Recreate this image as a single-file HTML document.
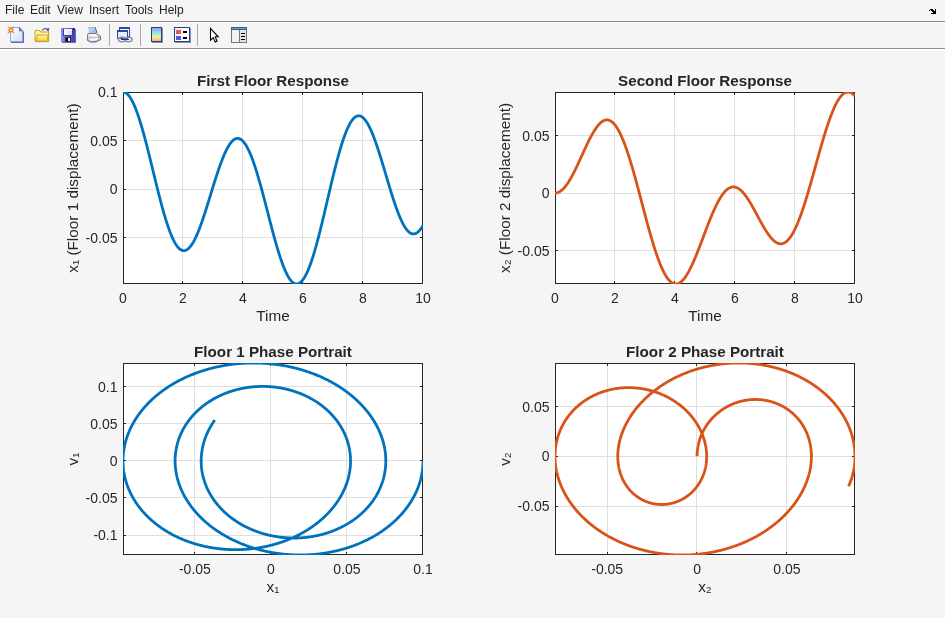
<!DOCTYPE html>
<html><head><meta charset="utf-8"><style>
html,body{margin:0;padding:0;width:945px;height:618px;overflow:hidden;background:#f5f5f5;font-family:"Liberation Sans",sans-serif;}
#wrap{position:absolute;left:0;top:0;width:945px;height:618px;will-change:transform;}
#menu{position:absolute;left:0;top:0;width:945px;height:21px;}
#menu span{position:absolute;top:3px;font-size:12px;color:#222;-webkit-font-smoothing:antialiased;}
.sep{position:absolute;left:0;width:945px;height:1px;background:#8e8e8e;}
.sepw{position:absolute;left:0;width:945px;height:1px;background:#fff;}
svg text{font-family:"Liberation Sans",sans-serif;fill:#262626;}
.tk{font-size:14px;}
.lb{font-size:15.3px;}
.ti{font-size:15.2px;font-weight:bold;}
</style></head><body><div id="wrap">
<div id="menu">
<span style="left:5px">File</span><span style="left:30px">Edit</span><span style="left:57px">View</span><span style="left:89px">Insert</span><span style="left:125px">Tools</span><span style="left:159px">Help</span>
</div>
<div class="sep" style="top:21px"></div><div class="sepw" style="top:22px"></div>
<div class="sep" style="top:48px"></div><div class="sepw" style="top:49px"></div>
<svg style="position:absolute;left:0;top:0" width="945" height="50" shape-rendering="crispEdges">
<defs>
<linearGradient id="gpage" x1="0" y1="0" x2="1" y2="1"><stop offset="0" stop-color="#ffffff"/><stop offset="1" stop-color="#cfe0f8"/></linearGradient>
<linearGradient id="gfold" x1="0" y1="0" x2="0" y2="1"><stop offset="0" stop-color="#fff6a8"/><stop offset="1" stop-color="#f2cd48"/></linearGradient>
<linearGradient id="gcbar" x1="0" y1="0" x2="0" y2="1"><stop offset="0" stop-color="#a09af0"/><stop offset="0.35" stop-color="#8ae8e8"/><stop offset="0.7" stop-color="#f4f08a"/><stop offset="1" stop-color="#f8b080"/></linearGradient>
<linearGradient id="gprint" x1="0" y1="0" x2="0" y2="1"><stop offset="0" stop-color="#f4f4f4"/><stop offset="1" stop-color="#a8a8a8"/></linearGradient>
<linearGradient id="gpaper" x1="0" y1="0" x2="1" y2="1"><stop offset="0" stop-color="#c8dcf8"/><stop offset="1" stop-color="#8fb8ec"/></linearGradient>
</defs>
<!-- new figure -->
<g shape-rendering="auto">
<path d="M11,29 L21,29 L24,32 L24,43 L11,43 Z" fill="#686c9c"/>
<path d="M10,27 L19.5,27 L23,30.5 L23,42 L10,42 Z" fill="#88a8e0"/>
<path d="M11,28 L19,28 L22,31 L22,41 L11,41 Z" fill="url(#gpage)"/>
<path d="M19,27 L23.2,31.2 L19,31.2 Z" fill="#5a5ea8"/>
<rect x="19.6" y="29.2" width="1.4" height="1.4" fill="#8aa0e0"/>
<circle cx="11" cy="30" r="2.6" fill="#e8743c"/>
<circle cx="11" cy="30" r="1.3" fill="#f0e860"/>
<circle cx="8.3" cy="27.3" r="0.7" fill="#e8743c"/>
<circle cx="13.7" cy="27.3" r="0.7" fill="#e8743c"/>
<circle cx="8.3" cy="32.7" r="0.7" fill="#e8743c"/>
<circle cx="13.7" cy="32.7" r="0.7" fill="#e8743c"/>
</g>
<!-- open -->
<g shape-rendering="auto">
<rect x="35.5" y="33" width="14" height="9.5" fill="#b8c8e0" opacity="0.6"/>
<path d="M34.5,31.5 L35.5,30 L40,30 L41,31.5 L48,31.5 L49,32.5 L49,41 L48,42 L35.5,42 L34.5,41 Z" fill="#d4a418"/>
<path d="M35.5,32 L36,31 L39.5,31 L40.5,32.5 L48,32.5 L48,41 L35.5,41 Z" fill="#fff2a8"/>
<path d="M37,34.5 L48.5,34.5 L47.5,41.5 L35,41.5 Z" fill="#d4a418"/>
<path d="M37.8,35.5 L47.5,35.5 L46.7,40.7 L36.2,40.7 Z" fill="url(#gfold)"/>
<path d="M42,30.5 Q44.5,27.3 47.3,29.2" fill="none" stroke="#3c5a9c" stroke-width="1.1"/>
<polygon points="45.8,29 49.3,28 48.6,32" fill="#3c5a9c"/>
</g>
<!-- save -->
<linearGradient id="gsave" x1="0" y1="0" x2="1" y2="0"><stop offset="0" stop-color="#9090ec"/><stop offset="0.5" stop-color="#5a5ad8"/><stop offset="1" stop-color="#3c3cb4"/></linearGradient>
<rect x="62" y="29" width="14" height="14" fill="#6a7098"/>
<rect x="61" y="28" width="14" height="14" fill="#4a4ab8"/>
<rect x="61" y="28" width="14" height="14" fill="url(#gsave)"/>
<rect x="63" y="29" width="10" height="7" fill="#3a3aa8"/>
<rect x="64" y="29" width="8" height="6" fill="#f4f4fc"/>
<rect x="68" y="31" width="4" height="4" fill="#dde0f4"/>
<rect x="73" y="28" width="1" height="2" fill="#202060"/>
<rect x="65" y="37" width="6" height="5" fill="#303040"/>
<rect x="66" y="38" width="2" height="3" fill="#000"/>
<rect x="68" y="38" width="2" height="3" fill="#f0f0f8"/>
<!-- print -->
<g shape-rendering="auto">
<polygon points="88,27 94.5,27 96.5,33 89,33" fill="url(#gpaper)"/>
<polygon points="88,27 94.5,27 94.5,28 88,28" fill="#a8b0e0"/>
<polygon points="94.5,27 95.5,27 97.5,33 96.5,33" fill="#505870"/>
<polygon points="88,33 96,33 101,36 101,40 96,42.5 90,42.5 87,40.5 87,35" fill="#7c7c7c"/>
<polygon points="88.2,34 95.8,34 100,36.5 100,39.5 95.8,41.5 90.2,41.5 88,40 88,35.5" fill="url(#gprint)"/>
<polygon points="88.5,34.2 95.5,34.2 99,36.2 92,36.2" fill="#f8f8f8"/>
<polygon points="88.5,39 99.5,38 95.5,40.8 90.5,40.8" fill="#fafafa"/>
<rect x="98" y="36.5" width="1.2" height="1.5" fill="#40b040"/>
<rect x="92.5" y="41.3" width="3" height="1" fill="#7070c0"/>
</g>
<!-- separators -->
<rect x="109" y="24" width="1" height="22" fill="#a8a8a8"/>
<rect x="140" y="24" width="1" height="22" fill="#a8a8a8"/>
<rect x="197" y="24" width="1" height="22" fill="#a8a8a8"/>
<!-- link -->
<rect x="119" y="27" width="11" height="10" fill="#2e4a98"/>
<rect x="120" y="29" width="9" height="7" fill="#f4f6fa"/>
<rect x="117" y="30" width="11" height="9" fill="#2e4a98"/>
<rect x="118" y="32" width="9" height="6" fill="#e6ecf6"/>
<ellipse cx="122" cy="39.5" rx="3.6" ry="2.3" fill="none" stroke="#8090b0" stroke-width="1.4" shape-rendering="auto"/>
<ellipse cx="128.5" cy="39.5" rx="3.6" ry="2.3" fill="none" stroke="#8090b0" stroke-width="1.4" shape-rendering="auto"/>
<rect x="121" y="39" width="8" height="1" fill="#2a3050"/>
<!-- colorbar -->
<rect x="151" y="27" width="11" height="15" fill="#2c3e78"/>
<rect x="152" y="28" width="9" height="13" fill="url(#gcbar)"/>
<rect x="162" y="28" width="1" height="15" fill="#8890a8"/><rect x="152" y="42" width="11" height="1" fill="#8890a8"/>
<!-- legend -->
<rect x="174" y="27" width="16" height="15" fill="#2c3e78"/>
<rect x="175" y="28" width="14" height="13" fill="#ffffff"/>
<rect x="175" y="28" width="7" height="6" fill="#eef2fa"/>
<rect x="190" y="28" width="1" height="15" fill="#8890a8"/><rect x="175" y="42" width="16" height="1" fill="#8890a8"/>
<rect x="176" y="30" width="5" height="4" fill="#e85858"/>
<rect x="176" y="36" width="5" height="4" fill="#5858e0"/>
<rect x="183" y="31" width="4" height="2" fill="#000"/>
<rect x="183" y="37" width="4" height="2" fill="#000"/>
<!-- pointer -->
<path d="M210.5,28.5 L210.5,40.2 L213.2,37.6 L215.2,42 L217,41.2 L215.2,36.8 L218.2,36.8 Z" fill="#fff" stroke="#000" stroke-width="1.1" stroke-linejoin="miter" shape-rendering="auto"/>
<!-- plot tools -->
<rect x="231" y="27" width="16" height="16" fill="#767676"/>
<rect x="231" y="27" width="16" height="3" fill="#3c5c84"/>
<rect x="232" y="28" width="14" height="1" fill="#7c9cc0"/>
<rect x="232" y="30" width="7" height="12" fill="#f0f2f4"/>
<rect x="240" y="30" width="6" height="12" fill="#e4e4e4"/>
<rect x="241" y="33" width="4" height="1" fill="#000"/>
<rect x="241" y="36" width="4" height="1" fill="#000"/>
<rect x="241" y="39" width="4" height="1" fill="#000"/>
<!-- undock arrow -->
<rect x="930" y="9" width="3" height="1" fill="#000"/>
<rect x="929" y="10" width="1" height="1" fill="#000"/>
<rect x="931" y="10" width="3" height="1" fill="#000"/>
<rect x="932" y="11" width="4" height="1" fill="#000"/>
<rect x="933" y="12" width="3" height="1" fill="#000"/>
<rect x="931" y="13" width="5" height="1" fill="#000"/>
<rect x="935" y="9" width="1" height="5" fill="#000"/>
</svg>
<svg style="position:absolute;left:0;top:0" width="945" height="618">
<clipPath id="c1"><rect x="123" y="92" width="300" height="192"/></clipPath>
<rect x="123" y="92" width="300" height="192" fill="#fff"/>
<line x1="123.5" y1="92.5" x2="123.5" y2="283.5" stroke="#dfdfdf" stroke-width="1"/>
<line x1="182.5" y1="92.5" x2="182.5" y2="283.5" stroke="#dfdfdf" stroke-width="1"/>
<line x1="242.5" y1="92.5" x2="242.5" y2="283.5" stroke="#dfdfdf" stroke-width="1"/>
<line x1="302.5" y1="92.5" x2="302.5" y2="283.5" stroke="#dfdfdf" stroke-width="1"/>
<line x1="362.5" y1="92.5" x2="362.5" y2="283.5" stroke="#dfdfdf" stroke-width="1"/>
<line x1="422.5" y1="92.5" x2="422.5" y2="283.5" stroke="#dfdfdf" stroke-width="1"/>
<line x1="123.5" y1="92.5" x2="422.5" y2="92.5" stroke="#dfdfdf" stroke-width="1"/>
<line x1="123.5" y1="140.5" x2="422.5" y2="140.5" stroke="#dfdfdf" stroke-width="1"/>
<line x1="123.5" y1="189.5" x2="422.5" y2="189.5" stroke="#dfdfdf" stroke-width="1"/>
<line x1="123.5" y1="237.5" x2="422.5" y2="237.5" stroke="#dfdfdf" stroke-width="1"/>
<line x1="123.5" y1="284" x2="123.5" y2="281" stroke="#262626" stroke-width="1"/>
<line x1="123.5" y1="92" x2="123.5" y2="95" stroke="#262626" stroke-width="1"/>
<line x1="182.5" y1="284" x2="182.5" y2="281" stroke="#262626" stroke-width="1"/>
<line x1="182.5" y1="92" x2="182.5" y2="95" stroke="#262626" stroke-width="1"/>
<line x1="242.5" y1="284" x2="242.5" y2="281" stroke="#262626" stroke-width="1"/>
<line x1="242.5" y1="92" x2="242.5" y2="95" stroke="#262626" stroke-width="1"/>
<line x1="302.5" y1="284" x2="302.5" y2="281" stroke="#262626" stroke-width="1"/>
<line x1="302.5" y1="92" x2="302.5" y2="95" stroke="#262626" stroke-width="1"/>
<line x1="362.5" y1="284" x2="362.5" y2="281" stroke="#262626" stroke-width="1"/>
<line x1="362.5" y1="92" x2="362.5" y2="95" stroke="#262626" stroke-width="1"/>
<line x1="422.5" y1="284" x2="422.5" y2="281" stroke="#262626" stroke-width="1"/>
<line x1="422.5" y1="92" x2="422.5" y2="95" stroke="#262626" stroke-width="1"/>
<line x1="123" y1="92.5" x2="126" y2="92.5" stroke="#262626" stroke-width="1"/>
<line x1="423" y1="92.5" x2="420" y2="92.5" stroke="#262626" stroke-width="1"/>
<line x1="123" y1="140.5" x2="126" y2="140.5" stroke="#262626" stroke-width="1"/>
<line x1="423" y1="140.5" x2="420" y2="140.5" stroke="#262626" stroke-width="1"/>
<line x1="123" y1="189.5" x2="126" y2="189.5" stroke="#262626" stroke-width="1"/>
<line x1="423" y1="189.5" x2="420" y2="189.5" stroke="#262626" stroke-width="1"/>
<line x1="123" y1="237.5" x2="126" y2="237.5" stroke="#262626" stroke-width="1"/>
<line x1="423" y1="237.5" x2="420" y2="237.5" stroke="#262626" stroke-width="1"/>
<rect x="123.5" y="92.5" width="299.0" height="191.0" fill="none" stroke="#262626" stroke-width="1"/>
<polyline clip-path="url(#c1)" points="123.00,92.00 123.10,92.00 123.20,92.00 123.30,92.01 123.40,92.02 123.50,92.03 123.60,92.04 123.70,92.05 123.80,92.07 123.90,92.09 124.00,92.11 124.10,92.13 124.20,92.16 124.30,92.18 124.40,92.21 124.50,92.24 124.60,92.28 124.70,92.31 124.80,92.35 124.90,92.39 125.00,92.43 125.10,92.48 125.20,92.52 125.30,92.57 125.40,92.62 125.50,92.67 125.60,92.73 125.70,92.79 125.80,92.85 125.90,92.91 126.00,92.97 126.10,93.04 126.20,93.10 126.30,93.17 126.40,93.25 126.50,93.32 126.60,93.40 126.70,93.48 126.80,93.56 126.90,93.64 127.00,93.72 127.10,93.81 127.20,93.90 127.30,93.99 127.40,94.08 127.50,94.18 127.60,94.28 127.70,94.38 127.80,94.48 127.90,94.58 128.00,94.69 128.10,94.80 128.20,94.91 128.30,95.02 128.40,95.13 128.50,95.25 128.60,95.37 128.70,95.49 128.80,95.61 128.90,95.73 129.00,95.86 129.10,95.99 129.20,96.12 129.30,96.25 129.40,96.39 129.50,96.52 129.60,96.66 129.70,96.80 129.80,96.95 129.90,97.09 130.00,97.24 130.10,97.39 130.20,97.54 130.30,97.69 130.40,97.85 130.50,98.00 130.60,98.16 130.70,98.32 130.80,98.49 130.90,98.65 131.00,98.82 131.10,98.99 131.20,99.16 131.30,99.33 131.40,99.51 131.50,99.68 131.60,99.86 131.70,100.04 131.80,100.22 131.90,100.41 132.00,100.60 132.10,100.78 132.20,100.97 132.30,101.17 132.40,101.36 132.50,101.56 132.60,101.75 132.70,101.95 132.80,102.16 132.90,102.36 133.00,102.57 133.10,102.77 133.20,102.98 133.30,103.19 133.40,103.41 133.50,103.62 133.60,103.84 133.70,104.06 133.80,104.28 133.90,104.50 134.00,104.72 134.10,104.95 134.20,105.17 134.30,105.40 134.40,105.64 134.50,105.87 134.60,106.10 134.70,106.34 134.80,106.58 134.90,106.82 135.00,107.06 135.10,107.30 135.20,107.55 135.30,107.79 135.40,108.04 135.50,108.29 135.60,108.55 135.70,108.80 135.80,109.05 135.90,109.31 136.00,109.57 136.10,109.83 136.20,110.09 136.30,110.36 136.40,110.62 136.50,110.89 136.60,111.16 136.70,111.43 136.80,111.70 136.90,111.97 137.00,112.25 137.10,112.53 137.20,112.81 137.30,113.09 137.40,113.37 137.50,113.65 137.60,113.94 137.70,114.22 137.80,114.51 137.90,114.80 138.00,115.09 138.10,115.38 138.20,115.68 138.30,115.97 138.40,116.27 138.50,116.57 138.60,116.87 138.70,117.17 138.80,117.47 138.90,117.78 139.00,118.08 139.10,118.39 139.20,118.70 139.30,119.01 139.40,119.32 139.50,119.63 139.60,119.95 139.70,120.26 139.80,120.58 139.90,120.90 140.00,121.22 140.10,121.54 140.20,121.86 140.30,122.18 140.40,122.51 140.50,122.84 140.60,123.16 140.70,123.49 140.80,123.82 140.90,124.15 141.00,124.49 141.10,124.82 141.20,125.16 141.30,125.49 141.40,125.83 141.50,126.17 141.60,126.51 141.70,126.85 141.80,127.20 141.90,127.54 142.00,127.88 142.10,128.23 142.20,128.58 142.30,128.93 142.40,129.28 142.50,129.63 142.60,129.98 142.70,130.33 142.80,130.69 142.90,131.04 143.00,131.40 143.10,131.76 143.20,132.11 143.30,132.47 143.40,132.84 143.50,133.20 143.60,133.56 143.70,133.92 143.80,134.29 143.90,134.65 144.00,135.02 144.10,135.39 144.20,135.76 144.30,136.13 144.40,136.50 144.50,136.87 144.60,137.24 144.70,137.61 144.80,137.99 144.90,138.36 145.00,138.74 145.10,139.12 145.20,139.49 145.30,139.87 145.40,140.25 145.50,140.63 145.60,141.01 145.70,141.39 145.80,141.78 145.90,142.16 146.00,142.54 146.10,142.93 146.20,143.31 146.30,143.70 146.40,144.09 146.50,144.48 146.60,144.86 146.70,145.25 146.80,145.64 146.90,146.03 147.00,146.43 147.10,146.82 147.20,147.21 147.30,147.60 147.40,148.00 147.50,148.39 147.60,148.79 147.70,149.18 147.80,149.58 147.90,149.98 148.00,150.37 148.10,150.77 148.20,151.17 148.30,151.57 148.40,151.97 148.50,152.37 148.60,152.77 148.70,153.17 148.80,153.57 148.90,153.98 149.00,154.38 149.10,154.78 149.20,155.18 149.30,155.59 149.40,155.99 149.50,156.40 149.60,156.80 149.70,157.21 149.80,157.61 149.90,158.02 150.00,158.42 150.10,158.83 150.20,159.24 150.30,159.65 150.40,160.05 150.50,160.46 150.60,160.87 150.70,161.28 150.80,161.69 150.90,162.10 151.00,162.51 151.10,162.91 151.20,163.32 151.30,163.73 151.40,164.14 151.50,164.55 151.60,164.96 151.70,165.38 151.80,165.79 151.90,166.20 152.00,166.61 152.10,167.02 152.20,167.43 152.30,167.84 152.40,168.25 152.50,168.66 152.60,169.08 152.70,169.49 152.80,169.90 152.90,170.31 153.00,170.72 153.10,171.13 153.20,171.54 153.30,171.96 153.40,172.37 153.50,172.78 153.60,173.19 153.70,173.60 153.80,174.01 153.90,174.42 154.00,174.83 154.10,175.24 154.20,175.66 154.30,176.07 154.40,176.48 154.50,176.89 154.60,177.30 154.70,177.71 154.80,178.12 154.90,178.53 155.00,178.94 155.10,179.34 155.20,179.75 155.30,180.16 155.40,180.57 155.50,180.98 155.60,181.39 155.70,181.79 155.80,182.20 155.90,182.61 156.00,183.01 156.10,183.42 156.20,183.83 156.30,184.23 156.40,184.64 156.50,185.04 156.60,185.45 156.70,185.85 156.80,186.25 156.90,186.66 157.00,187.06 157.10,187.46 157.20,187.86 157.30,188.26 157.40,188.67 157.50,189.07 157.60,189.47 157.70,189.86 157.80,190.26 157.90,190.66 158.00,191.06 158.10,191.46 158.20,191.85 158.30,192.25 158.40,192.65 158.50,193.04 158.60,193.43 158.70,193.83 158.80,194.22 158.90,194.61 159.00,195.01 159.10,195.40 159.20,195.79 159.30,196.18 159.40,196.57 159.50,196.95 159.60,197.34 159.70,197.73 159.80,198.11 159.90,198.50 160.00,198.88 160.10,199.27 160.20,199.65 160.30,200.03 160.40,200.42 160.50,200.80 160.60,201.18 160.70,201.56 160.80,201.93 160.90,202.31 161.00,202.69 161.10,203.06 161.20,203.44 161.30,203.81 161.40,204.19 161.50,204.56 161.60,204.93 161.70,205.30 161.80,205.67 161.90,206.04 162.00,206.41 162.10,206.77 162.20,207.14 162.30,207.50 162.40,207.87 162.50,208.23 162.60,208.59 162.70,208.95 162.80,209.31 162.90,209.67 163.00,210.03 163.10,210.38 163.20,210.74 163.30,211.09 163.40,211.45 163.50,211.80 163.60,212.15 163.70,212.50 163.80,212.85 163.90,213.20 164.00,213.54 164.10,213.89 164.20,214.23 164.30,214.57 164.40,214.92 164.50,215.26 164.60,215.60 164.70,215.93 164.80,216.27 164.90,216.61 165.00,216.94 165.10,217.28 165.20,217.61 165.30,217.94 165.40,218.27 165.50,218.60 165.60,218.92 165.70,219.25 165.80,219.57 165.90,219.90 166.00,220.22 166.10,220.54 166.20,220.86 166.30,221.18 166.40,221.49 166.50,221.81 166.60,222.12 166.70,222.44 166.80,222.75 166.90,223.06 167.00,223.36 167.10,223.67 167.20,223.98 167.30,224.28 167.40,224.58 167.50,224.88 167.60,225.18 167.70,225.48 167.80,225.78 167.90,226.08 168.00,226.37 168.10,226.66 168.20,226.95 168.30,227.24 168.40,227.53 168.50,227.82 168.60,228.10 168.70,228.38 168.80,228.67 168.90,228.95 169.00,229.23 169.10,229.50 169.20,229.78 169.30,230.05 169.40,230.33 169.50,230.60 169.60,230.87 169.70,231.13 169.80,231.40 169.90,231.66 170.00,231.93 170.10,232.19 170.20,232.45 170.30,232.71 170.40,232.96 170.50,233.22 170.60,233.47 170.70,233.72 170.80,233.97 170.90,234.22 171.00,234.47 171.10,234.71 171.20,234.96 171.30,235.20 171.40,235.44 171.50,235.68 171.60,235.91 171.70,236.15 171.80,236.38 171.90,236.61 172.00,236.84 172.10,237.07 172.20,237.29 172.30,237.52 172.40,237.74 172.50,237.96 172.60,238.18 172.70,238.40 172.80,238.61 172.90,238.83 173.00,239.04 173.10,239.25 173.20,239.46 173.30,239.66 173.40,239.87 173.50,240.07 173.60,240.27 173.70,240.47 173.80,240.67 173.90,240.86 174.00,241.06 174.10,241.25 174.20,241.44 174.30,241.63 174.40,241.81 174.50,242.00 174.60,242.18 174.70,242.36 174.80,242.54 174.90,242.72 175.00,242.89 175.10,243.07 175.20,243.24 175.30,243.41 175.40,243.57 175.50,243.74 175.60,243.90 175.70,244.07 175.80,244.23 175.90,244.38 176.00,244.54 176.10,244.69 176.20,244.85 176.30,245.00 176.40,245.15 176.50,245.29 176.60,245.44 176.70,245.58 176.80,245.72 176.90,245.86 177.00,246.00 177.10,246.13 177.20,246.26 177.30,246.40 177.40,246.53 177.50,246.65 177.60,246.78 177.70,246.90 177.80,247.02 177.90,247.14 178.00,247.26 178.10,247.37 178.20,247.49 178.30,247.60 178.40,247.71 178.50,247.82 178.60,247.92 178.70,248.03 178.80,248.13 178.90,248.23 179.00,248.32 179.10,248.42 179.20,248.51 179.30,248.60 179.40,248.69 179.50,248.78 179.60,248.87 179.70,248.95 179.80,249.03 179.90,249.11 180.00,249.19 180.10,249.27 180.20,249.34 180.30,249.41 180.40,249.48 180.50,249.55 180.60,249.61 180.70,249.68 180.80,249.74 180.90,249.80 181.00,249.86 181.10,249.91 181.20,249.97 181.30,250.02 181.40,250.07 181.50,250.11 181.60,250.16 181.70,250.20 181.80,250.25 181.90,250.29 182.00,250.32 182.10,250.36 182.20,250.39 182.30,250.42 182.40,250.45 182.50,250.48 182.60,250.51 182.70,250.53 182.80,250.55 182.90,250.57 183.00,250.59 183.10,250.60 183.20,250.62 183.30,250.63 183.40,250.64 183.50,250.65 183.60,250.65 183.70,250.65 183.80,250.66 183.90,250.66 184.00,250.65 184.10,250.65 184.20,250.64 184.30,250.63 184.40,250.62 184.50,250.61 184.60,250.60 184.70,250.58 184.80,250.56 184.90,250.54 185.00,250.52 185.10,250.50 185.20,250.47 185.30,250.44 185.40,250.41 185.50,250.38 185.60,250.34 185.70,250.31 185.80,250.27 185.90,250.23 186.00,250.19 186.10,250.14 186.20,250.10 186.30,250.05 186.40,250.00 186.50,249.95 186.60,249.90 186.70,249.84 186.80,249.78 186.90,249.72 187.00,249.66 187.10,249.60 187.20,249.53 187.30,249.47 187.40,249.40 187.50,249.33 187.60,249.25 187.70,249.18 187.80,249.10 187.90,249.02 188.00,248.94 188.10,248.86 188.20,248.78 188.30,248.69 188.40,248.60 188.50,248.51 188.60,248.42 188.70,248.33 188.80,248.23 188.90,248.14 189.00,248.04 189.10,247.94 189.20,247.83 189.30,247.73 189.40,247.62 189.50,247.51 189.60,247.40 189.70,247.29 189.80,247.18 189.90,247.06 190.00,246.94 190.10,246.83 190.20,246.70 190.30,246.58 190.40,246.46 190.50,246.33 190.60,246.20 190.70,246.07 190.80,245.94 190.90,245.81 191.00,245.67 191.10,245.54 191.20,245.40 191.30,245.26 191.40,245.11 191.50,244.97 191.60,244.82 191.70,244.68 191.80,244.53 191.90,244.38 192.00,244.23 192.10,244.07 192.20,243.92 192.30,243.76 192.40,243.60 192.50,243.44 192.60,243.27 192.70,243.11 192.80,242.94 192.90,242.78 193.00,242.61 193.10,242.44 193.20,242.26 193.30,242.09 193.40,241.92 193.50,241.74 193.60,241.56 193.70,241.38 193.80,241.20 193.90,241.01 194.00,240.83 194.10,240.64 194.20,240.45 194.30,240.26 194.40,240.07 194.50,239.88 194.60,239.68 194.70,239.49 194.80,239.29 194.90,239.09 195.00,238.89 195.10,238.69 195.20,238.48 195.30,238.28 195.40,238.07 195.50,237.86 195.60,237.66 195.70,237.44 195.80,237.23 195.90,237.02 196.00,236.80 196.10,236.59 196.20,236.37 196.30,236.15 196.40,235.93 196.50,235.70 196.60,235.48 196.70,235.26 196.80,235.03 196.90,234.80 197.00,234.57 197.10,234.34 197.20,234.11 197.30,233.88 197.40,233.64 197.50,233.41 197.60,233.17 197.70,232.93 197.80,232.69 197.90,232.45 198.00,232.21 198.10,231.96 198.20,231.72 198.30,231.47 198.40,231.23 198.50,230.98 198.60,230.73 198.70,230.48 198.80,230.22 198.90,229.97 199.00,229.72 199.10,229.46 199.20,229.20 199.30,228.95 199.40,228.69 199.50,228.43 199.60,228.16 199.70,227.90 199.80,227.64 199.90,227.37 200.00,227.11 200.10,226.84 200.20,226.57 200.30,226.30 200.40,226.03 200.50,225.76 200.60,225.49 200.70,225.22 200.80,224.94 200.90,224.67 201.00,224.39 201.10,224.11 201.20,223.83 201.30,223.55 201.40,223.27 201.50,222.99 201.60,222.71 201.70,222.43 201.80,222.14 201.90,221.86 202.00,221.57 202.10,221.29 202.20,221.00 202.30,220.71 202.40,220.42 202.50,220.13 202.60,219.84 202.70,219.55 202.80,219.25 202.90,218.96 203.00,218.66 203.10,218.37 203.20,218.07 203.30,217.78 203.40,217.48 203.50,217.18 203.60,216.88 203.70,216.58 203.80,216.28 203.90,215.98 204.00,215.68 204.10,215.37 204.20,215.07 204.30,214.77 204.40,214.46 204.50,214.16 204.60,213.85 204.70,213.54 204.80,213.24 204.90,212.93 205.00,212.62 205.10,212.31 205.20,212.00 205.30,211.69 205.40,211.38 205.50,211.07 205.60,210.75 205.70,210.44 205.80,210.13 205.90,209.82 206.00,209.50 206.10,209.19 206.20,208.87 206.30,208.56 206.40,208.24 206.50,207.92 206.60,207.61 206.70,207.29 206.80,206.97 206.90,206.65 207.00,206.33 207.10,206.02 207.20,205.70 207.30,205.38 207.40,205.06 207.50,204.74 207.60,204.41 207.70,204.09 207.80,203.77 207.90,203.45 208.00,203.13 208.10,202.81 208.20,202.48 208.30,202.16 208.40,201.84 208.50,201.51 208.60,201.19 208.70,200.87 208.80,200.54 208.90,200.22 209.00,199.89 209.10,199.57 209.20,199.24 209.30,198.92 209.40,198.59 209.50,198.27 209.60,197.94 209.70,197.62 209.80,197.29 209.90,196.97 210.00,196.64 210.10,196.32 210.20,195.99 210.30,195.67 210.40,195.34 210.50,195.01 210.60,194.69 210.70,194.36 210.80,194.04 210.90,193.71 211.00,193.38 211.10,193.06 211.20,192.73 211.30,192.41 211.40,192.08 211.50,191.76 211.60,191.43 211.70,191.11 211.80,190.78 211.90,190.46 212.00,190.13 212.10,189.81 212.20,189.48 212.30,189.16 212.40,188.83 212.50,188.51 212.60,188.18 212.70,187.86 212.80,187.54 212.90,187.21 213.00,186.89 213.10,186.57 213.20,186.25 213.30,185.92 213.40,185.60 213.50,185.28 213.60,184.96 213.70,184.64 213.80,184.32 213.90,184.00 214.00,183.68 214.10,183.36 214.20,183.04 214.30,182.72 214.40,182.40 214.50,182.08 214.60,181.77 214.70,181.45 214.80,181.13 214.90,180.82 215.00,180.50 215.10,180.19 215.20,179.87 215.30,179.56 215.40,179.24 215.50,178.93 215.60,178.62 215.70,178.30 215.80,177.99 215.90,177.68 216.00,177.37 216.10,177.06 216.20,176.75 216.30,176.44 216.40,176.13 216.50,175.83 216.60,175.52 216.70,175.21 216.80,174.91 216.90,174.60 217.00,174.30 217.10,173.99 217.20,173.69 217.30,173.39 217.40,173.09 217.50,172.79 217.60,172.49 217.70,172.19 217.80,171.89 217.90,171.59 218.00,171.29 218.10,171.00 218.20,170.70 218.30,170.41 218.40,170.11 218.50,169.82 218.60,169.53 218.70,169.24 218.80,168.94 218.90,168.65 219.00,168.37 219.10,168.08 219.20,167.79 219.30,167.50 219.40,167.22 219.50,166.93 219.60,166.65 219.70,166.37 219.80,166.09 219.90,165.81 220.00,165.53 220.10,165.25 220.20,164.97 220.30,164.69 220.40,164.42 220.50,164.14 220.60,163.87 220.70,163.59 220.80,163.32 220.90,163.05 221.00,162.78 221.10,162.51 221.20,162.25 221.30,161.98 221.40,161.71 221.50,161.45 221.60,161.19 221.70,160.92 221.80,160.66 221.90,160.40 222.00,160.15 222.10,159.89 222.20,159.63 222.30,159.38 222.40,159.12 222.50,158.87 222.60,158.62 222.70,158.37 222.80,158.12 222.90,157.87 223.00,157.62 223.10,157.38 223.20,157.13 223.30,156.89 223.40,156.65 223.50,156.41 223.60,156.17 223.70,155.93 223.80,155.69 223.90,155.46 224.00,155.22 224.10,154.99 224.20,154.76 224.30,154.53 224.40,154.30 224.50,154.07 224.60,153.85 224.70,153.62 224.80,153.40 224.90,153.18 225.00,152.96 225.10,152.74 225.20,152.52 225.30,152.31 225.40,152.09 225.50,151.88 225.60,151.66 225.70,151.45 225.80,151.25 225.90,151.04 226.00,150.83 226.10,150.63 226.20,150.42 226.30,150.22 226.40,150.02 226.50,149.82 226.60,149.62 226.70,149.43 226.80,149.23 226.90,149.04 227.00,148.85 227.10,148.66 227.20,148.47 227.30,148.29 227.40,148.10 227.50,147.92 227.60,147.74 227.70,147.56 227.80,147.38 227.90,147.20 228.00,147.02 228.10,146.85 228.20,146.68 228.30,146.51 228.40,146.34 228.50,146.17 228.60,146.01 228.70,145.84 228.80,145.68 228.90,145.52 229.00,145.36 229.10,145.20 229.20,145.04 229.30,144.89 229.40,144.74 229.50,144.59 229.60,144.44 229.70,144.29 229.80,144.14 229.90,144.00 230.00,143.86 230.10,143.72 230.20,143.58 230.30,143.44 230.40,143.31 230.50,143.17 230.60,143.04 230.70,142.91 230.80,142.78 230.90,142.66 231.00,142.53 231.10,142.41 231.20,142.29 231.30,142.17 231.40,142.05 231.50,141.93 231.60,141.82 231.70,141.71 231.80,141.60 231.90,141.49 232.00,141.38 232.10,141.27 232.20,141.17 232.30,141.07 232.40,140.97 232.50,140.87 232.60,140.78 232.70,140.68 232.80,140.59 232.90,140.50 233.00,140.41 233.10,140.32 233.20,140.24 233.30,140.15 233.40,140.07 233.50,139.99 233.60,139.92 233.70,139.84 233.80,139.77 233.90,139.69 234.00,139.62 234.10,139.56 234.20,139.49 234.30,139.42 234.40,139.36 234.50,139.30 234.60,139.24 234.70,139.19 234.80,139.13 234.90,139.08 235.00,139.03 235.10,138.98 235.20,138.93 235.30,138.89 235.40,138.84 235.50,138.80 235.60,138.76 235.70,138.72 235.80,138.69 235.90,138.65 236.00,138.62 236.10,138.59 236.20,138.56 236.30,138.54 236.40,138.51 236.50,138.49 236.60,138.47 236.70,138.45 236.80,138.44 236.90,138.42 237.00,138.41 237.10,138.40 237.20,138.39 237.30,138.38 237.40,138.38 237.50,138.38 237.60,138.38 237.70,138.38 237.80,138.38 237.90,138.38 238.00,138.39 238.10,138.40 238.20,138.41 238.30,138.42 238.40,138.44 238.50,138.46 238.60,138.48 238.70,138.50 238.80,138.52 238.90,138.54 239.00,138.57 239.10,138.60 239.20,138.63 239.30,138.66 239.40,138.70 239.50,138.73 239.60,138.77 239.70,138.81 239.80,138.85 239.90,138.90 240.00,138.95 240.10,138.99 240.20,139.04 240.30,139.10 240.40,139.15 240.50,139.21 240.60,139.26 240.70,139.32 240.80,139.39 240.90,139.45 241.00,139.52 241.10,139.58 241.20,139.65 241.30,139.73 241.40,139.80 241.50,139.88 241.60,139.95 241.70,140.03 241.80,140.11 241.90,140.20 242.00,140.28 242.10,140.37 242.20,140.46 242.30,140.55 242.40,140.64 242.50,140.74 242.60,140.84 242.70,140.94 242.80,141.04 242.90,141.14 243.00,141.24 243.10,141.35 243.20,141.46 243.30,141.57 243.40,141.68 243.50,141.80 243.60,141.91 243.70,142.03 243.80,142.15 243.90,142.27 244.00,142.40 244.10,142.52 244.20,142.65 244.30,142.78 244.40,142.91 244.50,143.04 244.60,143.18 244.70,143.32 244.80,143.46 244.90,143.60 245.00,143.74 245.10,143.88 245.20,144.03 245.30,144.18 245.40,144.33 245.50,144.48 245.60,144.63 245.70,144.79 245.80,144.95 245.90,145.11 246.00,145.27 246.10,145.43 246.20,145.60 246.30,145.76 246.40,145.93 246.50,146.10 246.60,146.27 246.70,146.45 246.80,146.62 246.90,146.80 247.00,146.98 247.10,147.16 247.20,147.35 247.30,147.53 247.40,147.72 247.50,147.90 247.60,148.09 247.70,148.29 247.80,148.48 247.90,148.68 248.00,148.87 248.10,149.07 248.20,149.27 248.30,149.47 248.40,149.68 248.50,149.88 248.60,150.09 248.70,150.30 248.80,150.51 248.90,150.72 249.00,150.94 249.10,151.15 249.20,151.37 249.30,151.59 249.40,151.81 249.50,152.03 249.60,152.26 249.70,152.48 249.80,152.71 249.90,152.94 250.00,153.17 250.10,153.40 250.20,153.64 250.30,153.87 250.40,154.11 250.50,154.35 250.60,154.59 250.70,154.83 250.80,155.08 250.90,155.32 251.00,155.57 251.10,155.82 251.20,156.07 251.30,156.32 251.40,156.57 251.50,156.82 251.60,157.08 251.70,157.34 251.80,157.60 251.90,157.86 252.00,158.12 252.10,158.38 252.20,158.65 252.30,158.92 252.40,159.18 252.50,159.45 252.60,159.73 252.70,160.00 252.80,160.27 252.90,160.55 253.00,160.82 253.10,161.10 253.20,161.38 253.30,161.66 253.40,161.95 253.50,162.23 253.60,162.51 253.70,162.80 253.80,163.09 253.90,163.38 254.00,163.67 254.10,163.96 254.20,164.26 254.30,164.55 254.40,164.85 254.50,165.14 254.60,165.44 254.70,165.74 254.80,166.04 254.90,166.35 255.00,166.65 255.10,166.96 255.20,167.26 255.30,167.57 255.40,167.88 255.50,168.19 255.60,168.50 255.70,168.81 255.80,169.13 255.90,169.44 256.00,169.76 256.10,170.08 256.20,170.39 256.30,170.71 256.40,171.03 256.50,171.36 256.60,171.68 256.70,172.00 256.80,172.33 256.90,172.66 257.00,172.98 257.10,173.31 257.20,173.64 257.30,173.97 257.40,174.31 257.50,174.64 257.60,174.97 257.70,175.31 257.80,175.64 257.90,175.98 258.00,176.32 258.10,176.66 258.20,177.00 258.30,177.34 258.40,177.68 258.50,178.03 258.60,178.37 258.70,178.71 258.80,179.06 258.90,179.41 259.00,179.76 259.10,180.10 259.20,180.45 259.30,180.80 259.40,181.16 259.50,181.51 259.60,181.86 259.70,182.21 259.80,182.57 259.90,182.93 260.00,183.28 260.10,183.64 260.20,184.00 260.30,184.36 260.40,184.72 260.50,185.08 260.60,185.44 260.70,185.80 260.80,186.16 260.90,186.53 261.00,186.89 261.10,187.25 261.20,187.62 261.30,187.99 261.40,188.35 261.50,188.72 261.60,189.09 261.70,189.46 261.80,189.83 261.90,190.20 262.00,190.57 262.10,190.94 262.20,191.31 262.30,191.68 262.40,192.06 262.50,192.43 262.60,192.80 262.70,193.18 262.80,193.56 262.90,193.93 263.00,194.31 263.10,194.68 263.20,195.06 263.30,195.44 263.40,195.82 263.50,196.20 263.60,196.58 263.70,196.96 263.80,197.34 263.90,197.72 264.00,198.10 264.10,198.48 264.20,198.86 264.30,199.24 264.40,199.62 264.50,200.01 264.60,200.39 264.70,200.77 264.80,201.16 264.90,201.54 265.00,201.93 265.10,202.31 265.20,202.69 265.30,203.08 265.40,203.47 265.50,203.85 265.60,204.24 265.70,204.62 265.80,205.01 265.90,205.40 266.00,205.78 266.10,206.17 266.20,206.56 266.30,206.94 266.40,207.33 266.50,207.72 266.60,208.11 266.70,208.49 266.80,208.88 266.90,209.27 267.00,209.66 267.10,210.05 267.20,210.43 267.30,210.82 267.40,211.21 267.50,211.60 267.60,211.99 267.70,212.37 267.80,212.76 267.90,213.15 268.00,213.54 268.10,213.93 268.20,214.31 268.30,214.70 268.40,215.09 268.50,215.48 268.60,215.87 268.70,216.25 268.80,216.64 268.90,217.03 269.00,217.42 269.10,217.80 269.20,218.19 269.30,218.58 269.40,218.96 269.50,219.35 269.60,219.74 269.70,220.12 269.80,220.51 269.90,220.89 270.00,221.28 270.10,221.66 270.20,222.05 270.30,222.43 270.40,222.82 270.50,223.20 270.60,223.58 270.70,223.97 270.80,224.35 270.90,224.73 271.00,225.11 271.10,225.49 271.20,225.88 271.30,226.26 271.40,226.64 271.50,227.02 271.60,227.40 271.70,227.78 271.80,228.15 271.90,228.53 272.00,228.91 272.10,229.29 272.20,229.66 272.30,230.04 272.40,230.42 272.50,230.79 272.60,231.17 272.70,231.54 272.80,231.91 272.90,232.29 273.00,232.66 273.10,233.03 273.20,233.40 273.30,233.77 273.40,234.14 273.50,234.51 273.60,234.88 273.70,235.25 273.80,235.62 273.90,235.98 274.00,236.35 274.10,236.71 274.20,237.08 274.30,237.44 274.40,237.81 274.50,238.17 274.60,238.53 274.70,238.89 274.80,239.25 274.90,239.61 275.00,239.97 275.10,240.33 275.20,240.68 275.30,241.04 275.40,241.39 275.50,241.75 275.60,242.10 275.70,242.45 275.80,242.81 275.90,243.16 276.00,243.51 276.10,243.86 276.20,244.20 276.30,244.55 276.40,244.90 276.50,245.24 276.60,245.59 276.70,245.93 276.80,246.27 276.90,246.62 277.00,246.96 277.10,247.30 277.20,247.63 277.30,247.97 277.40,248.31 277.50,248.64 277.60,248.98 277.70,249.31 277.80,249.64 277.90,249.97 278.00,250.30 278.10,250.63 278.20,250.96 278.30,251.29 278.40,251.61 278.50,251.94 278.60,252.26 278.70,252.58 278.80,252.90 278.90,253.22 279.00,253.54 279.10,253.86 279.20,254.17 279.30,254.49 279.40,254.80 279.50,255.11 279.60,255.43 279.70,255.74 279.80,256.04 279.90,256.35 280.00,256.66 280.10,256.96 280.20,257.27 280.30,257.57 280.40,257.87 280.50,258.17 280.60,258.47 280.70,258.76 280.80,259.06 280.90,259.35 281.00,259.64 281.10,259.94 281.20,260.23 281.30,260.51 281.40,260.80 281.50,261.09 281.60,261.37 281.70,261.65 281.80,261.94 281.90,262.22 282.00,262.49 282.10,262.77 282.20,263.05 282.30,263.32 282.40,263.59 282.50,263.86 282.60,264.13 282.70,264.40 282.80,264.67 282.90,264.93 283.00,265.20 283.10,265.46 283.20,265.72 283.30,265.98 283.40,266.23 283.50,266.49 283.60,266.74 283.70,267.00 283.80,267.25 283.90,267.50 284.00,267.74 284.10,267.99 284.20,268.24 284.30,268.48 284.40,268.72 284.50,268.96 284.60,269.20 284.70,269.43 284.80,269.67 284.90,269.90 285.00,270.13 285.10,270.36 285.20,270.59 285.30,270.81 285.40,271.04 285.50,271.26 285.60,271.48 285.70,271.70 285.80,271.92 285.90,272.13 286.00,272.35 286.10,272.56 286.20,272.77 286.30,272.98 286.40,273.18 286.50,273.39 286.60,273.59 286.70,273.79 286.80,273.99 286.90,274.19 287.00,274.39 287.10,274.58 287.20,274.77 287.30,274.96 287.40,275.15 287.50,275.34 287.60,275.52 287.70,275.71 287.80,275.89 287.90,276.07 288.00,276.24 288.10,276.42 288.20,276.59 288.30,276.77 288.40,276.93 288.50,277.10 288.60,277.27 288.70,277.43 288.80,277.60 288.90,277.76 289.00,277.91 289.10,278.07 289.20,278.22 289.30,278.38 289.40,278.53 289.50,278.68 289.60,278.82 289.70,278.97 289.80,279.11 289.90,279.25 290.00,279.39 290.10,279.53 290.20,279.66 290.30,279.79 290.40,279.92 290.50,280.05 290.60,280.18 290.70,280.31 290.80,280.43 290.90,280.55 291.00,280.67 291.10,280.78 291.20,280.90 291.30,281.01 291.40,281.12 291.50,281.23 291.60,281.34 291.70,281.44 291.80,281.54 291.90,281.64 292.00,281.74 292.10,281.84 292.20,281.93 292.30,282.03 292.40,282.12 292.50,282.20 292.60,282.29 292.70,282.37 292.80,282.46 292.90,282.54 293.00,282.61 293.10,282.69 293.20,282.76 293.30,282.83 293.40,282.90 293.50,282.97 293.60,283.03 293.70,283.10 293.80,283.16 293.90,283.22 294.00,283.27 294.10,283.33 294.20,283.38 294.30,283.43 294.40,283.48 294.50,283.53 294.60,283.57 294.70,283.61 294.80,283.65 294.90,283.69 295.00,283.72 295.10,283.76 295.20,283.79 295.30,283.82 295.40,283.84 295.50,283.87 295.60,283.89 295.70,283.91 295.80,283.93 295.90,283.95 296.00,283.96 296.10,283.97 296.20,283.98 296.30,283.99 296.40,284.00 296.50,284.00 296.60,284.00 296.70,284.00 296.80,284.00 296.90,283.99 297.00,283.98 297.10,283.97 297.20,283.96 297.30,283.95 297.40,283.93 297.50,283.91 297.60,283.89 297.70,283.87 297.80,283.85 297.90,283.82 298.00,283.79 298.10,283.76 298.20,283.73 298.30,283.69 298.40,283.65 298.50,283.61 298.60,283.57 298.70,283.53 298.80,283.48 298.90,283.43 299.00,283.38 299.10,283.33 299.20,283.28 299.30,283.22 299.40,283.16 299.50,283.10 299.60,283.04 299.70,282.97 299.80,282.90 299.90,282.83 300.00,282.76 300.10,282.69 300.20,282.61 300.30,282.53 300.40,282.45 300.50,282.37 300.60,282.29 300.70,282.20 300.80,282.11 300.90,282.02 301.00,281.93 301.10,281.83 301.20,281.73 301.30,281.63 301.40,281.53 301.50,281.43 301.60,281.32 301.70,281.22 301.80,281.11 301.90,280.99 302.00,280.88 302.10,280.76 302.20,280.64 302.30,280.52 302.40,280.40 302.50,280.28 302.60,280.15 302.70,280.02 302.80,279.89 302.90,279.76 303.00,279.62 303.10,279.49 303.20,279.35 303.30,279.21 303.40,279.06 303.50,278.92 303.60,278.77 303.70,278.62 303.80,278.47 303.90,278.32 304.00,278.16 304.10,278.00 304.20,277.84 304.30,277.68 304.40,277.52 304.50,277.35 304.60,277.19 304.70,277.02 304.80,276.85 304.90,276.67 305.00,276.50 305.10,276.32 305.20,276.14 305.30,275.96 305.40,275.77 305.50,275.59 305.60,275.40 305.70,275.21 305.80,275.02 305.90,274.83 306.00,274.63 306.10,274.44 306.20,274.24 306.30,274.04 306.40,273.83 306.50,273.63 306.60,273.42 306.70,273.21 306.80,273.00 306.90,272.79 307.00,272.58 307.10,272.36 307.20,272.14 307.30,271.92 307.40,271.70 307.50,271.48 307.60,271.25 307.70,271.02 307.80,270.79 307.90,270.56 308.00,270.33 308.10,270.09 308.20,269.86 308.30,269.62 308.40,269.38 308.50,269.14 308.60,268.89 308.70,268.65 308.80,268.40 308.90,268.15 309.00,267.90 309.10,267.65 309.20,267.39 309.30,267.14 309.40,266.88 309.50,266.62 309.60,266.36 309.70,266.09 309.80,265.83 309.90,265.56 310.00,265.29 310.10,265.02 310.20,264.75 310.30,264.48 310.40,264.20 310.50,263.92 310.60,263.65 310.70,263.37 310.80,263.08 310.90,262.80 311.00,262.51 311.10,262.23 311.20,261.94 311.30,261.65 311.40,261.36 311.50,261.06 311.60,260.77 311.70,260.47 311.80,260.18 311.90,259.88 312.00,259.57 312.10,259.27 312.20,258.97 312.30,258.66 312.40,258.35 312.50,258.05 312.60,257.74 312.70,257.42 312.80,257.11 312.90,256.80 313.00,256.48 313.10,256.16 313.20,255.84 313.30,255.52 313.40,255.20 313.50,254.88 313.60,254.55 313.70,254.22 313.80,253.90 313.90,253.57 314.00,253.24 314.10,252.90 314.20,252.57 314.30,252.24 314.40,251.90 314.50,251.56 314.60,251.22 314.70,250.88 314.80,250.54 314.90,250.20 315.00,249.85 315.10,249.51 315.20,249.16 315.30,248.81 315.40,248.46 315.50,248.11 315.60,247.76 315.70,247.41 315.80,247.05 315.90,246.70 316.00,246.34 316.10,245.98 316.20,245.62 316.30,245.26 316.40,244.90 316.50,244.54 316.60,244.17 316.70,243.81 316.80,243.44 316.90,243.08 317.00,242.71 317.10,242.34 317.20,241.97 317.30,241.60 317.40,241.22 317.50,240.85 317.60,240.47 317.70,240.10 317.80,239.72 317.90,239.34 318.00,238.96 318.10,238.58 318.20,238.20 318.30,237.82 318.40,237.44 318.50,237.05 318.60,236.67 318.70,236.28 318.80,235.89 318.90,235.51 319.00,235.12 319.10,234.73 319.20,234.34 319.30,233.94 319.40,233.55 319.50,233.16 319.60,232.76 319.70,232.37 319.80,231.97 319.90,231.58 320.00,231.18 320.10,230.78 320.20,230.38 320.30,229.98 320.40,229.58 320.50,229.18 320.60,228.78 320.70,228.37 320.80,227.97 320.90,227.56 321.00,227.16 321.10,226.75 321.20,226.35 321.30,225.94 321.40,225.53 321.50,225.12 321.60,224.71 321.70,224.30 321.80,223.89 321.90,223.48 322.00,223.07 322.10,222.66 322.20,222.24 322.30,221.83 322.40,221.42 322.50,221.00 322.60,220.59 322.70,220.17 322.80,219.75 322.90,219.34 323.00,218.92 323.10,218.50 323.20,218.08 323.30,217.67 323.40,217.25 323.50,216.83 323.60,216.41 323.70,215.99 323.80,215.57 323.90,215.14 324.00,214.72 324.10,214.30 324.20,213.88 324.30,213.46 324.40,213.03 324.50,212.61 324.60,212.18 324.70,211.76 324.80,211.34 324.90,210.91 325.00,210.49 325.10,210.06 325.20,209.64 325.30,209.21 325.40,208.78 325.50,208.36 325.60,207.93 325.70,207.51 325.80,207.08 325.90,206.65 326.00,206.22 326.10,205.80 326.20,205.37 326.30,204.94 326.40,204.51 326.50,204.09 326.60,203.66 326.70,203.23 326.80,202.80 326.90,202.37 327.00,201.95 327.10,201.52 327.20,201.09 327.30,200.66 327.40,200.23 327.50,199.81 327.60,199.38 327.70,198.95 327.80,198.52 327.90,198.09 328.00,197.66 328.10,197.24 328.20,196.81 328.30,196.38 328.40,195.95 328.50,195.53 328.60,195.10 328.70,194.67 328.80,194.24 328.90,193.82 329.00,193.39 329.10,192.96 329.20,192.54 329.30,192.11 329.40,191.68 329.50,191.26 329.60,190.83 329.70,190.41 329.80,189.98 329.90,189.56 330.00,189.13 330.10,188.71 330.20,188.29 330.30,187.86 330.40,187.44 330.50,187.02 330.60,186.59 330.70,186.17 330.80,185.75 330.90,185.33 331.00,184.91 331.10,184.49 331.20,184.07 331.30,183.65 331.40,183.23 331.50,182.81 331.60,182.39 331.70,181.97 331.80,181.55 331.90,181.14 332.00,180.72 332.10,180.30 332.20,179.89 332.30,179.47 332.40,179.06 332.50,178.65 332.60,178.23 332.70,177.82 332.80,177.41 332.90,177.00 333.00,176.59 333.10,176.18 333.20,175.77 333.30,175.36 333.40,174.95 333.50,174.54 333.60,174.13 333.70,173.73 333.80,173.32 333.90,172.92 334.00,172.51 334.10,172.11 334.20,171.71 334.30,171.30 334.40,170.90 334.50,170.50 334.60,170.10 334.70,169.70 334.80,169.31 334.90,168.91 335.00,168.51 335.10,168.12 335.20,167.72 335.30,167.33 335.40,166.94 335.50,166.54 335.60,166.15 335.70,165.76 335.80,165.37 335.90,164.98 336.00,164.60 336.10,164.21 336.20,163.82 336.30,163.44 336.40,163.05 336.50,162.67 336.60,162.29 336.70,161.91 336.80,161.53 336.90,161.15 337.00,160.77 337.10,160.40 337.20,160.02 337.30,159.64 337.40,159.27 337.50,158.90 337.60,158.53 337.70,158.16 337.80,157.79 337.90,157.42 338.00,157.05 338.10,156.69 338.20,156.32 338.30,155.96 338.40,155.59 338.50,155.23 338.60,154.87 338.70,154.51 338.80,154.16 338.90,153.80 339.00,153.44 339.10,153.09 339.20,152.74 339.30,152.38 339.40,152.03 339.50,151.68 339.60,151.34 339.70,150.99 339.80,150.64 339.90,150.30 340.00,149.96 340.10,149.61 340.20,149.27 340.30,148.94 340.40,148.60 340.50,148.26 340.60,147.93 340.70,147.59 340.80,147.26 340.90,146.93 341.00,146.60 341.10,146.27 341.20,145.95 341.30,145.62 341.40,145.30 341.50,144.97 341.60,144.65 341.70,144.33 341.80,144.02 341.90,143.70 342.00,143.38 342.10,143.07 342.20,142.76 342.30,142.45 342.40,142.14 342.50,141.83 342.60,141.52 342.70,141.22 342.80,140.91 342.90,140.61 343.00,140.31 343.10,140.01 343.20,139.72 343.30,139.42 343.40,139.13 343.50,138.84 343.60,138.54 343.70,138.26 343.80,137.97 343.90,137.68 344.00,137.40 344.10,137.11 344.20,136.83 344.30,136.55 344.40,136.28 344.50,136.00 344.60,135.72 344.70,135.45 344.80,135.18 344.90,134.91 345.00,134.64 345.10,134.38 345.20,134.11 345.30,133.85 345.40,133.59 345.50,133.33 345.60,133.07 345.70,132.81 345.80,132.56 345.90,132.31 346.00,132.06 346.10,131.81 346.20,131.56 346.30,131.32 346.40,131.07 346.50,130.83 346.60,130.59 346.70,130.35 346.80,130.11 346.90,129.88 347.00,129.65 347.10,129.41 347.20,129.18 347.30,128.96 347.40,128.73 347.50,128.51 347.60,128.28 347.70,128.06 347.80,127.85 347.90,127.63 348.00,127.41 348.10,127.20 348.20,126.99 348.30,126.78 348.40,126.57 348.50,126.37 348.60,126.16 348.70,125.96 348.80,125.76 348.90,125.56 349.00,125.37 349.10,125.17 349.20,124.98 349.30,124.79 349.40,124.60 349.50,124.42 349.60,124.23 349.70,124.05 349.80,123.87 349.90,123.69 350.00,123.51 350.10,123.34 350.20,123.16 350.30,122.99 350.40,122.82 350.50,122.66 350.60,122.49 350.70,122.33 350.80,122.17 350.90,122.01 351.00,121.85 351.10,121.69 351.20,121.54 351.30,121.39 351.40,121.24 351.50,121.09 351.60,120.95 351.70,120.80 351.80,120.66 351.90,120.52 352.00,120.38 352.10,120.25 352.20,120.11 352.30,119.98 352.40,119.85 352.50,119.73 352.60,119.60 352.70,119.48 352.80,119.35 352.90,119.24 353.00,119.12 353.10,119.00 353.20,118.89 353.30,118.78 353.40,118.67 353.50,118.56 353.60,118.46 353.70,118.35 353.80,118.25 353.90,118.15 354.00,118.06 354.10,117.96 354.20,117.87 354.30,117.78 354.40,117.69 354.50,117.60 354.60,117.52 354.70,117.43 354.80,117.35 354.90,117.27 355.00,117.20 355.10,117.12 355.20,117.05 355.30,116.98 355.40,116.91 355.50,116.84 355.60,116.78 355.70,116.72 355.80,116.66 355.90,116.60 356.00,116.54 356.10,116.49 356.20,116.44 356.30,116.39 356.40,116.34 356.50,116.29 356.60,116.25 356.70,116.21 356.80,116.17 356.90,116.13 357.00,116.10 357.10,116.06 357.20,116.03 357.30,116.00 357.40,115.97 357.50,115.95 357.60,115.93 357.70,115.90 357.80,115.89 357.90,115.87 358.00,115.85 358.10,115.84 358.20,115.83 358.30,115.82 358.40,115.81 358.50,115.81 358.60,115.81 358.70,115.81 358.80,115.81 358.90,115.81 359.00,115.82 359.10,115.82 359.20,115.83 359.30,115.85 359.40,115.86 359.50,115.87 359.60,115.89 359.70,115.91 359.80,115.93 359.90,115.96 360.00,115.98 360.10,116.01 360.20,116.04 360.30,116.07 360.40,116.11 360.50,116.14 360.60,116.18 360.70,116.22 360.80,116.26 360.90,116.31 361.00,116.35 361.10,116.40 361.20,116.45 361.30,116.50 361.40,116.56 361.50,116.61 361.60,116.67 361.70,116.73 361.80,116.79 361.90,116.85 362.00,116.92 362.10,116.99 362.20,117.06 362.30,117.13 362.40,117.20 362.50,117.28 362.60,117.36 362.70,117.44 362.80,117.52 362.90,117.60 363.00,117.69 363.10,117.77 363.20,117.86 363.30,117.95 363.40,118.05 363.50,118.14 363.60,118.24 363.70,118.34 363.80,118.44 363.90,118.54 364.00,118.64 364.10,118.75 364.20,118.86 364.30,118.97 364.40,119.08 364.50,119.19 364.60,119.31 364.70,119.43 364.80,119.55 364.90,119.67 365.00,119.79 365.10,119.92 365.20,120.04 365.30,120.17 365.40,120.30 365.50,120.43 365.60,120.57 365.70,120.70 365.80,120.84 365.90,120.98 366.00,121.12 366.10,121.26 366.20,121.41 366.30,121.56 366.40,121.70 366.50,121.85 366.60,122.01 366.70,122.16 366.80,122.31 366.90,122.47 367.00,122.63 367.10,122.79 367.20,122.95 367.30,123.12 367.40,123.28 367.50,123.45 367.60,123.62 367.70,123.79 367.80,123.96 367.90,124.14 368.00,124.31 368.10,124.49 368.20,124.67 368.30,124.85 368.40,125.03 368.50,125.22 368.60,125.40 368.70,125.59 368.80,125.78 368.90,125.97 369.00,126.16 369.10,126.36 369.20,126.55 369.30,126.75 369.40,126.95 369.50,127.15 369.60,127.35 369.70,127.56 369.80,127.76 369.90,127.97 370.00,128.18 370.10,128.38 370.20,128.60 370.30,128.81 370.40,129.02 370.50,129.24 370.60,129.46 370.70,129.67 370.80,129.89 370.90,130.12 371.00,130.34 371.10,130.56 371.20,130.79 371.30,131.02 371.40,131.25 371.50,131.48 371.60,131.71 371.70,131.94 371.80,132.18 371.90,132.41 372.00,132.65 372.10,132.89 372.20,133.13 372.30,133.37 372.40,133.61 372.50,133.86 372.60,134.10 372.70,134.35 372.80,134.60 372.90,134.85 373.00,135.10 373.10,135.35 373.20,135.60 373.30,135.86 373.40,136.11 373.50,136.37 373.60,136.63 373.70,136.89 373.80,137.15 373.90,137.41 374.00,137.67 374.10,137.94 374.20,138.20 374.30,138.47 374.40,138.74 374.50,139.01 374.60,139.28 374.70,139.55 374.80,139.82 374.90,140.10 375.00,140.37 375.10,140.65 375.20,140.92 375.30,141.20 375.40,141.48 375.50,141.76 375.60,142.04 375.70,142.33 375.80,142.61 375.90,142.89 376.00,143.18 376.10,143.47 376.20,143.75 376.30,144.04 376.40,144.33 376.50,144.62 376.60,144.91 376.70,145.21 376.80,145.50 376.90,145.80 377.00,146.09 377.10,146.39 377.20,146.68 377.30,146.98 377.40,147.28 377.50,147.58 377.60,147.88 377.70,148.18 377.80,148.49 377.90,148.79 378.00,149.09 378.10,149.40 378.20,149.71 378.30,150.01 378.40,150.32 378.50,150.63 378.60,150.94 378.70,151.25 378.80,151.56 378.90,151.87 379.00,152.18 379.10,152.49 379.20,152.81 379.30,153.12 379.40,153.44 379.50,153.75 379.60,154.07 379.70,154.38 379.80,154.70 379.90,155.02 380.00,155.34 380.10,155.66 380.20,155.98 380.30,156.30 380.40,156.62 380.50,156.94 380.60,157.27 380.70,157.59 380.80,157.91 380.90,158.24 381.00,158.56 381.10,158.89 381.20,159.21 381.30,159.54 381.40,159.86 381.50,160.19 381.60,160.52 381.70,160.85 381.80,161.17 381.90,161.50 382.00,161.83 382.10,162.16 382.20,162.49 382.30,162.82 382.40,163.15 382.50,163.48 382.60,163.82 382.70,164.15 382.80,164.48 382.90,164.81 383.00,165.15 383.10,165.48 383.20,165.81 383.30,166.15 383.40,166.48 383.50,166.81 383.60,167.15 383.70,167.48 383.80,167.82 383.90,168.15 384.00,168.49 384.10,168.82 384.20,169.16 384.30,169.50 384.40,169.83 384.50,170.17 384.60,170.51 384.70,170.84 384.80,171.18 384.90,171.52 385.00,171.85 385.10,172.19 385.20,172.53 385.30,172.86 385.40,173.20 385.50,173.54 385.60,173.87 385.70,174.21 385.80,174.55 385.90,174.89 386.00,175.22 386.10,175.56 386.20,175.90 386.30,176.23 386.40,176.57 386.50,176.91 386.60,177.25 386.70,177.58 386.80,177.92 386.90,178.26 387.00,178.59 387.10,178.93 387.20,179.27 387.30,179.60 387.40,179.94 387.50,180.27 387.60,180.61 387.70,180.94 387.80,181.28 387.90,181.61 388.00,181.95 388.10,182.28 388.20,182.62 388.30,182.95 388.40,183.28 388.50,183.62 388.60,183.95 388.70,184.28 388.80,184.62 388.90,184.95 389.00,185.28 389.10,185.61 389.20,185.94 389.30,186.27 389.40,186.60 389.50,186.93 389.60,187.26 389.70,187.59 389.80,187.92 389.90,188.25 390.00,188.58 390.10,188.90 390.20,189.23 390.30,189.56 390.40,189.88 390.50,190.21 390.60,190.53 390.70,190.86 390.80,191.18 390.90,191.51 391.00,191.83 391.10,192.15 391.20,192.47 391.30,192.79 391.40,193.12 391.50,193.44 391.60,193.75 391.70,194.07 391.80,194.39 391.90,194.71 392.00,195.03 392.10,195.34 392.20,195.66 392.30,195.97 392.40,196.29 392.50,196.60 392.60,196.91 392.70,197.22 392.80,197.54 392.90,197.85 393.00,198.16 393.10,198.47 393.20,198.77 393.30,199.08 393.40,199.39 393.50,199.69 393.60,200.00 393.70,200.30 393.80,200.61 393.90,200.91 394.00,201.21 394.10,201.51 394.20,201.81 394.30,202.11 394.40,202.41 394.50,202.71 394.60,203.00 394.70,203.30 394.80,203.59 394.90,203.89 395.00,204.18 395.10,204.47 395.20,204.76 395.30,205.05 395.40,205.34 395.50,205.63 395.60,205.92 395.70,206.20 395.80,206.49 395.90,206.77 396.00,207.05 396.10,207.34 396.20,207.62 396.30,207.90 396.40,208.17 396.50,208.45 396.60,208.73 396.70,209.00 396.80,209.28 396.90,209.55 397.00,209.82 397.10,210.09 397.20,210.36 397.30,210.63 397.40,210.90 397.50,211.17 397.60,211.43 397.70,211.69 397.80,211.96 397.90,212.22 398.00,212.48 398.10,212.74 398.20,213.00 398.30,213.25 398.40,213.51 398.50,213.76 398.60,214.01 398.70,214.27 398.80,214.52 398.90,214.77 399.00,215.01 399.10,215.26 399.20,215.50 399.30,215.75 399.40,215.99 399.50,216.23 399.60,216.47 399.70,216.71 399.80,216.95 399.90,217.18 400.00,217.42 400.10,217.65 400.20,217.88 400.30,218.11 400.40,218.34 400.50,218.57 400.60,218.79 400.70,219.02 400.80,219.24 400.90,219.46 401.00,219.68 401.10,219.90 401.20,220.12 401.30,220.34 401.40,220.55 401.50,220.76 401.60,220.98 401.70,221.19 401.80,221.39 401.90,221.60 402.00,221.81 402.10,222.01 402.20,222.21 402.30,222.41 402.40,222.61 402.50,222.81 402.60,223.01 402.70,223.20 402.80,223.39 402.90,223.59 403.00,223.78 403.10,223.96 403.20,224.15 403.30,224.34 403.40,224.52 403.50,224.70 403.60,224.88 403.70,225.06 403.80,225.24 403.90,225.41 404.00,225.59 404.10,225.76 404.20,225.93 404.30,226.10 404.40,226.27 404.50,226.43 404.60,226.59 404.70,226.76 404.80,226.92 404.90,227.08 405.00,227.23 405.10,227.39 405.20,227.54 405.30,227.69 405.40,227.85 405.50,227.99 405.60,228.14 405.70,228.29 405.80,228.43 405.90,228.57 406.00,228.71 406.10,228.85 406.20,228.99 406.30,229.12 406.40,229.25 406.50,229.38 406.60,229.51 406.70,229.64 406.80,229.77 406.90,229.89 407.00,230.01 407.10,230.13 407.20,230.25 407.30,230.37 407.40,230.48 407.50,230.60 407.60,230.71 407.70,230.82 407.80,230.93 407.90,231.03 408.00,231.14 408.10,231.24 408.20,231.34 408.30,231.44 408.40,231.54 408.50,231.63 408.60,231.72 408.70,231.81 408.80,231.90 408.90,231.99 409.00,232.08 409.10,232.16 409.20,232.24 409.30,232.32 409.40,232.40 409.50,232.48 409.60,232.55 409.70,232.63 409.80,232.70 409.90,232.77 410.00,232.83 410.10,232.90 410.20,232.96 410.30,233.02 410.40,233.08 410.50,233.14 410.60,233.19 410.70,233.25 410.80,233.30 410.90,233.35 411.00,233.40 411.10,233.44 411.20,233.49 411.30,233.53 411.40,233.57 411.50,233.61 411.60,233.65 411.70,233.68 411.80,233.71 411.90,233.74 412.00,233.77 412.10,233.80 412.20,233.82 412.30,233.85 412.40,233.87 412.50,233.89 412.60,233.91 412.70,233.92 412.80,233.93 412.90,233.95 413.00,233.96 413.10,233.96 413.20,233.97 413.30,233.97 413.40,233.97 413.50,233.97 413.60,233.97 413.70,233.97 413.80,233.96 413.90,233.95 414.00,233.94 414.10,233.93 414.20,233.92 414.30,233.90 414.40,233.89 414.50,233.87 414.60,233.84 414.70,233.82 414.80,233.80 414.90,233.77 415.00,233.74 415.10,233.71 415.20,233.67 415.30,233.64 415.40,233.60 415.50,233.56 415.60,233.52 415.70,233.48 415.80,233.44 415.90,233.39 416.00,233.34 416.10,233.29 416.20,233.24 416.30,233.18 416.40,233.13 416.50,233.07 416.60,233.01 416.70,232.95 416.80,232.88 416.90,232.82 417.00,232.75 417.10,232.68 417.20,232.61 417.30,232.53 417.40,232.46 417.50,232.38 417.60,232.30 417.70,232.22 417.80,232.14 417.90,232.05 418.00,231.97 418.10,231.88 418.20,231.79 418.30,231.69 418.40,231.60 418.50,231.50 418.60,231.41 418.70,231.31 418.80,231.20 418.90,231.10 419.00,230.99 419.10,230.89 419.20,230.78 419.30,230.67 419.40,230.55 419.50,230.44 419.60,230.32 419.70,230.20 419.80,230.08 419.90,229.96 420.00,229.84 420.10,229.71 420.20,229.58 420.30,229.45 420.40,229.32 420.50,229.19 420.60,229.05 420.70,228.91 420.80,228.78 420.90,228.63 421.00,228.49 421.10,228.35 421.20,228.20 421.30,228.05 421.40,227.90 421.50,227.75 421.60,227.60 421.70,227.44 421.80,227.29 421.90,227.13 422.00,226.97 422.10,226.81 422.20,226.64 422.30,226.48 422.40,226.31 422.50,226.14 422.60,225.97 422.70,225.80 422.80,225.62 422.90,225.45 423.00,225.27" fill="none" stroke="#0072BD" stroke-width="2.8" stroke-linejoin="round" stroke-linecap="butt"/>
<text x="123.00" y="303" text-anchor="middle" class="tk">0</text>
<text x="183.00" y="303" text-anchor="middle" class="tk">2</text>
<text x="243.00" y="303" text-anchor="middle" class="tk">4</text>
<text x="303.00" y="303" text-anchor="middle" class="tk">6</text>
<text x="363.00" y="303" text-anchor="middle" class="tk">8</text>
<text x="423.00" y="303" text-anchor="middle" class="tk">10</text>
<text x="117.5" y="97" text-anchor="end" class="tk">0.1</text>
<text x="117.5" y="146" text-anchor="end" class="tk">0.05</text>
<text x="117.5" y="194" text-anchor="end" class="tk">0</text>
<text x="117.5" y="243" text-anchor="end" class="tk">-0.05</text>
<text x="273.00" y="86" text-anchor="middle" class="ti">First Floor Response</text>
<text x="273.00" y="321" text-anchor="middle" class="lb">Time</text>
<text x="0" y="0" transform="translate(78,188.00) rotate(-90)" text-anchor="middle" class="lb">x₁ (Floor 1 displacement)</text>
<clipPath id="c2"><rect x="555" y="92" width="300" height="192"/></clipPath>
<rect x="555" y="92" width="300" height="192" fill="#fff"/>
<line x1="555.5" y1="92.5" x2="555.5" y2="283.5" stroke="#dfdfdf" stroke-width="1"/>
<line x1="614.5" y1="92.5" x2="614.5" y2="283.5" stroke="#dfdfdf" stroke-width="1"/>
<line x1="674.5" y1="92.5" x2="674.5" y2="283.5" stroke="#dfdfdf" stroke-width="1"/>
<line x1="734.5" y1="92.5" x2="734.5" y2="283.5" stroke="#dfdfdf" stroke-width="1"/>
<line x1="794.5" y1="92.5" x2="794.5" y2="283.5" stroke="#dfdfdf" stroke-width="1"/>
<line x1="854.5" y1="92.5" x2="854.5" y2="283.5" stroke="#dfdfdf" stroke-width="1"/>
<line x1="555.5" y1="135.5" x2="854.5" y2="135.5" stroke="#dfdfdf" stroke-width="1"/>
<line x1="555.5" y1="193.5" x2="854.5" y2="193.5" stroke="#dfdfdf" stroke-width="1"/>
<line x1="555.5" y1="250.5" x2="854.5" y2="250.5" stroke="#dfdfdf" stroke-width="1"/>
<line x1="555.5" y1="284" x2="555.5" y2="281" stroke="#262626" stroke-width="1"/>
<line x1="555.5" y1="92" x2="555.5" y2="95" stroke="#262626" stroke-width="1"/>
<line x1="614.5" y1="284" x2="614.5" y2="281" stroke="#262626" stroke-width="1"/>
<line x1="614.5" y1="92" x2="614.5" y2="95" stroke="#262626" stroke-width="1"/>
<line x1="674.5" y1="284" x2="674.5" y2="281" stroke="#262626" stroke-width="1"/>
<line x1="674.5" y1="92" x2="674.5" y2="95" stroke="#262626" stroke-width="1"/>
<line x1="734.5" y1="284" x2="734.5" y2="281" stroke="#262626" stroke-width="1"/>
<line x1="734.5" y1="92" x2="734.5" y2="95" stroke="#262626" stroke-width="1"/>
<line x1="794.5" y1="284" x2="794.5" y2="281" stroke="#262626" stroke-width="1"/>
<line x1="794.5" y1="92" x2="794.5" y2="95" stroke="#262626" stroke-width="1"/>
<line x1="854.5" y1="284" x2="854.5" y2="281" stroke="#262626" stroke-width="1"/>
<line x1="854.5" y1="92" x2="854.5" y2="95" stroke="#262626" stroke-width="1"/>
<line x1="555" y1="135.5" x2="558" y2="135.5" stroke="#262626" stroke-width="1"/>
<line x1="855" y1="135.5" x2="852" y2="135.5" stroke="#262626" stroke-width="1"/>
<line x1="555" y1="193.5" x2="558" y2="193.5" stroke="#262626" stroke-width="1"/>
<line x1="855" y1="193.5" x2="852" y2="193.5" stroke="#262626" stroke-width="1"/>
<line x1="555" y1="250.5" x2="558" y2="250.5" stroke="#262626" stroke-width="1"/>
<line x1="855" y1="250.5" x2="852" y2="250.5" stroke="#262626" stroke-width="1"/>
<rect x="555.5" y="92.5" width="299.0" height="191.0" fill="none" stroke="#262626" stroke-width="1"/>
<polyline clip-path="url(#c2)" points="555.00,193.08 555.10,193.08 555.20,193.08 555.30,193.08 555.40,193.07 555.50,193.07 555.60,193.06 555.70,193.05 555.80,193.04 555.90,193.03 556.00,193.02 556.10,193.01 556.20,192.99 556.30,192.98 556.40,192.96 556.50,192.94 556.60,192.92 556.70,192.90 556.80,192.88 556.90,192.85 557.00,192.83 557.10,192.80 557.20,192.78 557.30,192.75 557.40,192.72 557.50,192.69 557.60,192.65 557.70,192.62 557.80,192.58 557.90,192.55 558.00,192.51 558.10,192.47 558.20,192.43 558.30,192.39 558.40,192.35 558.50,192.30 558.60,192.26 558.70,192.21 558.80,192.17 558.90,192.12 559.00,192.07 559.10,192.01 559.20,191.96 559.30,191.91 559.40,191.85 559.50,191.80 559.60,191.74 559.70,191.68 559.80,191.62 559.90,191.56 560.00,191.50 560.10,191.43 560.20,191.37 560.30,191.30 560.40,191.24 560.50,191.17 560.60,191.10 560.70,191.03 560.80,190.95 560.90,190.88 561.00,190.81 561.10,190.73 561.20,190.65 561.30,190.58 561.40,190.50 561.50,190.42 561.60,190.33 561.70,190.25 561.80,190.17 561.90,190.08 562.00,190.00 562.10,189.91 562.20,189.82 562.30,189.73 562.40,189.64 562.50,189.55 562.60,189.45 562.70,189.36 562.80,189.26 562.90,189.16 563.00,189.07 563.10,188.97 563.20,188.87 563.30,188.77 563.40,188.66 563.50,188.56 563.60,188.45 563.70,188.35 563.80,188.24 563.90,188.13 564.00,188.02 564.10,187.91 564.20,187.80 564.30,187.69 564.40,187.58 564.50,187.46 564.60,187.34 564.70,187.23 564.80,187.11 564.90,186.99 565.00,186.87 565.10,186.75 565.20,186.63 565.30,186.50 565.40,186.38 565.50,186.25 565.60,186.13 565.70,186.00 565.80,185.87 565.90,185.74 566.00,185.61 566.10,185.48 566.20,185.34 566.30,185.21 566.40,185.08 566.50,184.94 566.60,184.80 566.70,184.67 566.80,184.53 566.90,184.39 567.00,184.25 567.10,184.10 567.20,183.96 567.30,183.82 567.40,183.67 567.50,183.53 567.60,183.38 567.70,183.23 567.80,183.08 567.90,182.93 568.00,182.78 568.10,182.63 568.20,182.48 568.30,182.33 568.40,182.17 568.50,182.02 568.60,181.86 568.70,181.70 568.80,181.55 568.90,181.39 569.00,181.23 569.10,181.07 569.20,180.91 569.30,180.74 569.40,180.58 569.50,180.42 569.60,180.25 569.70,180.09 569.80,179.92 569.90,179.75 570.00,179.59 570.10,179.42 570.20,179.25 570.30,179.08 570.40,178.90 570.50,178.73 570.60,178.56 570.70,178.39 570.80,178.21 570.90,178.04 571.00,177.86 571.10,177.68 571.20,177.51 571.30,177.33 571.40,177.15 571.50,176.97 571.60,176.79 571.70,176.61 571.80,176.42 571.90,176.24 572.00,176.06 572.10,175.87 572.20,175.69 572.30,175.50 572.40,175.32 572.50,175.13 572.60,174.94 572.70,174.75 572.80,174.57 572.90,174.38 573.00,174.19 573.10,173.99 573.20,173.80 573.30,173.61 573.40,173.42 573.50,173.22 573.60,173.03 573.70,172.84 573.80,172.64 573.90,172.44 574.00,172.25 574.10,172.05 574.20,171.85 574.30,171.66 574.40,171.46 574.50,171.26 574.60,171.06 574.70,170.86 574.80,170.66 574.90,170.46 575.00,170.25 575.10,170.05 575.20,169.85 575.30,169.65 575.40,169.44 575.50,169.24 575.60,169.03 575.70,168.83 575.80,168.62 575.90,168.42 576.00,168.21 576.10,168.00 576.20,167.79 576.30,167.59 576.40,167.38 576.50,167.17 576.60,166.96 576.70,166.75 576.80,166.54 576.90,166.33 577.00,166.12 577.10,165.91 577.20,165.70 577.30,165.49 577.40,165.27 577.50,165.06 577.60,164.85 577.70,164.64 577.80,164.42 577.90,164.21 578.00,164.00 578.10,163.78 578.20,163.57 578.30,163.35 578.40,163.14 578.50,162.92 578.60,162.71 578.70,162.49 578.80,162.27 578.90,162.06 579.00,161.84 579.10,161.62 579.20,161.41 579.30,161.19 579.40,160.97 579.50,160.76 579.60,160.54 579.70,160.32 579.80,160.10 579.90,159.88 580.00,159.67 580.10,159.45 580.20,159.23 580.30,159.01 580.40,158.79 580.50,158.57 580.60,158.35 580.70,158.13 580.80,157.91 580.90,157.70 581.00,157.48 581.10,157.26 581.20,157.04 581.30,156.82 581.40,156.60 581.50,156.38 581.60,156.16 581.70,155.94 581.80,155.72 581.90,155.50 582.00,155.28 582.10,155.06 582.20,154.84 582.30,154.62 582.40,154.40 582.50,154.18 582.60,153.96 582.70,153.74 582.80,153.52 582.90,153.30 583.00,153.09 583.10,152.87 583.20,152.65 583.30,152.43 583.40,152.21 583.50,151.99 583.60,151.77 583.70,151.55 583.80,151.34 583.90,151.12 584.00,150.90 584.10,150.68 584.20,150.46 584.30,150.25 584.40,150.03 584.50,149.81 584.60,149.60 584.70,149.38 584.80,149.16 584.90,148.95 585.00,148.73 585.10,148.52 585.20,148.30 585.30,148.09 585.40,147.87 585.50,147.66 585.60,147.44 585.70,147.23 585.80,147.01 585.90,146.80 586.00,146.59 586.10,146.38 586.20,146.16 586.30,145.95 586.40,145.74 586.50,145.53 586.60,145.32 586.70,145.11 586.80,144.90 586.90,144.69 587.00,144.48 587.10,144.27 587.20,144.06 587.30,143.85 587.40,143.64 587.50,143.44 587.60,143.23 587.70,143.02 587.80,142.82 587.90,142.61 588.00,142.41 588.10,142.20 588.20,142.00 588.30,141.79 588.40,141.59 588.50,141.39 588.60,141.19 588.70,140.99 588.80,140.78 588.90,140.58 589.00,140.38 589.10,140.19 589.20,139.99 589.30,139.79 589.40,139.59 589.50,139.39 589.60,139.20 589.70,139.00 589.80,138.81 589.90,138.61 590.00,138.42 590.10,138.22 590.20,138.03 590.30,137.84 590.40,137.65 590.50,137.46 590.60,137.27 590.70,137.08 590.80,136.89 590.90,136.70 591.00,136.51 591.10,136.33 591.20,136.14 591.30,135.96 591.40,135.77 591.50,135.59 591.60,135.40 591.70,135.22 591.80,135.04 591.90,134.86 592.00,134.68 592.10,134.50 592.20,134.32 592.30,134.15 592.40,133.97 592.50,133.79 592.60,133.62 592.70,133.44 592.80,133.27 592.90,133.10 593.00,132.92 593.10,132.75 593.20,132.58 593.30,132.41 593.40,132.25 593.50,132.08 593.60,131.91 593.70,131.74 593.80,131.58 593.90,131.42 594.00,131.25 594.10,131.09 594.20,130.93 594.30,130.77 594.40,130.61 594.50,130.45 594.60,130.29 594.70,130.14 594.80,129.98 594.90,129.83 595.00,129.67 595.10,129.52 595.20,129.37 595.30,129.22 595.40,129.07 595.50,128.92 595.60,128.77 595.70,128.62 595.80,128.48 595.90,128.33 596.00,128.19 596.10,128.05 596.20,127.90 596.30,127.76 596.40,127.62 596.50,127.49 596.60,127.35 596.70,127.21 596.80,127.08 596.90,126.94 597.00,126.81 597.10,126.68 597.20,126.55 597.30,126.42 597.40,126.29 597.50,126.16 597.60,126.03 597.70,125.91 597.80,125.79 597.90,125.66 598.00,125.54 598.10,125.42 598.20,125.30 598.30,125.18 598.40,125.07 598.50,124.95 598.60,124.83 598.70,124.72 598.80,124.61 598.90,124.50 599.00,124.39 599.10,124.28 599.20,124.17 599.30,124.06 599.40,123.96 599.50,123.86 599.60,123.75 599.70,123.65 599.80,123.55 599.90,123.45 600.00,123.35 600.10,123.26 600.20,123.16 600.30,123.07 600.40,122.98 600.50,122.89 600.60,122.80 600.70,122.71 600.80,122.62 600.90,122.53 601.00,122.45 601.10,122.36 601.20,122.28 601.30,122.20 601.40,122.12 601.50,122.04 601.60,121.97 601.70,121.89 601.80,121.82 601.90,121.74 602.00,121.67 602.10,121.60 602.20,121.53 602.30,121.47 602.40,121.40 602.50,121.34 602.60,121.27 602.70,121.21 602.80,121.15 602.90,121.09 603.00,121.03 603.10,120.98 603.20,120.92 603.30,120.87 603.40,120.81 603.50,120.76 603.60,120.71 603.70,120.67 603.80,120.62 603.90,120.57 604.00,120.53 604.10,120.49 604.20,120.45 604.30,120.41 604.40,120.37 604.50,120.33 604.60,120.30 604.70,120.27 604.80,120.23 604.90,120.20 605.00,120.17 605.10,120.15 605.20,120.12 605.30,120.09 605.40,120.07 605.50,120.05 605.60,120.03 605.70,120.01 605.80,119.99 605.90,119.98 606.00,119.96 606.10,119.95 606.20,119.94 606.30,119.93 606.40,119.92 606.50,119.91 606.60,119.91 606.70,119.90 606.80,119.90 606.90,119.90 607.00,119.90 607.10,119.90 607.20,119.90 607.30,119.91 607.40,119.92 607.50,119.92 607.60,119.93 607.70,119.95 607.80,119.96 607.90,119.97 608.00,119.99 608.10,120.01 608.20,120.02 608.30,120.04 608.40,120.07 608.50,120.09 608.60,120.12 608.70,120.14 608.80,120.17 608.90,120.20 609.00,120.23 609.10,120.26 609.20,120.30 609.30,120.33 609.40,120.37 609.50,120.41 609.60,120.45 609.70,120.49 609.80,120.54 609.90,120.58 610.00,120.63 610.10,120.68 610.20,120.73 610.30,120.78 610.40,120.83 610.50,120.89 610.60,120.94 610.70,121.00 610.80,121.06 610.90,121.12 611.00,121.18 611.10,121.25 611.20,121.31 611.30,121.38 611.40,121.45 611.50,121.52 611.60,121.59 611.70,121.67 611.80,121.74 611.90,121.82 612.00,121.90 612.10,121.98 612.20,122.06 612.30,122.14 612.40,122.22 612.50,122.31 612.60,122.40 612.70,122.49 612.80,122.58 612.90,122.67 613.00,122.77 613.10,122.86 613.20,122.96 613.30,123.06 613.40,123.16 613.50,123.26 613.60,123.36 613.70,123.47 613.80,123.57 613.90,123.68 614.00,123.79 614.10,123.90 614.20,124.02 614.30,124.13 614.40,124.25 614.50,124.37 614.60,124.48 614.70,124.61 614.80,124.73 614.90,124.85 615.00,124.98 615.10,125.10 615.20,125.23 615.30,125.36 615.40,125.49 615.50,125.63 615.60,125.76 615.70,125.90 615.80,126.04 615.90,126.18 616.00,126.32 616.10,126.46 616.20,126.60 616.30,126.75 616.40,126.90 616.50,127.05 616.60,127.20 616.70,127.35 616.80,127.50 616.90,127.66 617.00,127.81 617.10,127.97 617.20,128.13 617.30,128.29 617.40,128.45 617.50,128.62 617.60,128.78 617.70,128.95 617.80,129.12 617.90,129.29 618.00,129.46 618.10,129.63 618.20,129.81 618.30,129.98 618.40,130.16 618.50,130.34 618.60,130.52 618.70,130.70 618.80,130.89 618.90,131.07 619.00,131.26 619.10,131.45 619.20,131.64 619.30,131.83 619.40,132.02 619.50,132.21 619.60,132.41 619.70,132.61 619.80,132.80 619.90,133.00 620.00,133.21 620.10,133.41 620.20,133.61 620.30,133.82 620.40,134.02 620.50,134.23 620.60,134.44 620.70,134.65 620.80,134.87 620.90,135.08 621.00,135.30 621.10,135.51 621.20,135.73 621.30,135.95 621.40,136.17 621.50,136.40 621.60,136.62 621.70,136.84 621.80,137.07 621.90,137.30 622.00,137.53 622.10,137.76 622.20,137.99 622.30,138.23 622.40,138.46 622.50,138.70 622.60,138.94 622.70,139.17 622.80,139.41 622.90,139.66 623.00,139.90 623.10,140.14 623.20,140.39 623.30,140.64 623.40,140.88 623.50,141.13 623.60,141.39 623.70,141.64 623.80,141.89 623.90,142.15 624.00,142.40 624.10,142.66 624.20,142.92 624.30,143.18 624.40,143.44 624.50,143.70 624.60,143.97 624.70,144.23 624.80,144.50 624.90,144.76 625.00,145.03 625.10,145.30 625.20,145.57 625.30,145.85 625.40,146.12 625.50,146.40 625.60,146.67 625.70,146.95 625.80,147.23 625.90,147.51 626.00,147.79 626.10,148.07 626.20,148.35 626.30,148.64 626.40,148.92 626.50,149.21 626.60,149.50 626.70,149.79 626.80,150.08 626.90,150.37 627.00,150.66 627.10,150.95 627.20,151.25 627.30,151.55 627.40,151.84 627.50,152.14 627.60,152.44 627.70,152.74 627.80,153.04 627.90,153.34 628.00,153.65 628.10,153.95 628.20,154.26 628.30,154.56 628.40,154.87 628.50,155.18 628.60,155.49 628.70,155.80 628.80,156.11 628.90,156.42 629.00,156.74 629.10,157.05 629.20,157.37 629.30,157.68 629.40,158.00 629.50,158.32 629.60,158.64 629.70,158.96 629.80,159.28 629.90,159.60 630.00,159.93 630.10,160.25 630.20,160.58 630.30,160.90 630.40,161.23 630.50,161.56 630.60,161.89 630.70,162.22 630.80,162.55 630.90,162.88 631.00,163.21 631.10,163.55 631.20,163.88 631.30,164.21 631.40,164.55 631.50,164.89 631.60,165.22 631.70,165.56 631.80,165.90 631.90,166.24 632.00,166.58 632.10,166.92 632.20,167.27 632.30,167.61 632.40,167.95 632.50,168.30 632.60,168.64 632.70,168.99 632.80,169.34 632.90,169.68 633.00,170.03 633.10,170.38 633.20,170.73 633.30,171.08 633.40,171.43 633.50,171.78 633.60,172.14 633.70,172.49 633.80,172.84 633.90,173.20 634.00,173.55 634.10,173.91 634.20,174.26 634.30,174.62 634.40,174.98 634.50,175.34 634.60,175.70 634.70,176.06 634.80,176.42 634.90,176.78 635.00,177.14 635.10,177.50 635.20,177.86 635.30,178.22 635.40,178.59 635.50,178.95 635.60,179.32 635.70,179.68 635.80,180.05 635.90,180.41 636.00,180.78 636.10,181.15 636.20,181.51 636.30,181.88 636.40,182.25 636.50,182.62 636.60,182.99 636.70,183.36 636.80,183.73 636.90,184.10 637.00,184.47 637.10,184.84 637.20,185.21 637.30,185.58 637.40,185.96 637.50,186.33 637.60,186.70 637.70,187.07 637.80,187.45 637.90,187.82 638.00,188.20 638.10,188.57 638.20,188.95 638.30,189.32 638.40,189.70 638.50,190.07 638.60,190.45 638.70,190.83 638.80,191.20 638.90,191.58 639.00,191.96 639.10,192.34 639.20,192.71 639.30,193.09 639.40,193.47 639.50,193.85 639.60,194.23 639.70,194.61 639.80,194.99 639.90,195.36 640.00,195.74 640.10,196.12 640.20,196.50 640.30,196.88 640.40,197.26 640.50,197.64 640.60,198.02 640.70,198.40 640.80,198.78 640.90,199.16 641.00,199.54 641.10,199.93 641.20,200.31 641.30,200.69 641.40,201.07 641.50,201.45 641.60,201.83 641.70,202.21 641.80,202.59 641.90,202.97 642.00,203.35 642.10,203.73 642.20,204.11 642.30,204.49 642.40,204.87 642.50,205.25 642.60,205.64 642.70,206.02 642.80,206.40 642.90,206.78 643.00,207.16 643.10,207.54 643.20,207.92 643.30,208.30 643.40,208.68 643.50,209.06 643.60,209.44 643.70,209.81 643.80,210.19 643.90,210.57 644.00,210.95 644.10,211.33 644.20,211.71 644.30,212.09 644.40,212.46 644.50,212.84 644.60,213.22 644.70,213.60 644.80,213.97 644.90,214.35 645.00,214.73 645.10,215.10 645.20,215.48 645.30,215.86 645.40,216.23 645.50,216.61 645.60,216.98 645.70,217.36 645.80,217.73 645.90,218.10 646.00,218.48 646.10,218.85 646.20,219.22 646.30,219.59 646.40,219.97 646.50,220.34 646.60,220.71 646.70,221.08 646.80,221.45 646.90,221.82 647.00,222.19 647.10,222.56 647.20,222.93 647.30,223.30 647.40,223.66 647.50,224.03 647.60,224.40 647.70,224.76 647.80,225.13 647.90,225.49 648.00,225.86 648.10,226.22 648.20,226.59 648.30,226.95 648.40,227.31 648.50,227.68 648.60,228.04 648.70,228.40 648.80,228.76 648.90,229.12 649.00,229.48 649.10,229.84 649.20,230.19 649.30,230.55 649.40,230.91 649.50,231.26 649.60,231.62 649.70,231.97 649.80,232.33 649.90,232.68 650.00,233.03 650.10,233.39 650.20,233.74 650.30,234.09 650.40,234.44 650.50,234.79 650.60,235.14 650.70,235.48 650.80,235.83 650.90,236.18 651.00,236.52 651.10,236.87 651.20,237.21 651.30,237.56 651.40,237.90 651.50,238.24 651.60,238.58 651.70,238.92 651.80,239.26 651.90,239.60 652.00,239.94 652.10,240.27 652.20,240.61 652.30,240.94 652.40,241.28 652.50,241.61 652.60,241.95 652.70,242.28 652.80,242.61 652.90,242.94 653.00,243.27 653.10,243.59 653.20,243.92 653.30,244.25 653.40,244.57 653.50,244.90 653.60,245.22 653.70,245.54 653.80,245.87 653.90,246.19 654.00,246.51 654.10,246.82 654.20,247.14 654.30,247.46 654.40,247.77 654.50,248.09 654.60,248.40 654.70,248.72 654.80,249.03 654.90,249.34 655.00,249.65 655.10,249.96 655.20,250.26 655.30,250.57 655.40,250.88 655.50,251.18 655.60,251.48 655.70,251.79 655.80,252.09 655.90,252.39 656.00,252.69 656.10,252.98 656.20,253.28 656.30,253.58 656.40,253.87 656.50,254.16 656.60,254.45 656.70,254.75 656.80,255.04 656.90,255.32 657.00,255.61 657.10,255.90 657.20,256.18 657.30,256.47 657.40,256.75 657.50,257.03 657.60,257.31 657.70,257.59 657.80,257.87 657.90,258.15 658.00,258.42 658.10,258.70 658.20,258.97 658.30,259.24 658.40,259.51 658.50,259.78 658.60,260.05 658.70,260.31 658.80,260.58 658.90,260.84 659.00,261.11 659.10,261.37 659.20,261.63 659.30,261.89 659.40,262.15 659.50,262.40 659.60,262.66 659.70,262.91 659.80,263.16 659.90,263.41 660.00,263.66 660.10,263.91 660.20,264.16 660.30,264.41 660.40,264.65 660.50,264.89 660.60,265.13 660.70,265.38 660.80,265.61 660.90,265.85 661.00,266.09 661.10,266.32 661.20,266.56 661.30,266.79 661.40,267.02 661.50,267.25 661.60,267.48 661.70,267.70 661.80,267.93 661.90,268.15 662.00,268.37 662.10,268.59 662.20,268.81 662.30,269.03 662.40,269.25 662.50,269.46 662.60,269.67 662.70,269.89 662.80,270.10 662.90,270.31 663.00,270.51 663.10,270.72 663.20,270.92 663.30,271.13 663.40,271.33 663.50,271.53 663.60,271.73 663.70,271.93 663.80,272.12 663.90,272.32 664.00,272.51 664.10,272.70 664.20,272.89 664.30,273.08 664.40,273.26 664.50,273.45 664.60,273.63 664.70,273.81 664.80,273.99 664.90,274.17 665.00,274.35 665.10,274.53 665.20,274.70 665.30,274.87 665.40,275.04 665.50,275.21 665.60,275.38 665.70,275.55 665.80,275.71 665.90,275.88 666.00,276.04 666.10,276.20 666.20,276.36 666.30,276.51 666.40,276.67 666.50,276.82 666.60,276.98 666.70,277.13 666.80,277.28 666.90,277.42 667.00,277.57 667.10,277.71 667.20,277.86 667.30,278.00 667.40,278.14 667.50,278.28 667.60,278.41 667.70,278.55 667.80,278.68 667.90,278.81 668.00,278.94 668.10,279.07 668.20,279.20 668.30,279.32 668.40,279.44 668.50,279.57 668.60,279.69 668.70,279.80 668.80,279.92 668.90,280.04 669.00,280.15 669.10,280.26 669.20,280.37 669.30,280.48 669.40,280.59 669.50,280.69 669.60,280.80 669.70,280.90 669.80,281.00 669.90,281.10 670.00,281.20 670.10,281.29 670.20,281.38 670.30,281.48 670.40,281.57 670.50,281.66 670.60,281.74 670.70,281.83 670.80,281.91 670.90,282.00 671.00,282.08 671.10,282.15 671.20,282.23 671.30,282.31 671.40,282.38 671.50,282.45 671.60,282.52 671.70,282.59 671.80,282.66 671.90,282.73 672.00,282.79 672.10,282.85 672.20,282.91 672.30,282.97 672.40,283.03 672.50,283.09 672.60,283.14 672.70,283.19 672.80,283.24 672.90,283.29 673.00,283.34 673.10,283.39 673.20,283.43 673.30,283.47 673.40,283.51 673.50,283.55 673.60,283.59 673.70,283.63 673.80,283.66 673.90,283.69 674.00,283.72 674.10,283.75 674.20,283.78 674.30,283.81 674.40,283.83 674.50,283.85 674.60,283.88 674.70,283.89 674.80,283.91 674.90,283.93 675.00,283.94 675.10,283.96 675.20,283.97 675.30,283.98 675.40,283.98 675.50,283.99 675.60,284.00 675.70,284.00 675.80,284.00 675.90,284.00 676.00,284.00 676.10,283.99 676.20,283.99 676.30,283.98 676.40,283.97 676.50,283.96 676.60,283.95 676.70,283.94 676.80,283.92 676.90,283.91 677.00,283.89 677.10,283.87 677.20,283.85 677.30,283.83 677.40,283.80 677.50,283.78 677.60,283.75 677.70,283.72 677.80,283.69 677.90,283.66 678.00,283.62 678.10,283.59 678.20,283.55 678.30,283.51 678.40,283.47 678.50,283.43 678.60,283.38 678.70,283.34 678.80,283.29 678.90,283.24 679.00,283.19 679.10,283.14 679.20,283.09 679.30,283.04 679.40,282.98 679.50,282.92 679.60,282.86 679.70,282.80 679.80,282.74 679.90,282.68 680.00,282.61 680.10,282.54 680.20,282.48 680.30,282.41 680.40,282.34 680.50,282.26 680.60,282.19 680.70,282.11 680.80,282.04 680.90,281.96 681.00,281.88 681.10,281.79 681.20,281.71 681.30,281.63 681.40,281.54 681.50,281.45 681.60,281.36 681.70,281.27 681.80,281.18 681.90,281.09 682.00,280.99 682.10,280.90 682.20,280.80 682.30,280.70 682.40,280.60 682.50,280.50 682.60,280.39 682.70,280.29 682.80,280.18 682.90,280.07 683.00,279.96 683.10,279.85 683.20,279.74 683.30,279.63 683.40,279.51 683.50,279.39 683.60,279.28 683.70,279.16 683.80,279.04 683.90,278.92 684.00,278.79 684.10,278.67 684.20,278.54 684.30,278.41 684.40,278.29 684.50,278.16 684.60,278.02 684.70,277.89 684.80,277.76 684.90,277.62 685.00,277.49 685.10,277.35 685.20,277.21 685.30,277.07 685.40,276.93 685.50,276.78 685.60,276.64 685.70,276.49 685.80,276.35 685.90,276.20 686.00,276.05 686.10,275.90 686.20,275.75 686.30,275.59 686.40,275.44 686.50,275.28 686.60,275.13 686.70,274.97 686.80,274.81 686.90,274.65 687.00,274.48 687.10,274.32 687.20,274.16 687.30,273.99 687.40,273.83 687.50,273.66 687.60,273.49 687.70,273.32 687.80,273.15 687.90,272.97 688.00,272.80 688.10,272.63 688.20,272.45 688.30,272.27 688.40,272.10 688.50,271.92 688.60,271.74 688.70,271.55 688.80,271.37 688.90,271.19 689.00,271.00 689.10,270.82 689.20,270.63 689.30,270.44 689.40,270.25 689.50,270.06 689.60,269.87 689.70,269.68 689.80,269.49 689.90,269.29 690.00,269.10 690.10,268.90 690.20,268.70 690.30,268.51 690.40,268.31 690.50,268.11 690.60,267.90 690.70,267.70 690.80,267.50 690.90,267.30 691.00,267.09 691.10,266.88 691.20,266.68 691.30,266.47 691.40,266.26 691.50,266.05 691.60,265.84 691.70,265.63 691.80,265.42 691.90,265.20 692.00,264.99 692.10,264.77 692.20,264.56 692.30,264.34 692.40,264.12 692.50,263.90 692.60,263.68 692.70,263.46 692.80,263.24 692.90,263.02 693.00,262.80 693.10,262.57 693.20,262.35 693.30,262.13 693.40,261.90 693.50,261.67 693.60,261.45 693.70,261.22 693.80,260.99 693.90,260.76 694.00,260.53 694.10,260.30 694.20,260.06 694.30,259.83 694.40,259.60 694.50,259.36 694.60,259.13 694.70,258.89 694.80,258.66 694.90,258.42 695.00,258.18 695.10,257.95 695.20,257.71 695.30,257.47 695.40,257.23 695.50,256.99 695.60,256.75 695.70,256.50 695.80,256.26 695.90,256.02 696.00,255.77 696.10,255.53 696.20,255.29 696.30,255.04 696.40,254.79 696.50,254.55 696.60,254.30 696.70,254.05 696.80,253.80 696.90,253.56 697.00,253.31 697.10,253.06 697.20,252.81 697.30,252.56 697.40,252.30 697.50,252.05 697.60,251.80 697.70,251.55 697.80,251.30 697.90,251.04 698.00,250.79 698.10,250.53 698.20,250.28 698.30,250.02 698.40,249.77 698.50,249.51 698.60,249.26 698.70,249.00 698.80,248.74 698.90,248.49 699.00,248.23 699.10,247.97 699.20,247.71 699.30,247.45 699.40,247.19 699.50,246.93 699.60,246.67 699.70,246.41 699.80,246.15 699.90,245.89 700.00,245.63 700.10,245.37 700.20,245.11 700.30,244.85 700.40,244.59 700.50,244.32 700.60,244.06 700.70,243.80 700.80,243.54 700.90,243.27 701.00,243.01 701.10,242.75 701.20,242.48 701.30,242.22 701.40,241.96 701.50,241.69 701.60,241.43 701.70,241.16 701.80,240.90 701.90,240.64 702.00,240.37 702.10,240.11 702.20,239.84 702.30,239.58 702.40,239.31 702.50,239.05 702.60,238.78 702.70,238.52 702.80,238.25 702.90,237.99 703.00,237.72 703.10,237.45 703.20,237.19 703.30,236.92 703.40,236.66 703.50,236.39 703.60,236.13 703.70,235.86 703.80,235.60 703.90,235.33 704.00,235.07 704.10,234.80 704.20,234.54 704.30,234.27 704.40,234.01 704.50,233.74 704.60,233.48 704.70,233.21 704.80,232.95 704.90,232.68 705.00,232.42 705.10,232.15 705.20,231.89 705.30,231.63 705.40,231.36 705.50,231.10 705.60,230.84 705.70,230.57 705.80,230.31 705.90,230.05 706.00,229.78 706.10,229.52 706.20,229.26 706.30,229.00 706.40,228.73 706.50,228.47 706.60,228.21 706.70,227.95 706.80,227.69 706.90,227.43 707.00,227.17 707.10,226.91 707.20,226.65 707.30,226.39 707.40,226.13 707.50,225.87 707.60,225.61 707.70,225.36 707.80,225.10 707.90,224.84 708.00,224.58 708.10,224.33 708.20,224.07 708.30,223.82 708.40,223.56 708.50,223.30 708.60,223.05 708.70,222.80 708.80,222.54 708.90,222.29 709.00,222.03 709.10,221.78 709.20,221.53 709.30,221.28 709.40,221.03 709.50,220.78 709.60,220.53 709.70,220.28 709.80,220.03 709.90,219.78 710.00,219.53 710.10,219.28 710.20,219.03 710.30,218.79 710.40,218.54 710.50,218.29 710.60,218.05 710.70,217.80 710.80,217.56 710.90,217.32 711.00,217.07 711.10,216.83 711.20,216.59 711.30,216.35 711.40,216.11 711.50,215.87 711.60,215.63 711.70,215.39 711.80,215.15 711.90,214.91 712.00,214.68 712.10,214.44 712.20,214.20 712.30,213.97 712.40,213.74 712.50,213.50 712.60,213.27 712.70,213.04 712.80,212.81 712.90,212.57 713.00,212.34 713.10,212.11 713.20,211.89 713.30,211.66 713.40,211.43 713.50,211.20 713.60,210.98 713.70,210.75 713.80,210.53 713.90,210.30 714.00,210.08 714.10,209.86 714.20,209.64 714.30,209.42 714.40,209.20 714.50,208.98 714.60,208.76 714.70,208.54 714.80,208.33 714.90,208.11 715.00,207.90 715.10,207.68 715.20,207.47 715.30,207.26 715.40,207.05 715.50,206.84 715.60,206.63 715.70,206.42 715.80,206.21 715.90,206.00 716.00,205.80 716.10,205.59 716.20,205.39 716.30,205.18 716.40,204.98 716.50,204.78 716.60,204.58 716.70,204.38 716.80,204.18 716.90,203.98 717.00,203.78 717.10,203.59 717.20,203.39 717.30,203.20 717.40,203.00 717.50,202.81 717.60,202.62 717.70,202.43 717.80,202.24 717.90,202.05 718.00,201.86 718.10,201.68 718.20,201.49 718.30,201.31 718.40,201.12 718.50,200.94 718.60,200.76 718.70,200.58 718.80,200.40 718.90,200.22 719.00,200.05 719.10,199.87 719.20,199.69 719.30,199.52 719.40,199.35 719.50,199.17 719.60,199.00 719.70,198.83 719.80,198.66 719.90,198.50 720.00,198.33 720.10,198.16 720.20,198.00 720.30,197.84 720.40,197.67 720.50,197.51 720.60,197.35 720.70,197.19 720.80,197.04 720.90,196.88 721.00,196.72 721.10,196.57 721.20,196.41 721.30,196.26 721.40,196.11 721.50,195.96 721.60,195.81 721.70,195.66 721.80,195.52 721.90,195.37 722.00,195.23 722.10,195.08 722.20,194.94 722.30,194.80 722.40,194.66 722.50,194.52 722.60,194.39 722.70,194.25 722.80,194.12 722.90,193.98 723.00,193.85 723.10,193.72 723.20,193.59 723.30,193.46 723.40,193.33 723.50,193.20 723.60,193.08 723.70,192.95 723.80,192.83 723.90,192.71 724.00,192.59 724.10,192.47 724.20,192.35 724.30,192.23 724.40,192.12 724.50,192.00 724.60,191.89 724.70,191.78 724.80,191.67 724.90,191.56 725.00,191.45 725.10,191.34 725.20,191.24 725.30,191.13 725.40,191.03 725.50,190.93 725.60,190.83 725.70,190.73 725.80,190.63 725.90,190.53 726.00,190.44 726.10,190.34 726.20,190.25 726.30,190.16 726.40,190.07 726.50,189.98 726.60,189.89 726.70,189.80 726.80,189.72 726.90,189.63 727.00,189.55 727.10,189.47 727.20,189.39 727.30,189.31 727.40,189.23 727.50,189.15 727.60,189.08 727.70,189.01 727.80,188.93 727.90,188.86 728.00,188.79 728.10,188.72 728.20,188.65 728.30,188.59 728.40,188.52 728.50,188.46 728.60,188.40 728.70,188.34 728.80,188.28 728.90,188.22 729.00,188.16 729.10,188.10 729.20,188.05 729.30,188.00 729.40,187.94 729.50,187.89 729.60,187.84 729.70,187.80 729.80,187.75 729.90,187.70 730.00,187.66 730.10,187.62 730.20,187.57 730.30,187.53 730.40,187.50 730.50,187.46 730.60,187.42 730.70,187.39 730.80,187.35 730.90,187.32 731.00,187.29 731.10,187.26 731.20,187.23 731.30,187.20 731.40,187.18 731.50,187.15 731.60,187.13 731.70,187.11 731.80,187.09 731.90,187.07 732.00,187.05 732.10,187.03 732.20,187.02 732.30,187.00 732.40,186.99 732.50,186.98 732.60,186.97 732.70,186.96 732.80,186.95 732.90,186.94 733.00,186.94 733.10,186.93 733.20,186.93 733.30,186.93 733.40,186.93 733.50,186.93 733.60,186.93 733.70,186.94 733.80,186.94 733.90,186.95 734.00,186.95 734.10,186.96 734.20,186.97 734.30,186.98 734.40,187.00 734.50,187.01 734.60,187.03 734.70,187.04 734.80,187.06 734.90,187.08 735.00,187.10 735.10,187.12 735.20,187.14 735.30,187.17 735.40,187.19 735.50,187.22 735.60,187.24 735.70,187.27 735.80,187.30 735.90,187.33 736.00,187.37 736.10,187.40 736.20,187.44 736.30,187.47 736.40,187.51 736.50,187.55 736.60,187.59 736.70,187.63 736.80,187.67 736.90,187.71 737.00,187.76 737.10,187.81 737.20,187.85 737.30,187.90 737.40,187.95 737.50,188.00 737.60,188.05 737.70,188.11 737.80,188.16 737.90,188.22 738.00,188.27 738.10,188.33 738.20,188.39 738.30,188.45 738.40,188.51 738.50,188.57 738.60,188.64 738.70,188.70 738.80,188.77 738.90,188.83 739.00,188.90 739.10,188.97 739.20,189.04 739.30,189.11 739.40,189.19 739.50,189.26 739.60,189.33 739.70,189.41 739.80,189.49 739.90,189.57 740.00,189.65 740.10,189.73 740.20,189.81 740.30,189.89 740.40,189.97 740.50,190.06 740.60,190.15 740.70,190.23 740.80,190.32 740.90,190.41 741.00,190.50 741.10,190.59 741.20,190.68 741.30,190.78 741.40,190.87 741.50,190.97 741.60,191.06 741.70,191.16 741.80,191.26 741.90,191.36 742.00,191.46 742.10,191.56 742.20,191.66 742.30,191.77 742.40,191.87 742.50,191.98 742.60,192.09 742.70,192.19 742.80,192.30 742.90,192.41 743.00,192.52 743.10,192.63 743.20,192.75 743.30,192.86 743.40,192.97 743.50,193.09 743.60,193.21 743.70,193.32 743.80,193.44 743.90,193.56 744.00,193.68 744.10,193.80 744.20,193.92 744.30,194.05 744.40,194.17 744.50,194.29 744.60,194.42 744.70,194.55 744.80,194.67 744.90,194.80 745.00,194.93 745.10,195.06 745.20,195.19 745.30,195.32 745.40,195.45 745.50,195.59 745.60,195.72 745.70,195.86 745.80,195.99 745.90,196.13 746.00,196.27 746.10,196.40 746.20,196.54 746.30,196.68 746.40,196.82 746.50,196.96 746.60,197.11 746.70,197.25 746.80,197.39 746.90,197.54 747.00,197.68 747.10,197.83 747.20,197.98 747.30,198.12 747.40,198.27 747.50,198.42 747.60,198.57 747.70,198.72 747.80,198.87 747.90,199.02 748.00,199.17 748.10,199.33 748.20,199.48 748.30,199.63 748.40,199.79 748.50,199.95 748.60,200.10 748.70,200.26 748.80,200.42 748.90,200.57 749.00,200.73 749.10,200.89 749.20,201.05 749.30,201.21 749.40,201.37 749.50,201.54 749.60,201.70 749.70,201.86 749.80,202.02 749.90,202.19 750.00,202.35 750.10,202.52 750.20,202.68 750.30,202.85 750.40,203.02 750.50,203.18 750.60,203.35 750.70,203.52 750.80,203.69 750.90,203.86 751.00,204.03 751.10,204.20 751.20,204.37 751.30,204.54 751.40,204.71 751.50,204.88 751.60,205.06 751.70,205.23 751.80,205.40 751.90,205.58 752.00,205.75 752.10,205.93 752.20,206.10 752.30,206.28 752.40,206.45 752.50,206.63 752.60,206.81 752.70,206.98 752.80,207.16 752.90,207.34 753.00,207.52 753.10,207.69 753.20,207.87 753.30,208.05 753.40,208.23 753.50,208.41 753.60,208.59 753.70,208.77 753.80,208.95 753.90,209.13 754.00,209.31 754.10,209.50 754.20,209.68 754.30,209.86 754.40,210.04 754.50,210.22 754.60,210.41 754.70,210.59 754.80,210.77 754.90,210.96 755.00,211.14 755.10,211.32 755.20,211.51 755.30,211.69 755.40,211.87 755.50,212.06 755.60,212.24 755.70,212.43 755.80,212.61 755.90,212.80 756.00,212.98 756.10,213.17 756.20,213.35 756.30,213.54 756.40,213.72 756.50,213.91 756.60,214.09 756.70,214.28 756.80,214.46 756.90,214.65 757.00,214.84 757.10,215.02 757.20,215.21 757.30,215.39 757.40,215.58 757.50,215.76 757.60,215.95 757.70,216.14 757.80,216.32 757.90,216.51 758.00,216.69 758.10,216.88 758.20,217.06 758.30,217.25 758.40,217.44 758.50,217.62 758.60,217.81 758.70,217.99 758.80,218.18 758.90,218.36 759.00,218.55 759.10,218.73 759.20,218.92 759.30,219.10 759.40,219.29 759.50,219.47 759.60,219.65 759.70,219.84 759.80,220.02 759.90,220.21 760.00,220.39 760.10,220.57 760.20,220.76 760.30,220.94 760.40,221.12 760.50,221.30 760.60,221.49 760.70,221.67 760.80,221.85 760.90,222.03 761.00,222.21 761.10,222.39 761.20,222.57 761.30,222.75 761.40,222.93 761.50,223.11 761.60,223.29 761.70,223.47 761.80,223.65 761.90,223.83 762.00,224.01 762.10,224.19 762.20,224.36 762.30,224.54 762.40,224.72 762.50,224.89 762.60,225.07 762.70,225.24 762.80,225.42 762.90,225.59 763.00,225.77 763.10,225.94 763.20,226.12 763.30,226.29 763.40,226.46 763.50,226.63 763.60,226.81 763.70,226.98 763.80,227.15 763.90,227.32 764.00,227.49 764.10,227.66 764.20,227.83 764.30,227.99 764.40,228.16 764.50,228.33 764.60,228.50 764.70,228.66 764.80,228.83 764.90,228.99 765.00,229.16 765.10,229.32 765.20,229.49 765.30,229.65 765.40,229.81 765.50,229.97 765.60,230.13 765.70,230.29 765.80,230.45 765.90,230.61 766.00,230.77 766.10,230.93 766.20,231.09 766.30,231.24 766.40,231.40 766.50,231.55 766.60,231.71 766.70,231.86 766.80,232.02 766.90,232.17 767.00,232.32 767.10,232.47 767.20,232.62 767.30,232.77 767.40,232.92 767.50,233.07 767.60,233.22 767.70,233.36 767.80,233.51 767.90,233.65 768.00,233.80 768.10,233.94 768.20,234.08 768.30,234.23 768.40,234.37 768.50,234.51 768.60,234.65 768.70,234.79 768.80,234.92 768.90,235.06 769.00,235.20 769.10,235.33 769.20,235.47 769.30,235.60 769.40,235.73 769.50,235.87 769.60,236.00 769.70,236.13 769.80,236.26 769.90,236.39 770.00,236.51 770.10,236.64 770.20,236.77 770.30,236.89 770.40,237.01 770.50,237.14 770.60,237.26 770.70,237.38 770.80,237.50 770.90,237.62 771.00,237.74 771.10,237.86 771.20,237.97 771.30,238.09 771.40,238.20 771.50,238.32 771.60,238.43 771.70,238.54 771.80,238.65 771.90,238.76 772.00,238.87 772.10,238.97 772.20,239.08 772.30,239.19 772.40,239.29 772.50,239.39 772.60,239.50 772.70,239.60 772.80,239.70 772.90,239.80 773.00,239.89 773.10,239.99 773.20,240.09 773.30,240.18 773.40,240.27 773.50,240.37 773.60,240.46 773.70,240.55 773.80,240.64 773.90,240.72 774.00,240.81 774.10,240.90 774.20,240.98 774.30,241.07 774.40,241.15 774.50,241.23 774.60,241.31 774.70,241.39 774.80,241.46 774.90,241.54 775.00,241.62 775.10,241.69 775.20,241.76 775.30,241.84 775.40,241.91 775.50,241.97 775.60,242.04 775.70,242.11 775.80,242.18 775.90,242.24 776.00,242.30 776.10,242.36 776.20,242.43 776.30,242.49 776.40,242.54 776.50,242.60 776.60,242.66 776.70,242.71 776.80,242.76 776.90,242.82 777.00,242.87 777.10,242.92 777.20,242.96 777.30,243.01 777.40,243.06 777.50,243.10 777.60,243.14 777.70,243.19 777.80,243.23 777.90,243.27 778.00,243.30 778.10,243.34 778.20,243.37 778.30,243.41 778.40,243.44 778.50,243.47 778.60,243.50 778.70,243.53 778.80,243.56 778.90,243.58 779.00,243.61 779.10,243.63 779.20,243.65 779.30,243.67 779.40,243.69 779.50,243.71 779.60,243.73 779.70,243.74 779.80,243.76 779.90,243.77 780.00,243.78 780.10,243.79 780.20,243.80 780.30,243.80 780.40,243.81 780.50,243.81 780.60,243.82 780.70,243.82 780.80,243.82 780.90,243.82 781.00,243.81 781.10,243.81 781.20,243.80 781.30,243.80 781.40,243.79 781.50,243.78 781.60,243.77 781.70,243.75 781.80,243.74 781.90,243.72 782.00,243.71 782.10,243.69 782.20,243.67 782.30,243.65 782.40,243.62 782.50,243.60 782.60,243.57 782.70,243.55 782.80,243.52 782.90,243.49 783.00,243.46 783.10,243.42 783.20,243.39 783.30,243.35 783.40,243.32 783.50,243.28 783.60,243.24 783.70,243.20 783.80,243.15 783.90,243.11 784.00,243.06 784.10,243.02 784.20,242.97 784.30,242.92 784.40,242.86 784.50,242.81 784.60,242.76 784.70,242.70 784.80,242.64 784.90,242.58 785.00,242.52 785.10,242.46 785.20,242.40 785.30,242.33 785.40,242.27 785.50,242.20 785.60,242.13 785.70,242.06 785.80,241.99 785.90,241.91 786.00,241.84 786.10,241.76 786.20,241.68 786.30,241.60 786.40,241.52 786.50,241.44 786.60,241.35 786.70,241.27 786.80,241.18 786.90,241.09 787.00,241.00 787.10,240.91 787.20,240.82 787.30,240.72 787.40,240.63 787.50,240.53 787.60,240.43 787.70,240.33 787.80,240.23 787.90,240.12 788.00,240.02 788.10,239.91 788.20,239.80 788.30,239.69 788.40,239.58 788.50,239.47 788.60,239.36 788.70,239.24 788.80,239.13 788.90,239.01 789.00,238.89 789.10,238.77 789.20,238.64 789.30,238.52 789.40,238.39 789.50,238.27 789.60,238.14 789.70,238.01 789.80,237.88 789.90,237.75 790.00,237.61 790.10,237.48 790.20,237.34 790.30,237.20 790.40,237.06 790.50,236.92 790.60,236.77 790.70,236.63 790.80,236.48 790.90,236.34 791.00,236.19 791.10,236.04 791.20,235.89 791.30,235.73 791.40,235.58 791.50,235.42 791.60,235.26 791.70,235.11 791.80,234.94 791.90,234.78 792.00,234.62 792.10,234.46 792.20,234.29 792.30,234.12 792.40,233.95 792.50,233.78 792.60,233.61 792.70,233.44 792.80,233.26 792.90,233.09 793.00,232.91 793.10,232.73 793.20,232.55 793.30,232.37 793.40,232.19 793.50,232.00 793.60,231.82 793.70,231.63 793.80,231.44 793.90,231.25 794.00,231.06 794.10,230.87 794.20,230.67 794.30,230.48 794.40,230.28 794.50,230.08 794.60,229.88 794.70,229.68 794.80,229.48 794.90,229.28 795.00,229.07 795.10,228.87 795.20,228.66 795.30,228.45 795.40,228.24 795.50,228.03 795.60,227.82 795.70,227.60 795.80,227.39 795.90,227.17 796.00,226.95 796.10,226.73 796.20,226.51 796.30,226.29 796.40,226.07 796.50,225.84 796.60,225.62 796.70,225.39 796.80,225.16 796.90,224.93 797.00,224.70 797.10,224.47 797.20,224.23 797.30,224.00 797.40,223.76 797.50,223.53 797.60,223.29 797.70,223.05 797.80,222.81 797.90,222.56 798.00,222.32 798.10,222.08 798.20,221.83 798.30,221.58 798.40,221.33 798.50,221.09 798.60,220.83 798.70,220.58 798.80,220.33 798.90,220.08 799.00,219.82 799.10,219.56 799.20,219.31 799.30,219.05 799.40,218.79 799.50,218.53 799.60,218.26 799.70,218.00 799.80,217.74 799.90,217.47 800.00,217.20 800.10,216.93 800.20,216.67 800.30,216.40 800.40,216.12 800.50,215.85 800.60,215.58 800.70,215.30 800.80,215.03 800.90,214.75 801.00,214.47 801.10,214.19 801.20,213.91 801.30,213.63 801.40,213.35 801.50,213.07 801.60,212.78 801.70,212.50 801.80,212.21 801.90,211.93 802.00,211.64 802.10,211.35 802.20,211.06 802.30,210.77 802.40,210.47 802.50,210.18 802.60,209.89 802.70,209.59 802.80,209.30 802.90,209.00 803.00,208.70 803.10,208.40 803.20,208.10 803.30,207.80 803.40,207.50 803.50,207.20 803.60,206.89 803.70,206.59 803.80,206.28 803.90,205.98 804.00,205.67 804.10,205.36 804.20,205.05 804.30,204.74 804.40,204.43 804.50,204.12 804.60,203.81 804.70,203.49 804.80,203.18 804.90,202.86 805.00,202.55 805.10,202.23 805.20,201.91 805.30,201.60 805.40,201.28 805.50,200.96 805.60,200.64 805.70,200.31 805.80,199.99 805.90,199.67 806.00,199.35 806.10,199.02 806.20,198.70 806.30,198.37 806.40,198.04 806.50,197.72 806.60,197.39 806.70,197.06 806.80,196.73 806.90,196.40 807.00,196.07 807.10,195.74 807.20,195.41 807.30,195.07 807.40,194.74 807.50,194.40 807.60,194.07 807.70,193.73 807.80,193.40 807.90,193.06 808.00,192.72 808.10,192.39 808.20,192.05 808.30,191.71 808.40,191.37 808.50,191.03 808.60,190.69 808.70,190.35 808.80,190.01 808.90,189.66 809.00,189.32 809.10,188.98 809.20,188.63 809.30,188.29 809.40,187.94 809.50,187.60 809.60,187.25 809.70,186.90 809.80,186.56 809.90,186.21 810.00,185.86 810.10,185.51 810.20,185.17 810.30,184.82 810.40,184.47 810.50,184.12 810.60,183.77 810.70,183.42 810.80,183.06 810.90,182.71 811.00,182.36 811.10,182.01 811.20,181.66 811.30,181.30 811.40,180.95 811.50,180.60 811.60,180.24 811.70,179.89 811.80,179.53 811.90,179.18 812.00,178.82 812.10,178.47 812.20,178.11 812.30,177.75 812.40,177.40 812.50,177.04 812.60,176.68 812.70,176.33 812.80,175.97 812.90,175.61 813.00,175.25 813.10,174.90 813.20,174.54 813.30,174.18 813.40,173.82 813.50,173.46 813.60,173.10 813.70,172.74 813.80,172.39 813.90,172.03 814.00,171.67 814.10,171.31 814.20,170.95 814.30,170.59 814.40,170.23 814.50,169.87 814.60,169.51 814.70,169.15 814.80,168.79 814.90,168.43 815.00,168.07 815.10,167.71 815.20,167.35 815.30,166.98 815.40,166.62 815.50,166.26 815.60,165.90 815.70,165.54 815.80,165.18 815.90,164.82 816.00,164.46 816.10,164.10 816.20,163.74 816.30,163.38 816.40,163.02 816.50,162.66 816.60,162.30 816.70,161.94 816.80,161.58 816.90,161.22 817.00,160.86 817.10,160.50 817.20,160.14 817.30,159.78 817.40,159.43 817.50,159.07 817.60,158.71 817.70,158.35 817.80,157.99 817.90,157.63 818.00,157.28 818.10,156.92 818.20,156.56 818.30,156.20 818.40,155.85 818.50,155.49 818.60,155.13 818.70,154.78 818.80,154.42 818.90,154.06 819.00,153.71 819.10,153.35 819.20,153.00 819.30,152.64 819.40,152.29 819.50,151.94 819.60,151.58 819.70,151.23 819.80,150.88 819.90,150.53 820.00,150.17 820.10,149.82 820.20,149.47 820.30,149.12 820.40,148.77 820.50,148.42 820.60,148.07 820.70,147.72 820.80,147.37 820.90,147.02 821.00,146.68 821.10,146.33 821.20,145.98 821.30,145.63 821.40,145.29 821.50,144.94 821.60,144.60 821.70,144.25 821.80,143.91 821.90,143.57 822.00,143.22 822.10,142.88 822.20,142.54 822.30,142.20 822.40,141.86 822.50,141.52 822.60,141.18 822.70,140.84 822.80,140.50 822.90,140.16 823.00,139.83 823.10,139.49 823.20,139.15 823.30,138.82 823.40,138.48 823.50,138.15 823.60,137.82 823.70,137.48 823.80,137.15 823.90,136.82 824.00,136.49 824.10,136.16 824.20,135.83 824.30,135.50 824.40,135.18 824.50,134.85 824.60,134.52 824.70,134.20 824.80,133.87 824.90,133.55 825.00,133.23 825.10,132.90 825.20,132.58 825.30,132.26 825.40,131.94 825.50,131.62 825.60,131.30 825.70,130.99 825.80,130.67 825.90,130.35 826.00,130.04 826.10,129.73 826.20,129.41 826.30,129.10 826.40,128.79 826.50,128.48 826.60,128.17 826.70,127.86 826.80,127.55 826.90,127.25 827.00,126.94 827.10,126.63 827.20,126.33 827.30,126.03 827.40,125.72 827.50,125.42 827.60,125.12 827.70,124.82 827.80,124.53 827.90,124.23 828.00,123.93 828.10,123.64 828.20,123.34 828.30,123.05 828.40,122.76 828.50,122.46 828.60,122.17 828.70,121.89 828.80,121.60 828.90,121.31 829.00,121.02 829.10,120.74 829.20,120.45 829.30,120.17 829.40,119.89 829.50,119.61 829.60,119.33 829.70,119.05 829.80,118.77 829.90,118.50 830.00,118.22 830.10,117.95 830.20,117.68 830.30,117.40 830.40,117.13 830.50,116.86 830.60,116.60 830.70,116.33 830.80,116.06 830.90,115.80 831.00,115.54 831.10,115.27 831.20,115.01 831.30,114.75 831.40,114.49 831.50,114.24 831.60,113.98 831.70,113.73 831.80,113.47 831.90,113.22 832.00,112.97 832.10,112.72 832.20,112.47 832.30,112.22 832.40,111.98 832.50,111.73 832.60,111.49 832.70,111.25 832.80,111.00 832.90,110.77 833.00,110.53 833.10,110.29 833.20,110.05 833.30,109.82 833.40,109.59 833.50,109.36 833.60,109.13 833.70,108.90 833.80,108.67 833.90,108.44 834.00,108.22 834.10,107.99 834.20,107.77 834.30,107.55 834.40,107.33 834.50,107.11 834.60,106.90 834.70,106.68 834.80,106.47 834.90,106.26 835.00,106.04 835.10,105.83 835.20,105.63 835.30,105.42 835.40,105.21 835.50,105.01 835.60,104.81 835.70,104.61 835.80,104.41 835.90,104.21 836.00,104.01 836.10,103.82 836.20,103.62 836.30,103.43 836.40,103.24 836.50,103.05 836.60,102.86 836.70,102.68 836.80,102.49 836.90,102.31 837.00,102.13 837.10,101.95 837.20,101.77 837.30,101.59 837.40,101.42 837.50,101.24 837.60,101.07 837.70,100.90 837.80,100.73 837.90,100.56 838.00,100.40 838.10,100.23 838.20,100.07 838.30,99.91 838.40,99.75 838.50,99.59 838.60,99.43 838.70,99.27 838.80,99.12 838.90,98.97 839.00,98.82 839.10,98.67 839.20,98.52 839.30,98.37 839.40,98.23 839.50,98.09 839.60,97.94 839.70,97.81 839.80,97.67 839.90,97.53 840.00,97.40 840.10,97.26 840.20,97.13 840.30,97.00 840.40,96.87 840.50,96.75 840.60,96.62 840.70,96.50 840.80,96.38 840.90,96.25 841.00,96.14 841.10,96.02 841.20,95.90 841.30,95.79 841.40,95.68 841.50,95.57 841.60,95.46 841.70,95.35 841.80,95.25 841.90,95.14 842.00,95.04 842.10,94.94 842.20,94.84 842.30,94.74 842.40,94.65 842.50,94.55 842.60,94.46 842.70,94.37 842.80,94.28 842.90,94.20 843.00,94.11 843.10,94.03 843.20,93.95 843.30,93.86 843.40,93.79 843.50,93.71 843.60,93.63 843.70,93.56 843.80,93.49 843.90,93.42 844.00,93.35 844.10,93.28 844.20,93.22 844.30,93.15 844.40,93.09 844.50,93.03 844.60,92.97 844.70,92.92 844.80,92.86 844.90,92.81 845.00,92.76 845.10,92.71 845.20,92.66 845.30,92.61 845.40,92.57 845.50,92.52 845.60,92.48 845.70,92.44 845.80,92.40 845.90,92.37 846.00,92.33 846.10,92.30 846.20,92.27 846.30,92.24 846.40,92.21 846.50,92.19 846.60,92.16 846.70,92.14 846.80,92.12 846.90,92.10 847.00,92.08 847.10,92.07 847.20,92.05 847.30,92.04 847.40,92.03 847.50,92.02 847.60,92.01 847.70,92.01 847.80,92.00 847.90,92.00 848.00,92.00 848.10,92.00 848.20,92.00 848.30,92.01 848.40,92.02 848.50,92.02 848.60,92.03 848.70,92.04 848.80,92.06 848.90,92.07 849.00,92.09 849.10,92.11 849.20,92.13 849.30,92.15 849.40,92.17 849.50,92.20 849.60,92.22 849.70,92.25 849.80,92.28 849.90,92.31 850.00,92.35 850.10,92.38 850.20,92.42 850.30,92.46 850.40,92.50 850.50,92.54 850.60,92.58 850.70,92.63 850.80,92.67 850.90,92.72 851.00,92.77 851.10,92.82 851.20,92.88 851.30,92.93 851.40,92.99 851.50,93.05 851.60,93.11 851.70,93.17 851.80,93.23 851.90,93.30 852.00,93.36 852.10,93.43 852.20,93.50 852.30,93.57 852.40,93.65 852.50,93.72 852.60,93.80 852.70,93.88 852.80,93.96 852.90,94.04 853.00,94.12 853.10,94.20 853.20,94.29 853.30,94.38 853.40,94.47 853.50,94.56 853.60,94.65 853.70,94.74 853.80,94.84 853.90,94.94 854.00,95.04 854.10,95.14 854.20,95.24 854.30,95.34 854.40,95.45 854.50,95.55 854.60,95.66 854.70,95.77 854.80,95.88 854.90,96.00 855.00,96.11" fill="none" stroke="#D95319" stroke-width="2.8" stroke-linejoin="round" stroke-linecap="butt"/>
<text x="555.00" y="303" text-anchor="middle" class="tk">0</text>
<text x="615.00" y="303" text-anchor="middle" class="tk">2</text>
<text x="675.00" y="303" text-anchor="middle" class="tk">4</text>
<text x="735.00" y="303" text-anchor="middle" class="tk">6</text>
<text x="795.00" y="303" text-anchor="middle" class="tk">8</text>
<text x="855.00" y="303" text-anchor="middle" class="tk">10</text>
<text x="549.5" y="141" text-anchor="end" class="tk">0.05</text>
<text x="549.5" y="198" text-anchor="end" class="tk">0</text>
<text x="549.5" y="256" text-anchor="end" class="tk">-0.05</text>
<text x="705.00" y="86" text-anchor="middle" class="ti">Second Floor Response</text>
<text x="705.00" y="321" text-anchor="middle" class="lb">Time</text>
<text x="0" y="0" transform="translate(510,188.00) rotate(-90)" text-anchor="middle" class="lb">x₂ (Floor 2 displacement)</text>
<clipPath id="c3"><rect x="123" y="363" width="300" height="192"/></clipPath>
<rect x="123" y="363" width="300" height="192" fill="#fff"/>
<line x1="194.5" y1="363.5" x2="194.5" y2="554.5" stroke="#dfdfdf" stroke-width="1"/>
<line x1="270.5" y1="363.5" x2="270.5" y2="554.5" stroke="#dfdfdf" stroke-width="1"/>
<line x1="346.5" y1="363.5" x2="346.5" y2="554.5" stroke="#dfdfdf" stroke-width="1"/>
<line x1="422.5" y1="363.5" x2="422.5" y2="554.5" stroke="#dfdfdf" stroke-width="1"/>
<line x1="123.5" y1="386.5" x2="422.5" y2="386.5" stroke="#dfdfdf" stroke-width="1"/>
<line x1="123.5" y1="423.5" x2="422.5" y2="423.5" stroke="#dfdfdf" stroke-width="1"/>
<line x1="123.5" y1="460.5" x2="422.5" y2="460.5" stroke="#dfdfdf" stroke-width="1"/>
<line x1="123.5" y1="497.5" x2="422.5" y2="497.5" stroke="#dfdfdf" stroke-width="1"/>
<line x1="123.5" y1="535.5" x2="422.5" y2="535.5" stroke="#dfdfdf" stroke-width="1"/>
<line x1="194.5" y1="555" x2="194.5" y2="552" stroke="#262626" stroke-width="1"/>
<line x1="194.5" y1="363" x2="194.5" y2="366" stroke="#262626" stroke-width="1"/>
<line x1="270.5" y1="555" x2="270.5" y2="552" stroke="#262626" stroke-width="1"/>
<line x1="270.5" y1="363" x2="270.5" y2="366" stroke="#262626" stroke-width="1"/>
<line x1="346.5" y1="555" x2="346.5" y2="552" stroke="#262626" stroke-width="1"/>
<line x1="346.5" y1="363" x2="346.5" y2="366" stroke="#262626" stroke-width="1"/>
<line x1="422.5" y1="555" x2="422.5" y2="552" stroke="#262626" stroke-width="1"/>
<line x1="422.5" y1="363" x2="422.5" y2="366" stroke="#262626" stroke-width="1"/>
<line x1="123" y1="386.5" x2="126" y2="386.5" stroke="#262626" stroke-width="1"/>
<line x1="423" y1="386.5" x2="420" y2="386.5" stroke="#262626" stroke-width="1"/>
<line x1="123" y1="423.5" x2="126" y2="423.5" stroke="#262626" stroke-width="1"/>
<line x1="423" y1="423.5" x2="420" y2="423.5" stroke="#262626" stroke-width="1"/>
<line x1="123" y1="460.5" x2="126" y2="460.5" stroke="#262626" stroke-width="1"/>
<line x1="423" y1="460.5" x2="420" y2="460.5" stroke="#262626" stroke-width="1"/>
<line x1="123" y1="497.5" x2="126" y2="497.5" stroke="#262626" stroke-width="1"/>
<line x1="423" y1="497.5" x2="420" y2="497.5" stroke="#262626" stroke-width="1"/>
<line x1="123" y1="535.5" x2="126" y2="535.5" stroke="#262626" stroke-width="1"/>
<line x1="423" y1="535.5" x2="420" y2="535.5" stroke="#262626" stroke-width="1"/>
<rect x="123.5" y="363.5" width="299.0" height="191.0" fill="none" stroke="#262626" stroke-width="1"/>
<polyline clip-path="url(#c3)" points="423.00,460.91 423.00,461.41 422.99,461.90 422.98,462.40 422.97,462.89 422.96,463.39 422.94,463.88 422.92,464.38 422.89,464.87 422.86,465.36 422.83,465.86 422.80,466.35 422.76,466.84 422.71,467.34 422.67,467.83 422.62,468.32 422.57,468.82 422.51,469.31 422.45,469.80 422.39,470.29 422.32,470.79 422.26,471.28 422.18,471.77 422.11,472.26 422.03,472.75 421.95,473.24 421.86,473.73 421.77,474.22 421.68,474.71 421.58,475.20 421.48,475.69 421.38,476.18 421.27,476.66 421.16,477.15 421.05,477.64 420.94,478.12 420.82,478.61 420.69,479.09 420.57,479.58 420.44,480.06 420.31,480.55 420.17,481.03 420.03,481.51 419.89,482.00 419.74,482.48 419.59,482.96 419.44,483.44 419.29,483.92 419.13,484.40 418.97,484.88 418.80,485.35 418.63,485.83 418.46,486.31 418.28,486.78 418.11,487.26 417.92,487.73 417.74,488.21 417.55,488.68 417.36,489.15 417.17,489.62 416.97,490.09 416.77,490.56 416.56,491.03 416.36,491.50 416.14,491.96 415.93,492.43 415.71,492.90 415.49,493.36 415.27,493.82 415.04,494.29 414.81,494.75 414.58,495.21 414.35,495.67 414.11,496.13 413.86,496.59 413.62,497.04 413.37,497.50 413.12,497.95 412.86,498.41 412.61,498.86 412.35,499.31 412.08,499.76 411.82,500.21 411.55,500.66 411.27,501.11 411.00,501.55 410.72,502.00 410.43,502.44 410.15,502.89 409.86,503.33 409.57,503.77 409.27,504.21 408.98,504.65 408.68,505.08 408.37,505.52 408.07,505.95 407.76,506.39 407.45,506.82 407.13,507.25 406.81,507.68 406.49,508.11 406.17,508.53 405.84,508.96 405.51,509.38 405.18,509.80 404.84,510.23 404.50,510.65 404.16,511.06 403.82,511.48 403.47,511.90 403.12,512.31 402.77,512.73 402.41,513.14 402.06,513.55 401.69,513.96 401.33,514.36 400.96,514.77 400.59,515.17 400.22,515.58 399.85,515.98 399.47,516.38 399.09,516.78 398.71,517.17 398.32,517.57 397.93,517.96 397.54,518.35 397.15,518.74 396.75,519.13 396.35,519.52 395.95,519.90 395.55,520.29 395.14,520.67 394.73,521.05 394.32,521.43 393.90,521.81 393.48,522.18 393.06,522.56 392.64,522.93 392.22,523.30 391.79,523.67 391.36,524.03 390.93,524.40 390.49,524.76 390.05,525.13 389.61,525.49 389.17,525.84 388.73,526.20 388.28,526.55 387.83,526.91 387.38,527.26 386.92,527.61 386.47,527.95 386.01,528.30 385.54,528.64 385.08,528.98 384.61,529.32 384.15,529.66 383.67,530.00 383.20,530.33 382.73,530.66 382.25,530.99 381.77,531.32 381.29,531.65 380.80,531.97 380.31,532.30 379.83,532.62 379.33,532.93 378.84,533.25 378.35,533.57 377.85,533.88 377.35,534.19 376.85,534.50 376.34,534.80 375.84,535.11 375.33,535.41 374.82,535.71 374.31,536.01 373.79,536.30 373.28,536.60 372.76,536.89 372.24,537.18 371.72,537.47 371.19,537.75 370.67,538.04 370.14,538.32 369.61,538.60 369.08,538.87 368.54,539.15 368.01,539.42 367.47,539.69 366.93,539.96 366.39,540.23 365.85,540.49 365.30,540.75 364.75,541.01 364.21,541.27 363.66,541.53 363.10,541.78 362.55,542.03 362.00,542.28 361.44,542.52 360.88,542.77 360.32,543.01 359.76,543.25 359.20,543.49 358.63,543.72 358.06,543.96 357.50,544.19 356.93,544.41 356.35,544.64 355.78,544.86 355.21,545.08 354.63,545.30 354.05,545.52 353.47,545.73 352.89,545.95 352.31,546.16 351.73,546.36 351.14,546.57 350.56,546.77 349.97,546.97 349.38,547.17 348.79,547.36 348.20,547.56 347.61,547.75 347.01,547.94 346.42,548.12 345.82,548.31 345.22,548.49 344.62,548.67 344.02,548.84 343.42,549.02 342.82,549.19 342.22,549.36 341.61,549.52 341.01,549.69 340.40,549.85 339.79,550.01 339.18,550.17 338.57,550.32 337.96,550.47 337.35,550.62 336.73,550.77 336.12,550.91 335.50,551.06 334.89,551.20 334.27,551.33 333.65,551.47 333.03,551.60 332.41,551.73 331.79,551.86 331.17,551.98 330.55,552.10 329.92,552.22 329.30,552.34 328.67,552.46 328.05,552.57 327.42,552.68 326.79,552.79 326.16,552.89 325.54,552.99 324.91,553.09 324.28,553.19 323.64,553.28 323.01,553.38 322.38,553.47 321.75,553.55 321.11,553.64 320.48,553.72 319.85,553.80 319.21,553.88 318.58,553.95 317.94,554.02 317.30,554.09 316.67,554.16 316.03,554.22 315.39,554.28 314.75,554.34 314.11,554.40 313.47,554.45 312.84,554.51 312.20,554.55 311.56,554.60 310.92,554.65 310.27,554.69 309.63,554.73 308.99,554.76 308.35,554.79 307.71,554.83 307.07,554.85 306.43,554.88 305.78,554.90 305.14,554.92 304.50,554.94 303.86,554.96 303.21,554.97 302.57,554.98 301.93,554.99 301.28,555.00 300.64,555.00 300.00,555.00 299.36,555.00 298.71,554.99 298.07,554.99 297.43,554.98 296.78,554.96 296.14,554.95 295.50,554.93 294.86,554.91 294.21,554.89 293.57,554.86 292.93,554.84 292.29,554.81 291.65,554.77 291.01,554.74 290.36,554.70 289.72,554.66 289.08,554.62 288.44,554.57 287.80,554.52 287.16,554.47 286.52,554.42 285.89,554.36 285.25,554.31 284.61,554.25 283.97,554.18 283.33,554.12 282.70,554.05 282.06,553.98 281.43,553.91 280.79,553.83 280.16,553.75 279.52,553.67 278.89,553.59 278.26,553.50 277.62,553.41 276.99,553.32 276.36,553.23 275.73,553.14 275.10,553.04 274.47,552.94 273.84,552.83 273.21,552.73 272.59,552.62 271.96,552.51 271.33,552.40 270.71,552.28 270.09,552.16 269.46,552.04 268.84,551.92 268.22,551.80 267.60,551.67 266.98,551.54 266.36,551.41 265.74,551.27 265.12,551.13 264.51,550.99 263.89,550.85 263.28,550.71 262.67,550.56 262.05,550.41 261.44,550.26 260.83,550.10 260.22,549.95 259.62,549.79 259.01,549.63 258.40,549.46 257.80,549.30 257.20,549.13 256.59,548.96 255.99,548.79 255.39,548.61 254.79,548.43 254.20,548.25 253.60,548.07 253.01,547.89 252.41,547.70 251.82,547.51 251.23,547.32 250.64,547.13 250.05,546.93 249.46,546.73 248.88,546.53 248.29,546.33 247.71,546.12 247.13,545.92 246.55,545.71 245.97,545.49 245.39,545.28 244.82,545.06 244.24,544.84 243.67,544.62 243.10,544.40 242.53,544.18 241.96,543.95 241.39,543.72 240.83,543.49 240.26,543.25 239.70,543.02 239.14,542.78 238.58,542.54 238.03,542.29 237.47,542.05 236.92,541.80 236.37,541.55 235.82,541.30 235.27,541.05 234.72,540.79 234.18,540.54 233.63,540.28 233.09,540.02 232.55,539.75 232.01,539.49 231.48,539.22 230.94,538.95 230.41,538.68 229.88,538.40 229.35,538.13 228.82,537.85 228.30,537.57 227.78,537.29 227.26,537.00 226.74,536.72 226.22,536.43 225.71,536.14 225.19,535.85 224.68,535.56 224.17,535.26 223.66,534.96 223.16,534.66 222.66,534.36 222.16,534.06 221.66,533.75 221.16,533.45 220.67,533.14 220.17,532.83 219.68,532.52 219.19,532.20 218.71,531.89 218.22,531.57 217.74,531.25 217.26,530.93 216.79,530.60 216.31,530.28 215.84,529.95 215.37,529.62 214.90,529.29 214.43,528.96 213.97,528.63 213.51,528.29 213.05,527.95 212.59,527.61 212.14,527.27 211.68,526.93 211.23,526.59 210.79,526.24 210.34,525.89 209.90,525.55 209.46,525.19 209.02,524.84 208.58,524.49 208.15,524.13 207.72,523.78 207.29,523.42 206.87,523.06 206.44,522.70 206.02,522.33 205.60,521.97 205.19,521.60 204.77,521.23 204.36,520.86 203.95,520.49 203.55,520.12 203.15,519.75 202.74,519.37 202.35,519.00 201.95,518.62 201.56,518.24 201.17,517.86 200.78,517.48 200.39,517.09 200.01,516.71 199.63,516.32 199.25,515.93 198.88,515.54 198.51,515.15 198.14,514.76 197.77,514.37 197.41,513.98 197.05,513.58 196.69,513.18 196.33,512.78 195.98,512.39 195.63,511.99 195.28,511.58 194.94,511.18 194.59,510.78 194.25,510.37 193.92,509.96 193.58,509.56 193.25,509.15 192.93,508.74 192.60,508.33 192.28,507.91 191.96,507.50 191.64,507.09 191.33,506.67 191.01,506.26 190.71,505.84 190.40,505.42 190.10,505.00 189.80,504.58 189.50,504.16 189.21,503.74 188.92,503.31 188.63,502.89 188.34,502.46 188.06,502.04 187.78,501.61 187.50,501.18 187.23,500.75 186.96,500.32 186.69,499.89 186.43,499.46 186.16,499.03 185.91,498.59 185.65,498.16 185.40,497.72 185.15,497.29 184.90,496.85 184.66,496.41 184.41,495.98 184.18,495.54 183.94,495.10 183.71,494.66 183.48,494.22 183.25,493.77 183.03,493.33 182.81,492.89 182.59,492.45 182.38,492.00 182.17,491.56 181.96,491.11 181.76,490.66 181.55,490.22 181.36,489.77 181.16,489.32 180.97,488.87 180.78,488.43 180.59,487.98 180.41,487.53 180.23,487.08 180.05,486.63 179.88,486.17 179.71,485.72 179.54,485.27 179.37,484.82 179.21,484.36 179.05,483.91 178.90,483.46 178.74,483.00 178.59,482.55 178.45,482.09 178.31,481.64 178.17,481.18 178.03,480.73 177.89,480.27 177.76,479.81 177.64,479.36 177.51,478.90 177.39,478.44 177.27,477.99 177.16,477.53 177.04,477.07 176.94,476.61 176.83,476.16 176.73,475.70 176.63,475.24 176.53,474.78 176.44,474.32 176.35,473.86 176.26,473.40 176.18,472.95 176.10,472.49 176.02,472.03 175.95,471.57 175.87,471.11 175.81,470.65 175.74,470.19 175.68,469.73 175.62,469.27 175.57,468.81 175.51,468.36 175.46,467.90 175.42,467.44 175.37,466.98 175.33,466.52 175.30,466.06 175.26,465.61 175.23,465.15 175.21,464.69 175.18,464.23 175.16,463.77 175.14,463.32 175.13,462.86 175.12,462.40 175.11,461.95 175.10,461.49 175.10,461.03 175.10,460.58 175.10,460.12 175.11,459.67 175.12,459.21 175.13,458.76 175.15,458.31 175.17,457.85 175.19,457.40 175.22,456.95 175.25,456.49 175.28,456.04 175.31,455.59 175.35,455.14 175.39,454.69 175.44,454.24 175.48,453.79 175.53,453.34 175.59,452.89 175.64,452.44 175.70,452.00 175.77,451.55 175.83,451.10 175.90,450.66 175.97,450.21 176.05,449.77 176.12,449.32 176.20,448.88 176.29,448.44 176.37,448.00 176.46,447.55 176.56,447.11 176.65,446.67 176.75,446.24 176.85,445.80 176.96,445.36 177.07,444.92 177.18,444.49 177.29,444.05 177.41,443.62 177.53,443.18 177.65,442.75 177.78,442.32 177.90,441.89 178.04,441.46 178.17,441.03 178.31,440.60 178.45,440.17 178.59,439.74 178.74,439.32 178.89,438.89 179.04,438.47 179.19,438.05 179.35,437.62 179.51,437.20 179.67,436.78 179.84,436.36 180.01,435.94 180.18,435.53 180.36,435.11 180.54,434.70 180.72,434.28 180.90,433.87 181.09,433.46 181.27,433.05 181.47,432.64 181.66,432.23 181.86,431.82 182.06,431.42 182.26,431.01 182.47,430.61 182.68,430.21 182.89,429.81 183.10,429.41 183.32,429.01 183.54,428.61 183.76,428.21 183.98,427.82 184.21,427.42 184.44,427.03 184.67,426.64 184.91,426.25 185.15,425.86 185.39,425.47 185.63,425.09 185.88,424.70 186.13,424.32 186.38,423.94 186.63,423.56 186.89,423.18 187.15,422.80 187.41,422.43 187.67,422.05 187.94,421.68 188.21,421.31 188.48,420.93 188.76,420.57 189.03,420.20 189.31,419.83 189.60,419.47 189.88,419.11 190.17,418.74 190.46,418.38 190.75,418.03 191.04,417.67 191.34,417.31 191.64,416.96 191.94,416.61 192.24,416.26 192.55,415.91 192.86,415.56 193.17,415.22 193.48,414.87 193.80,414.53 194.12,414.19 194.44,413.85 194.76,413.51 195.09,413.18 195.41,412.84 195.74,412.51 196.08,412.18 196.41,411.85 196.75,411.53 197.08,411.20 197.43,410.88 197.77,410.56 198.11,410.24 198.46,409.92 198.81,409.60 199.16,409.29 199.52,408.97 199.87,408.66 200.23,408.35 200.59,408.05 200.95,407.74 201.32,407.44 201.68,407.14 202.05,406.84 202.42,406.54 202.80,406.24 203.17,405.95 203.55,405.66 203.93,405.37 204.31,405.08 204.69,404.79 205.07,404.51 205.46,404.23 205.85,403.95 206.24,403.67 206.63,403.39 207.02,403.12 207.42,402.84 207.82,402.57 208.22,402.31 208.62,402.04 209.02,401.77 209.43,401.51 209.83,401.25 210.24,400.99 210.65,400.74 211.07,400.48 211.48,400.23 211.89,399.98 212.31,399.73 212.73,399.49 213.15,399.24 213.57,399.00 214.00,398.76 214.42,398.52 214.85,398.29 215.28,398.06 215.71,397.83 216.14,397.60 216.57,397.37 217.01,397.15 217.45,396.92 217.88,396.70 218.32,396.49 218.77,396.27 219.21,396.06 219.65,395.84 220.10,395.64 220.54,395.43 220.99,395.22 221.44,395.02 221.89,394.82 222.34,394.62 222.80,394.43 223.25,394.23 223.71,394.04 224.17,393.85 224.63,393.67 225.09,393.48 225.55,393.30 226.01,393.12 226.47,392.94 226.94,392.77 227.41,392.59 227.87,392.42 228.34,392.25 228.81,392.09 229.28,391.92 229.75,391.76 230.23,391.60 230.70,391.45 231.18,391.29 231.65,391.14 232.13,390.99 232.61,390.84 233.09,390.70 233.57,390.55 234.05,390.41 234.53,390.28 235.02,390.14 235.50,390.01 235.99,389.88 236.47,389.75 236.96,389.62 237.45,389.50 237.93,389.38 238.42,389.26 238.91,389.14 239.40,389.03 239.90,388.91 240.39,388.80 240.88,388.70 241.38,388.59 241.87,388.49 242.37,388.39 242.86,388.29 243.36,388.20 243.86,388.11 244.35,388.02 244.85,387.93 245.35,387.84 245.85,387.76 246.35,387.68 246.85,387.60 247.35,387.53 247.85,387.45 248.36,387.38 248.86,387.31 249.36,387.25 249.87,387.19 250.37,387.12 250.87,387.07 251.38,387.01 251.88,386.96 252.39,386.91 252.90,386.86 253.40,386.81 253.91,386.77 254.42,386.73 254.92,386.69 255.43,386.65 255.94,386.62 256.45,386.59 256.95,386.56 257.46,386.53 257.97,386.51 258.48,386.49 258.99,386.47 259.50,386.45 260.01,386.44 260.51,386.43 261.02,386.42 261.53,386.41 262.04,386.41 262.55,386.41 263.06,386.41 263.57,386.41 264.08,386.42 264.59,386.42 265.10,386.43 265.61,386.45 266.11,386.46 266.62,386.48 267.13,386.50 267.64,386.53 268.15,386.55 268.66,386.58 269.16,386.61 269.67,386.64 270.18,386.68 270.69,386.72 271.19,386.76 271.70,386.80 272.21,386.85 272.71,386.89 273.22,386.94 273.72,387.00 274.23,387.05 274.73,387.11 275.24,387.17 275.74,387.23 276.24,387.30 276.75,387.36 277.25,387.43 277.75,387.51 278.25,387.58 278.75,387.66 279.25,387.74 279.75,387.82 280.25,387.90 280.75,387.99 281.25,388.08 281.75,388.17 282.24,388.27 282.74,388.36 283.24,388.46 283.73,388.56 284.22,388.67 284.72,388.77 285.21,388.88 285.70,388.99 286.19,389.11 286.68,389.22 287.17,389.34 287.66,389.46 288.15,389.58 288.64,389.71 289.12,389.84 289.61,389.97 290.09,390.10 290.58,390.23 291.06,390.37 291.54,390.51 292.02,390.65 292.50,390.80 292.98,390.94 293.46,391.09 293.93,391.24 294.41,391.40 294.88,391.55 295.36,391.71 295.83,391.87 296.30,392.03 296.77,392.20 297.24,392.36 297.71,392.53 298.17,392.71 298.64,392.88 299.10,393.06 299.57,393.23 300.03,393.41 300.49,393.60 300.95,393.78 301.41,393.97 301.86,394.16 302.32,394.35 302.77,394.55 303.23,394.74 303.68,394.94 304.13,395.14 304.58,395.35 305.02,395.55 305.47,395.76 305.92,395.97 306.36,396.18 306.80,396.40 307.24,396.61 307.68,396.83 308.12,397.05 308.55,397.27 308.99,397.50 309.42,397.72 309.85,397.95 310.28,398.18 310.71,398.42 311.13,398.65 311.56,398.89 311.98,399.13 312.40,399.37 312.82,399.62 313.24,399.86 313.66,400.11 314.07,400.36 314.48,400.61 314.90,400.87 315.30,401.12 315.71,401.38 316.12,401.64 316.52,401.90 316.93,402.17 317.33,402.43 317.72,402.70 318.12,402.97 318.52,403.24 318.91,403.52 319.30,403.79 319.69,404.07 320.08,404.35 320.46,404.63 320.85,404.91 321.23,405.20 321.61,405.49 321.99,405.78 322.36,406.07 322.74,406.36 323.11,406.66 323.48,406.95 323.85,407.25 324.21,407.55 324.57,407.85 324.94,408.16 325.30,408.46 325.65,408.77 326.01,409.08 326.36,409.39 326.71,409.70 327.06,410.02 327.41,410.34 327.75,410.65 328.10,410.97 328.44,411.30 328.77,411.62 329.11,411.94 329.44,412.27 329.77,412.60 330.10,412.93 330.43,413.26 330.75,413.60 331.08,413.93 331.40,414.27 331.71,414.61 332.03,414.95 332.34,415.29 332.65,415.63 332.96,415.98 333.27,416.32 333.57,416.67 333.87,417.02 334.17,417.37 334.47,417.72 334.76,418.08 335.05,418.43 335.34,418.79 335.63,419.15 335.91,419.51 336.19,419.87 336.47,420.23 336.75,420.60 337.02,420.96 337.30,421.33 337.57,421.70 337.83,422.07 338.10,422.44 338.36,422.81 338.62,423.19 338.87,423.56 339.13,423.94 339.38,424.32 339.63,424.70 339.87,425.08 340.12,425.46 340.36,425.85 340.60,426.23 340.83,426.62 341.07,427.00 341.30,427.39 341.52,427.78 341.75,428.17 341.97,428.57 342.19,428.96 342.41,429.35 342.62,429.75 342.83,430.15 343.04,430.54 343.25,430.94 343.45,431.34 343.65,431.75 343.85,432.15 344.05,432.55 344.24,432.96 344.43,433.36 344.62,433.77 344.80,434.18 344.98,434.59 345.16,435.00 345.33,435.41 345.51,435.82 345.68,436.23 345.85,436.65 346.01,437.06 346.17,437.48 346.33,437.89 346.49,438.31 346.64,438.73 346.79,439.15 346.94,439.57 347.08,439.99 347.22,440.41 347.36,440.83 347.50,441.26 347.63,441.68 347.76,442.11 347.89,442.53 348.01,442.96 348.13,443.39 348.25,443.82 348.37,444.24 348.48,444.67 348.59,445.10 348.69,445.54 348.80,445.97 348.90,446.40 349.00,446.83 349.09,447.27 349.18,447.70 349.27,448.14 349.36,448.57 349.44,449.01 349.52,449.45 349.60,449.88 349.67,450.32 349.74,450.76 349.81,451.20 349.87,451.64 349.94,452.08 350.00,452.52 350.05,452.96 350.10,453.40 350.15,453.84 350.20,454.29 350.24,454.73 350.29,455.17 350.32,455.61 350.36,456.06 350.39,456.50 350.42,456.95 350.44,457.39 350.47,457.84 350.49,458.28 350.50,458.73 350.52,459.18 350.53,459.62 350.53,460.07 350.54,460.52 350.54,460.96 350.54,461.41 350.53,461.86 350.52,462.31 350.51,462.75 350.50,463.20 350.48,463.65 350.46,464.10 350.44,464.55 350.41,465.00 350.38,465.45 350.35,465.90 350.31,466.34 350.28,466.79 350.23,467.24 350.19,467.69 350.14,468.14 350.09,468.59 350.04,469.04 349.98,469.49 349.92,469.94 349.86,470.39 349.79,470.84 349.72,471.28 349.65,471.73 349.57,472.18 349.49,472.63 349.41,473.08 349.33,473.53 349.24,473.98 349.15,474.42 349.06,474.87 348.96,475.32 348.86,475.77 348.76,476.21 348.65,476.66 348.54,477.11 348.43,477.55 348.31,478.00 348.19,478.45 348.07,478.89 347.95,479.34 347.82,479.78 347.69,480.23 347.56,480.67 347.42,481.11 347.28,481.56 347.14,482.00 346.99,482.44 346.84,482.88 346.69,483.33 346.54,483.77 346.38,484.21 346.22,484.65 346.06,485.09 345.89,485.53 345.72,485.97 345.55,486.40 345.37,486.84 345.19,487.28 345.01,487.72 344.83,488.15 344.64,488.59 344.45,489.02 344.25,489.46 344.06,489.89 343.86,490.32 343.66,490.75 343.45,491.19 343.24,491.62 343.03,492.05 342.82,492.48 342.60,492.91 342.38,493.33 342.16,493.76 341.93,494.19 341.70,494.61 341.47,495.04 341.24,495.46 341.00,495.88 340.76,496.31 340.51,496.73 340.27,497.15 340.02,497.57 339.77,497.99 339.51,498.41 339.26,498.82 338.99,499.24 338.73,499.65 338.47,500.07 338.20,500.48 337.92,500.89 337.65,501.31 337.37,501.72 337.09,502.12 336.81,502.53 336.52,502.94 336.23,503.35 335.94,503.75 335.65,504.16 335.35,504.56 335.05,504.96 334.75,505.36 334.45,505.76 334.14,506.16 333.83,506.56 333.51,506.95 333.20,507.35 332.88,507.74 332.56,508.13 332.23,508.53 331.91,508.92 331.58,509.31 331.25,509.69 330.91,510.08 330.57,510.46 330.23,510.85 329.89,511.23 329.55,511.61 329.20,511.99 328.85,512.37 328.49,512.75 328.14,513.13 327.78,513.50 327.42,513.87 327.06,514.25 326.69,514.62 326.32,514.98 325.95,515.35 325.58,515.72 325.20,516.08 324.83,516.45 324.44,516.81 324.06,517.17 323.68,517.53 323.29,517.89 322.90,518.24 322.50,518.60 322.11,518.95 321.71,519.30 321.31,519.65 320.91,520.00 320.50,520.35 320.10,520.69 319.69,521.03 319.27,521.38 318.86,521.72 318.44,522.06 318.02,522.39 317.60,522.73 317.18,523.06 316.75,523.39 316.33,523.72 315.90,524.05 315.46,524.38 315.03,524.71 314.59,525.03 314.15,525.35 313.71,525.67 313.27,525.99 312.82,526.31 312.37,526.62 311.92,526.93 311.47,527.25 311.02,527.55 310.56,527.86 310.10,528.17 309.64,528.47 309.18,528.77 308.71,529.08 308.25,529.37 307.78,529.67 307.31,529.97 306.83,530.26 306.36,530.55 305.88,530.84 305.40,531.13 304.92,531.41 304.44,531.69 303.95,531.98 303.47,532.26 302.98,532.53 302.49,532.81 302.00,533.08 301.50,533.35 301.01,533.62 300.51,533.89 300.01,534.16 299.51,534.42 299.01,534.68 298.50,534.94 297.99,535.20 297.48,535.46 296.97,535.71 296.46,535.96 295.95,536.21 295.43,536.46 294.92,536.70 294.40,536.95 293.88,537.19 293.36,537.43 292.83,537.66 292.31,537.90 291.78,538.13 291.25,538.36 290.72,538.59 290.19,538.82 289.66,539.04 289.12,539.26 288.59,539.48 288.05,539.70 287.51,539.91 286.97,540.13 286.43,540.34 285.88,540.55 285.34,540.75 284.79,540.96 284.24,541.16 283.69,541.36 283.14,541.56 282.59,541.75 282.04,541.95 281.48,542.14 280.93,542.33 280.37,542.51 279.81,542.70 279.25,542.88 278.69,543.06 278.13,543.24 277.57,543.41 277.00,543.58 276.44,543.75 275.87,543.92 275.30,544.09 274.74,544.25 274.17,544.41 273.59,544.57 273.02,544.73 272.45,544.88 271.87,545.03 271.30,545.18 270.72,545.33 270.15,545.47 269.57,545.62 268.99,545.75 268.41,545.89 267.83,546.03 267.24,546.16 266.66,546.29 266.08,546.42 265.49,546.54 264.91,546.67 264.32,546.79 263.73,546.91 263.15,547.02 262.56,547.13 261.97,547.25 261.38,547.35 260.79,547.46 260.19,547.56 259.60,547.66 259.01,547.76 258.41,547.86 257.82,547.95 257.22,548.05 256.63,548.13 256.03,548.22 255.44,548.30 254.84,548.39 254.24,548.47 253.64,548.54 253.04,548.62 252.44,548.69 251.84,548.76 251.24,548.82 250.64,548.89 250.04,548.95 249.44,549.01 248.84,549.06 248.23,549.12 247.63,549.17 247.03,549.22 246.42,549.27 245.82,549.31 245.22,549.35 244.61,549.39 244.01,549.43 243.40,549.46 242.80,549.49 242.19,549.52 241.58,549.55 240.98,549.57 240.37,549.59 239.77,549.61 239.16,549.63 238.55,549.64 237.95,549.66 237.34,549.66 236.73,549.67 236.13,549.67 235.52,549.68 234.92,549.67 234.31,549.67 233.70,549.66 233.10,549.66 232.49,549.64 231.88,549.63 231.28,549.61 230.67,549.59 230.06,549.57 229.46,549.55 228.85,549.52 228.25,549.49 227.64,549.46 227.04,549.43 226.43,549.39 225.83,549.35 225.22,549.31 224.62,549.27 224.02,549.22 223.41,549.17 222.81,549.12 222.21,549.06 221.61,549.01 221.00,548.95 220.40,548.88 219.80,548.82 219.20,548.75 218.60,548.68 218.00,548.61 217.40,548.54 216.80,548.46 216.21,548.38 215.61,548.30 215.01,548.21 214.42,548.13 213.82,548.04 213.22,547.94 212.63,547.85 212.04,547.75 211.44,547.65 210.85,547.55 210.26,547.45 209.67,547.34 209.08,547.23 208.49,547.12 207.90,547.00 207.31,546.89 206.72,546.77 206.14,546.64 205.55,546.52 204.97,546.39 204.38,546.26 203.80,546.13 203.22,546.00 202.64,545.86 202.06,545.72 201.48,545.58 200.90,545.43 200.33,545.29 199.75,545.14 199.17,544.99 198.60,544.83 198.03,544.68 197.46,544.52 196.88,544.36 196.31,544.19 195.75,544.03 195.18,543.86 194.61,543.69 194.05,543.51 193.48,543.34 192.92,543.16 192.36,542.98 191.80,542.80 191.24,542.61 190.68,542.42 190.13,542.23 189.57,542.04 189.02,541.85 188.47,541.65 187.91,541.45 187.36,541.25 186.82,541.04 186.27,540.84 185.72,540.63 185.18,540.42 184.64,540.20 184.10,539.99 183.56,539.77 183.02,539.55 182.48,539.33 181.95,539.10 181.41,538.87 180.88,538.64 180.35,538.41 179.82,538.18 179.29,537.94 178.77,537.70 178.25,537.46 177.72,537.22 177.20,536.98 176.68,536.73 176.17,536.48 175.65,536.23 175.14,535.97 174.62,535.72 174.11,535.46 173.61,535.20 173.10,534.93 172.59,534.67 172.09,534.40 171.59,534.13 171.09,533.86 170.59,533.59 170.10,533.31 169.60,533.03 169.11,532.75 168.62,532.47 168.13,532.19 167.65,531.90 167.16,531.61 166.68,531.32 166.20,531.03 165.72,530.73 165.25,530.44 164.77,530.14 164.30,529.84 163.83,529.53 163.36,529.23 162.90,528.92 162.43,528.61 161.97,528.30 161.51,527.99 161.06,527.67 160.60,527.36 160.15,527.04 159.70,526.72 159.25,526.40 158.80,526.07 158.36,525.74 157.92,525.42 157.48,525.08 157.04,524.75 156.60,524.42 156.17,524.08 155.74,523.74 155.31,523.40 154.89,523.06 154.46,522.72 154.04,522.37 153.62,522.03 153.21,521.68 152.79,521.33 152.38,520.97 151.97,520.62 151.56,520.26 151.16,519.90 150.76,519.54 150.36,519.18 149.96,518.82 149.57,518.45 149.18,518.09 148.79,517.72 148.40,517.35 148.01,516.98 147.63,516.60 147.25,516.23 146.88,515.85 146.50,515.47 146.13,515.09 145.76,514.71 145.40,514.32 145.03,513.94 144.67,513.55 144.31,513.16 143.96,512.77 143.60,512.38 143.25,511.99 142.91,511.59 142.56,511.20 142.22,510.80 141.88,510.40 141.54,510.00 141.21,509.60 140.88,509.19 140.55,508.79 140.22,508.38 139.90,507.97 139.58,507.57 139.26,507.15 138.95,506.74 138.64,506.33 138.33,505.91 138.02,505.50 137.72,505.08 137.42,504.66 137.12,504.24 136.83,503.82 136.53,503.39 136.24,502.97 135.96,502.54 135.68,502.12 135.40,501.69 135.12,501.26 134.84,500.83 134.57,500.39 134.30,499.96 134.04,499.53 133.78,499.09 133.52,498.65 133.26,498.21 133.01,497.77 132.76,497.33 132.51,496.89 132.27,496.45 132.02,496.01 131.79,495.56 131.55,495.11 131.32,494.67 131.09,494.22 130.86,493.77 130.64,493.32 130.42,492.87 130.20,492.41 129.99,491.96 129.78,491.51 129.57,491.05 129.37,490.59 129.17,490.14 128.97,489.68 128.77,489.22 128.58,488.76 128.39,488.30 128.21,487.84 128.02,487.37 127.85,486.91 127.67,486.44 127.50,485.98 127.33,485.51 127.16,485.05 127.00,484.58 126.84,484.11 126.68,483.64 126.53,483.17 126.38,482.70 126.23,482.23 126.08,481.75 125.94,481.28 125.81,480.81 125.67,480.33 125.54,479.86 125.41,479.38 125.29,478.90 125.17,478.43 125.05,477.95 124.93,477.47 124.82,476.99 124.71,476.51 124.61,476.03 124.51,475.55 124.41,475.07 124.31,474.59 124.22,474.11 124.13,473.62 124.05,473.14 123.97,472.66 123.89,472.17 123.81,471.69 123.74,471.20 123.67,470.72 123.61,470.23 123.55,469.74 123.49,469.26 123.43,468.77 123.38,468.28 123.33,467.79 123.29,467.31 123.24,466.82 123.20,466.33 123.17,465.84 123.14,465.35 123.11,464.86 123.08,464.37 123.06,463.88 123.04,463.39 123.03,462.90 123.02,462.41 123.01,461.92 123.00,461.43 123.00,460.94 123.00,460.45 123.01,459.96 123.01,459.46 123.03,458.97 123.04,458.48 123.06,457.99 123.08,457.50 123.11,457.01 123.13,456.51 123.17,456.02 123.20,455.53 123.24,455.04 123.28,454.55 123.33,454.05 123.38,453.56 123.43,453.07 123.48,452.58 123.54,452.09 123.60,451.60 123.67,451.11 123.74,450.62 123.81,450.12 123.88,449.63 123.96,449.14 124.05,448.65 124.13,448.16 124.22,447.67 124.31,447.18 124.41,446.69 124.51,446.20 124.61,445.72 124.71,445.23 124.82,444.74 124.94,444.25 125.05,443.76 125.17,443.28 125.29,442.79 125.42,442.30 125.55,441.82 125.68,441.33 125.81,440.85 125.95,440.36 126.09,439.88 126.24,439.39 126.39,438.91 126.54,438.43 126.70,437.94 126.86,437.46 127.02,436.98 127.18,436.50 127.35,436.02 127.52,435.54 127.70,435.06 127.88,434.58 128.06,434.10 128.24,433.63 128.43,433.15 128.62,432.67 128.82,432.20 129.01,431.72 129.22,431.25 129.42,430.77 129.63,430.30 129.84,429.83 130.05,429.36 130.27,428.89 130.49,428.42 130.71,427.95 130.94,427.48 131.17,427.01 131.40,426.55 131.64,426.08 131.88,425.62 132.12,425.15 132.37,424.69 132.62,424.23 132.87,423.76 133.13,423.30 133.38,422.84 133.65,422.38 133.91,421.93 134.18,421.47 134.45,421.01 134.72,420.56 135.00,420.11 135.28,419.65 135.57,419.20 135.85,418.75 136.14,418.30 136.43,417.85 136.73,417.40 137.03,416.96 137.33,416.51 137.64,416.07 137.94,415.62 138.26,415.18 138.57,414.74 138.89,414.30 139.21,413.86 139.53,413.43 139.86,412.99 140.18,412.55 140.52,412.12 140.85,411.69 141.19,411.26 141.53,410.83 141.87,410.40 142.22,409.97 142.57,409.54 142.92,409.12 143.28,408.69 143.64,408.27 144.00,407.85 144.36,407.43 144.73,407.01 145.10,406.60 145.47,406.18 145.85,405.77 146.22,405.35 146.61,404.94 146.99,404.53 147.38,404.12 147.77,403.72 148.16,403.31 148.55,402.91 148.95,402.50 149.35,402.10 149.75,401.70 150.16,401.31 150.57,400.91 150.98,400.51 151.39,400.12 151.81,399.73 152.23,399.34 152.65,398.95 153.08,398.56 153.51,398.18 153.94,397.79 154.37,397.41 154.80,397.03 155.24,396.65 155.68,396.27 156.12,395.90 156.57,395.52 157.02,395.15 157.47,394.78 157.92,394.41 158.38,394.05 158.84,393.68 159.30,393.32 159.76,392.95 160.23,392.59 160.69,392.24 161.16,391.88 161.64,391.52 162.11,391.17 162.59,390.82 163.07,390.47 163.55,390.12 164.04,389.78 164.53,389.43 165.02,389.09 165.51,388.75 166.00,388.41 166.50,388.08 167.00,387.74 167.50,387.41 168.00,387.08 168.51,386.75 169.02,386.42 169.53,386.10 170.04,385.78 170.55,385.46 171.07,385.14 171.59,384.82 172.11,384.51 172.63,384.19 173.16,383.88 173.69,383.57 174.22,383.27 174.75,382.96 175.28,382.66 175.82,382.36 176.35,382.06 176.89,381.76 177.44,381.47 177.98,381.17 178.53,380.88 179.07,380.60 179.62,380.31 180.18,380.03 180.73,379.74 181.28,379.46 181.84,379.19 182.40,378.91 182.96,378.64 183.53,378.37 184.09,378.10 184.66,377.83 185.23,377.57 185.80,377.30 186.37,377.04 186.94,376.78 187.52,376.53 188.10,376.27 188.68,376.02 189.26,375.77 189.84,375.53 190.42,375.28 191.01,375.04 191.60,374.80 192.19,374.56 192.78,374.33 193.37,374.09 193.97,373.86 194.56,373.63 195.16,373.41 195.76,373.18 196.36,372.96 196.96,372.74 197.56,372.52 198.17,372.31 198.77,372.09 199.38,371.88 199.99,371.68 200.60,371.47 201.21,371.27 201.83,371.07 202.44,370.87 203.06,370.67 203.67,370.48 204.29,370.29 204.91,370.10 205.53,369.91 206.16,369.73 206.78,369.54 207.41,369.36 208.03,369.19 208.66,369.01 209.29,368.84 209.92,368.67 210.55,368.50 211.18,368.34 211.81,368.18 212.45,368.02 213.08,367.86 213.72,367.70 214.36,367.55 215.00,367.40 215.64,367.25 216.28,367.11 216.92,366.96 217.56,366.82 218.20,366.69 218.85,366.55 219.49,366.42 220.14,366.29 220.79,366.16 221.43,366.03 222.08,365.91 222.73,365.79 223.38,365.67 224.03,365.56 224.69,365.45 225.34,365.34 225.99,365.23 226.65,365.12 227.30,365.02 227.96,364.92 228.61,364.82 229.27,364.73 229.93,364.63 230.59,364.54 231.25,364.46 231.91,364.37 232.57,364.29 233.23,364.21 233.89,364.13 234.55,364.06 235.21,363.98 235.87,363.91 236.54,363.85 237.20,363.78 237.86,363.72 238.53,363.66 239.19,363.60 239.86,363.55 240.52,363.50 241.19,363.45 241.86,363.40 242.52,363.36 243.19,363.32 243.86,363.28 244.52,363.24 245.19,363.21 245.86,363.17 246.53,363.15 247.20,363.12 247.86,363.10 248.53,363.08 249.20,363.06 249.87,363.04 250.54,363.03 251.21,363.02 251.88,363.01 252.55,363.00 253.22,363.00 253.88,363.00 254.55,363.00 255.22,363.01 255.89,363.01 256.56,363.02 257.23,363.04 257.90,363.05 258.57,363.07 259.24,363.09 259.90,363.11 260.57,363.14 261.24,363.16 261.91,363.20 262.58,363.23 263.24,363.26 263.91,363.30 264.58,363.34 265.24,363.39 265.91,363.43 266.58,363.48 267.24,363.53 267.91,363.58 268.57,363.64 269.24,363.70 269.90,363.76 270.57,363.82 271.23,363.89 271.89,363.96 272.55,364.03 273.22,364.10 273.88,364.18 274.54,364.26 275.20,364.34 275.86,364.42 276.52,364.51 277.18,364.60 277.83,364.69 278.49,364.78 279.15,364.88 279.80,364.98 280.46,365.08 281.11,365.18 281.77,365.29 282.42,365.40 283.07,365.51 283.72,365.63 284.37,365.74 285.02,365.86 285.67,365.98 286.32,366.11 286.97,366.23 287.62,366.36 288.26,366.49 288.91,366.63 289.55,366.76 290.19,366.90 290.84,367.04 291.48,367.18 292.12,367.33 292.76,367.48 293.39,367.63 294.03,367.78 294.67,367.94 295.30,368.10 295.93,368.26 296.57,368.42 297.20,368.59 297.83,368.75 298.46,368.92 299.09,369.10 299.71,369.27 300.34,369.45 300.96,369.63 301.59,369.81 302.21,369.99 302.83,370.18 303.45,370.37 304.07,370.56 304.68,370.75 305.30,370.95 305.91,371.15 306.53,371.35 307.14,371.55 307.75,371.76 308.36,371.96 308.96,372.17 309.57,372.38 310.17,372.60 310.78,372.81 311.38,373.03 311.98,373.25 312.58,373.48 313.17,373.70 313.77,373.93 314.36,374.16 314.95,374.39 315.54,374.63 316.13,374.86 316.72,375.10 317.31,375.34 317.89,375.59 318.47,375.83 319.05,376.08 319.63,376.33 320.21,376.58 320.78,376.84 321.36,377.09 321.93,377.35 322.50,377.61 323.07,377.87 323.63,378.14 324.20,378.41 324.76,378.68 325.32,378.95 325.88,379.22 326.44,379.49 327.00,379.77 327.55,380.05 328.10,380.33 328.65,380.62 329.20,380.90 329.74,381.19 330.29,381.48 330.83,381.77 331.37,382.06 331.91,382.36 332.44,382.66 332.98,382.96 333.51,383.26 334.04,383.56 334.57,383.87 335.09,384.17 335.61,384.48 336.14,384.79 336.66,385.11 337.17,385.42 337.69,385.74 338.20,386.06 338.71,386.38 339.22,386.70 339.72,387.02 340.23,387.35 340.73,387.68 341.23,388.01 341.73,388.34 342.22,388.67 342.71,389.01 343.20,389.34 343.69,389.68 344.18,390.02 344.66,390.36 345.14,390.71 345.62,391.05 346.10,391.40 346.57,391.75 347.04,392.10 347.51,392.45 347.98,392.81 348.44,393.16 348.90,393.52 349.36,393.88 349.82,394.24 350.27,394.60 350.73,394.97 351.18,395.33 351.62,395.70 352.07,396.07 352.51,396.44 352.95,396.81 353.38,397.18 353.82,397.56 354.25,397.94 354.68,398.31 355.11,398.69 355.53,399.08 355.95,399.46 356.37,399.84 356.79,400.23 357.20,400.61 357.61,401.00 358.02,401.39 358.42,401.78 358.83,402.18 359.23,402.57 359.62,402.97 360.02,403.36 360.41,403.76 360.80,404.16 361.19,404.56 361.57,404.96 361.95,405.37 362.33,405.77 362.70,406.18 363.08,406.59 363.45,406.99 363.81,407.40 364.18,407.82 364.54,408.23 364.90,408.64 365.25,409.06 365.61,409.47 365.96,409.89 366.30,410.31 366.65,410.73 366.99,411.15 367.33,411.57 367.67,411.99 368.00,412.42 368.33,412.84 368.66,413.27 368.98,413.70 369.30,414.12 369.62,414.55 369.93,414.98 370.25,415.42 370.56,415.85 370.86,416.28 371.17,416.72 371.47,417.15 371.76,417.59 372.06,418.03 372.35,418.46 372.64,418.90 372.92,419.34 373.21,419.78 373.49,420.23 373.76,420.67 374.04,421.11 374.31,421.56 374.57,422.00 374.84,422.45 375.10,422.89 375.36,423.34 375.61,423.79 375.87,424.24 376.12,424.69 376.36,425.14 376.60,425.59 376.84,426.04 377.08,426.50 377.31,426.95 377.54,427.41 377.77,427.86 378.00,428.32 378.22,428.77 378.44,429.23 378.65,429.69 378.86,430.14 379.07,430.60 379.28,431.06 379.48,431.52 379.68,431.98 379.88,432.44 380.07,432.90 380.26,433.37 380.44,433.83 380.63,434.29 380.81,434.75 380.99,435.22 381.16,435.68 381.33,436.15 381.50,436.61 381.66,437.08 381.82,437.54 381.98,438.01 382.14,438.47 382.29,438.94 382.44,439.41 382.58,439.87 382.73,440.34 382.86,440.81 383.00,441.28 383.13,441.75 383.26,442.22 383.39,442.68 383.51,443.15 383.63,443.62 383.75,444.09 383.86,444.56 383.97,445.03 384.08,445.50 384.18,445.97 384.28,446.44 384.38,446.91 384.47,447.38 384.56,447.85 384.65,448.32 384.74,448.80 384.82,449.27 384.90,449.74 384.97,450.21 385.04,450.68 385.11,451.15 385.18,451.62 385.24,452.09 385.30,452.56 385.35,453.03 385.40,453.50 385.45,453.97 385.50,454.44 385.54,454.91 385.58,455.38 385.62,455.85 385.65,456.32 385.68,456.79 385.71,457.26 385.73,457.73 385.75,458.20 385.77,458.67 385.78,459.14 385.79,459.60 385.80,460.07 385.80,460.54 385.80,461.01 385.80,461.47 385.80,461.94 385.79,462.41 385.78,462.87 385.76,463.34 385.74,463.80 385.72,464.27 385.70,464.73 385.67,465.20 385.64,465.66 385.60,466.12 385.57,466.59 385.53,467.05 385.48,467.51 385.44,467.97 385.39,468.43 385.33,468.89 385.28,469.35 385.22,469.81 385.16,470.27 385.09,470.73 385.02,471.18 384.95,471.64 384.88,472.10 384.80,472.55 384.72,473.01 384.63,473.46 384.54,473.91 384.45,474.37 384.36,474.82 384.26,475.27 384.16,475.72 384.06,476.17 383.96,476.62 383.85,477.07 383.74,477.52 383.62,477.96 383.50,478.41 383.38,478.85 383.26,479.30 383.13,479.74 383.00,480.18 382.87,480.63 382.73,481.07 382.59,481.51 382.45,481.95 382.30,482.38 382.16,482.82 382.00,483.26 381.85,483.69 381.69,484.13 381.53,484.56 381.37,484.99 381.20,485.42 381.03,485.85 380.86,486.28 380.69,486.71 380.51,487.14 380.33,487.57 380.15,487.99 379.96,488.41 379.77,488.84 379.58,489.26 379.38,489.68 379.18,490.10 378.98,490.52 378.78,490.94 378.57,491.35 378.36,491.77 378.15,492.18 377.94,492.59 377.72,493.00 377.50,493.41 377.27,493.82 377.05,494.23 376.82,494.64 376.59,495.04 376.35,495.44 376.12,495.85 375.88,496.25 375.63,496.65 375.39,497.05 375.14,497.44 374.89,497.84 374.63,498.23 374.38,498.63 374.12,499.02 373.86,499.41 373.59,499.80 373.33,500.18 373.06,500.57 372.78,500.95 372.51,501.34 372.23,501.72 371.95,502.10 371.67,502.48 371.38,502.85 371.10,503.23 370.80,503.60 370.51,503.97 370.22,504.34 369.92,504.71 369.62,505.08 369.31,505.45 369.01,505.81 368.70,506.17 368.39,506.54 368.08,506.90 367.76,507.25 367.44,507.61 367.12,507.96 366.80,508.32 366.48,508.67 366.15,509.02 365.82,509.37 365.49,509.71 365.15,510.06 364.81,510.40 364.48,510.74 364.13,511.08 363.79,511.42 363.44,511.75 363.09,512.09 362.74,512.42 362.39,512.75 362.04,513.08 361.68,513.41 361.32,513.73 360.96,514.06 360.59,514.38 360.23,514.70 359.86,515.02 359.49,515.33 359.11,515.65 358.74,515.96 358.36,516.27 357.98,516.58 357.60,516.88 357.22,517.19 356.83,517.49 356.44,517.79 356.05,518.09 355.66,518.39 355.27,518.68 354.87,518.97 354.47,519.26 354.07,519.55 353.67,519.84 353.27,520.13 352.86,520.41 352.46,520.69 352.05,520.97 351.64,521.25 351.22,521.52 350.81,521.79 350.39,522.06 349.97,522.33 349.55,522.60 349.13,522.86 348.70,523.13 348.28,523.39 347.85,523.64 347.42,523.90 346.99,524.15 346.56,524.41 346.12,524.66 345.69,524.90 345.25,525.15 344.81,525.39 344.37,525.63 343.92,525.87 343.48,526.11 343.03,526.34 342.58,526.58 342.13,526.81 341.68,527.04 341.23,527.26 340.78,527.49 340.32,527.71 339.86,527.93 339.40,528.14 338.94,528.36 338.48,528.57 338.02,528.78 337.56,528.99 337.09,529.20 336.62,529.40 336.15,529.60 335.68,529.80 335.21,530.00 334.74,530.19 334.27,530.38 333.79,530.57 333.31,530.76 332.84,530.95 332.36,531.13 331.88,531.31 331.39,531.49 330.91,531.67 330.43,531.84 329.94,532.01 329.46,532.18 328.97,532.35 328.48,532.51 327.99,532.67 327.50,532.83 327.01,532.99 326.51,533.15 326.02,533.30 325.52,533.45 325.03,533.60 324.53,533.74 324.03,533.89 323.53,534.03 323.03,534.16 322.53,534.30 322.03,534.43 321.53,534.57 321.02,534.69 320.52,534.82 320.01,534.94 319.51,535.07 319.00,535.19 318.49,535.30 317.98,535.42 317.47,535.53 316.96,535.64 316.45,535.74 315.94,535.85 315.43,535.95 314.91,536.05 314.40,536.15 313.89,536.24 313.37,536.34 312.86,536.43 312.34,536.51 311.82,536.60 311.31,536.68 310.79,536.76 310.27,536.84 309.75,536.91 309.23,536.99 308.71,537.06 308.19,537.12 307.67,537.19 307.15,537.25 306.62,537.31 306.10,537.37 305.58,537.43 305.06,537.48 304.53,537.53 304.01,537.58 303.49,537.62 302.96,537.67 302.44,537.71 301.91,537.75 301.39,537.78 300.86,537.81 300.34,537.85 299.81,537.87 299.28,537.90 298.76,537.92 298.23,537.94 297.70,537.96 297.18,537.98 296.65,537.99 296.12,538.00 295.60,538.01 295.07,538.02 294.54,538.02 294.02,538.02 293.49,538.02 292.96,538.01 292.44,538.01 291.91,538.00 291.38,537.99 290.86,537.97 290.33,537.96 289.80,537.94 289.28,537.92 288.75,537.89 288.23,537.86 287.70,537.84 287.17,537.80 286.65,537.77 286.12,537.73 285.60,537.70 285.07,537.65 284.55,537.61 284.03,537.56 283.50,537.52 282.98,537.46 282.46,537.41 281.93,537.36 281.41,537.30 280.89,537.24 280.37,537.17 279.85,537.11 279.33,537.04 278.81,536.97 278.29,536.89 277.77,536.82 277.25,536.74 276.73,536.66 276.21,536.58 275.70,536.49 275.18,536.40 274.67,536.31 274.15,536.22 273.64,536.13 273.12,536.03 272.61,535.93 272.10,535.83 271.59,535.72 271.08,535.62 270.57,535.51 270.06,535.39 269.55,535.28 269.04,535.16 268.53,535.04 268.03,534.92 267.52,534.80 267.02,534.67 266.51,534.55 266.01,534.41 265.51,534.28 265.01,534.15 264.51,534.01 264.01,533.87 263.51,533.73 263.01,533.58 262.52,533.43 262.02,533.28 261.53,533.13 261.04,532.98 260.54,532.82 260.05,532.66 259.56,532.50 259.07,532.34 258.59,532.17 258.10,532.00 257.61,531.83 257.13,531.66 256.65,531.49 256.17,531.31 255.69,531.13 255.21,530.95 254.73,530.77 254.25,530.58 253.78,530.39 253.30,530.20 252.83,530.01 252.36,529.81 251.89,529.62 251.42,529.42 250.95,529.22 250.49,529.01 250.02,528.81 249.56,528.60 249.10,528.39 248.64,528.18 248.18,527.96 247.72,527.75 247.26,527.53 246.81,527.31 246.36,527.08 245.90,526.86 245.45,526.63 245.01,526.40 244.56,526.17 244.11,525.94 243.67,525.70 243.23,525.46 242.79,525.22 242.35,524.98 241.91,524.74 241.48,524.49 241.04,524.24 240.61,523.99 240.18,523.74 239.75,523.49 239.33,523.23 238.90,522.97 238.48,522.71 238.06,522.45 237.64,522.19 237.22,521.92 236.80,521.65 236.39,521.38 235.98,521.11 235.57,520.84 235.16,520.56 234.75,520.28 234.35,520.00 233.94,519.72 233.54,519.44 233.14,519.15 232.75,518.87 232.35,518.58 231.96,518.29 231.57,517.99 231.18,517.70 230.79,517.40 230.41,517.11 230.02,516.81 229.64,516.50 229.26,516.20 228.89,515.90 228.51,515.59 228.14,515.28 227.77,514.97 227.40,514.66 227.03,514.34 226.67,514.03 226.31,513.71 225.95,513.39 225.59,513.07 225.24,512.75 224.88,512.42 224.53,512.10 224.18,511.77 223.84,511.44 223.49,511.11 223.15,510.77 222.81,510.44 222.47,510.11 222.14,509.77 221.81,509.43 221.48,509.09 221.15,508.75 220.82,508.40 220.50,508.06 220.18,507.71 219.86,507.36 219.54,507.01 219.23,506.66 218.92,506.31 218.61,505.95 218.30,505.60 218.00,505.24 217.70,504.88 217.40,504.52 217.10,504.16 216.81,503.80 216.51,503.43 216.23,503.07 215.94,502.70 215.65,502.33 215.37,501.96 215.09,501.59 214.82,501.22 214.54,500.85 214.27,500.47 214.00,500.09 213.74,499.72 213.47,499.34 213.21,498.96 212.95,498.58 212.70,498.19 212.44,497.81 212.19,497.42 211.94,497.04 211.70,496.65 211.45,496.26 211.21,495.87 210.98,495.48 210.74,495.09 210.51,494.70 210.28,494.30 210.05,493.91 209.83,493.51 209.61,493.11 209.39,492.71 209.17,492.31 208.96,491.91 208.75,491.51 208.54,491.11 208.34,490.70 208.14,490.30 207.94,489.89 207.74,489.48 207.55,489.08 207.35,488.67 207.17,488.26 206.98,487.85 206.80,487.43 206.62,487.02 206.44,486.61 206.27,486.19 206.10,485.78 205.93,485.36 205.76,484.95 205.60,484.53 205.44,484.11 205.28,483.69 205.13,483.27 204.98,482.85 204.83,482.43 204.68,482.00 204.54,481.58 204.40,481.16 204.26,480.73 204.13,480.31 204.00,479.88 203.87,479.46 203.74,479.03 203.62,478.60 203.50,478.17 203.39,477.74 203.27,477.31 203.16,476.88 203.05,476.45 202.95,476.02 202.85,475.59 202.75,475.15 202.65,474.72 202.56,474.29 202.47,473.85 202.38,473.42 202.30,472.98 202.22,472.55 202.14,472.11 202.07,471.68 201.99,471.24 201.92,470.80 201.86,470.36 201.80,469.93 201.74,469.49 201.68,469.05 201.62,468.61 201.57,468.17 201.52,467.73 201.48,467.29 201.44,466.85 201.40,466.41 201.36,465.97 201.33,465.53 201.30,465.08 201.27,464.64 201.25,464.20 201.23,463.76 201.21,463.32 201.19,462.87 201.18,462.43 201.17,461.99 201.17,461.55 201.17,461.10 201.17,460.66 201.17,460.22 201.18,459.77 201.18,459.33 201.20,458.89 201.21,458.44 201.23,458.00 201.25,457.56 201.28,457.11 201.30,456.67 201.33,456.23 201.37,455.79 201.40,455.34 201.44,454.90 201.49,454.46 201.53,454.01 201.58,453.57 201.63,453.13 201.69,452.69 201.75,452.24 201.81,451.80 201.87,451.36 201.94,450.92 202.01,450.48 202.08,450.03 202.16,449.59 202.23,449.15 202.32,448.71 202.40,448.27 202.49,447.83 202.58,447.39 202.67,446.95 202.77,446.51 202.87,446.07 202.97,445.64 203.08,445.20 203.19,444.76 203.30,444.32 203.41,443.89 203.53,443.45 203.65,443.01 203.78,442.58 203.90,442.14 204.03,441.71 204.17,441.28 204.30,440.84 204.44,440.41 204.58,439.98 204.73,439.55 204.87,439.11 205.03,438.68 205.18,438.25 205.33,437.82 205.49,437.39 205.66,436.97 205.82,436.54 205.99,436.11 206.16,435.68 206.33,435.26 206.51,434.83 206.69,434.41 206.87,433.99 207.06,433.56 207.25,433.14 207.44,432.72 207.63,432.30 207.83,431.88 208.03,431.46 208.23,431.04 208.44,430.62 208.65,430.21 208.86,429.79 209.07,429.38 209.29,428.96 209.51,428.55 209.73,428.14 209.96,427.73 210.18,427.32 210.42,426.91 210.65,426.50 210.89,426.09 211.13,425.68 211.37,425.28 211.61,424.87 211.86,424.47 212.11,424.07 212.36,423.67 212.62,423.27 212.88,422.87 213.14,422.47 213.40,422.07 213.67,421.67 213.94,421.28 214.21,420.89 214.49,420.49 214.76,420.10" fill="none" stroke="#0072BD" stroke-width="2.8" stroke-linejoin="round" stroke-linecap="butt"/>
<text x="194.91" y="574" text-anchor="middle" class="tk">-0.05</text>
<text x="270.94" y="574" text-anchor="middle" class="tk">0</text>
<text x="346.97" y="574" text-anchor="middle" class="tk">0.05</text>
<text x="423.00" y="574" text-anchor="middle" class="tk">0.1</text>
<text x="117.5" y="392" text-anchor="end" class="tk">0.1</text>
<text x="117.5" y="429" text-anchor="end" class="tk">0.05</text>
<text x="117.5" y="466" text-anchor="end" class="tk">0</text>
<text x="117.5" y="503" text-anchor="end" class="tk">-0.05</text>
<text x="117.5" y="540" text-anchor="end" class="tk">-0.1</text>
<text x="273.00" y="357" text-anchor="middle" class="ti">Floor 1 Phase Portrait</text>
<text x="273.00" y="592" text-anchor="middle" class="lb">x₁</text>
<text x="0" y="0" transform="translate(78,459.00) rotate(-90)" text-anchor="middle" class="lb">v₁</text>
<clipPath id="c4"><rect x="555" y="363" width="300" height="192"/></clipPath>
<rect x="555" y="363" width="300" height="192" fill="#fff"/>
<line x1="607.5" y1="363.5" x2="607.5" y2="554.5" stroke="#dfdfdf" stroke-width="1"/>
<line x1="696.5" y1="363.5" x2="696.5" y2="554.5" stroke="#dfdfdf" stroke-width="1"/>
<line x1="786.5" y1="363.5" x2="786.5" y2="554.5" stroke="#dfdfdf" stroke-width="1"/>
<line x1="555.5" y1="406.5" x2="854.5" y2="406.5" stroke="#dfdfdf" stroke-width="1"/>
<line x1="555.5" y1="456.5" x2="854.5" y2="456.5" stroke="#dfdfdf" stroke-width="1"/>
<line x1="555.5" y1="506.5" x2="854.5" y2="506.5" stroke="#dfdfdf" stroke-width="1"/>
<line x1="607.5" y1="555" x2="607.5" y2="552" stroke="#262626" stroke-width="1"/>
<line x1="607.5" y1="363" x2="607.5" y2="366" stroke="#262626" stroke-width="1"/>
<line x1="696.5" y1="555" x2="696.5" y2="552" stroke="#262626" stroke-width="1"/>
<line x1="696.5" y1="363" x2="696.5" y2="366" stroke="#262626" stroke-width="1"/>
<line x1="786.5" y1="555" x2="786.5" y2="552" stroke="#262626" stroke-width="1"/>
<line x1="786.5" y1="363" x2="786.5" y2="366" stroke="#262626" stroke-width="1"/>
<line x1="555" y1="406.5" x2="558" y2="406.5" stroke="#262626" stroke-width="1"/>
<line x1="855" y1="406.5" x2="852" y2="406.5" stroke="#262626" stroke-width="1"/>
<line x1="555" y1="456.5" x2="558" y2="456.5" stroke="#262626" stroke-width="1"/>
<line x1="855" y1="456.5" x2="852" y2="456.5" stroke="#262626" stroke-width="1"/>
<line x1="555" y1="506.5" x2="558" y2="506.5" stroke="#262626" stroke-width="1"/>
<line x1="855" y1="506.5" x2="852" y2="506.5" stroke="#262626" stroke-width="1"/>
<rect x="555.5" y="363.5" width="299.0" height="191.0" fill="none" stroke="#262626" stroke-width="1"/>
<polyline clip-path="url(#c4)" points="697.06,456.37 697.06,456.04 697.06,455.71 697.07,455.38 697.07,455.05 697.08,454.71 697.09,454.38 697.10,454.05 697.12,453.72 697.14,453.39 697.16,453.06 697.18,452.73 697.20,452.40 697.22,452.07 697.25,451.74 697.28,451.41 697.31,451.08 697.34,450.75 697.38,450.42 697.42,450.09 697.45,449.76 697.50,449.44 697.54,449.11 697.58,448.78 697.63,448.45 697.68,448.12 697.73,447.80 697.78,447.47 697.84,447.14 697.89,446.81 697.95,446.49 698.01,446.16 698.08,445.84 698.14,445.51 698.21,445.19 698.27,444.86 698.35,444.54 698.42,444.21 698.49,443.89 698.57,443.57 698.65,443.25 698.73,442.92 698.81,442.60 698.89,442.28 698.98,441.96 699.07,441.64 699.16,441.32 699.25,441.00 699.34,440.68 699.44,440.36 699.53,440.05 699.63,439.73 699.74,439.41 699.84,439.10 699.94,438.78 700.05,438.47 700.16,438.15 700.27,437.84 700.38,437.53 700.50,437.21 700.61,436.90 700.73,436.59 700.85,436.28 700.98,435.97 701.10,435.66 701.23,435.35 701.35,435.05 701.48,434.74 701.61,434.43 701.75,434.13 701.88,433.82 702.02,433.52 702.16,433.22 702.30,432.91 702.44,432.61 702.58,432.31 702.73,432.01 702.88,431.71 703.03,431.41 703.18,431.12 703.33,430.82 703.49,430.52 703.64,430.23 703.80,429.93 703.96,429.64 704.13,429.35 704.29,429.06 704.46,428.77 704.62,428.48 704.79,428.19 704.96,427.90 705.14,427.61 705.31,427.33 705.49,427.04 705.66,426.76 705.84,426.48 706.02,426.20 706.21,425.91 706.39,425.63 706.58,425.36 706.77,425.08 706.96,424.80 707.15,424.53 707.34,424.25 707.53,423.98 707.73,423.71 707.93,423.43 708.13,423.16 708.33,422.90 708.53,422.63 708.74,422.36 708.94,422.09 709.15,421.83 709.36,421.57 709.57,421.30 709.78,421.04 710.00,420.78 710.21,420.53 710.43,420.27 710.65,420.01 710.87,419.76 711.09,419.50 711.31,419.25 711.54,419.00 711.76,418.75 711.99,418.50 712.22,418.25 712.45,418.01 712.68,417.76 712.92,417.52 713.15,417.28 713.39,417.03 713.63,416.80 713.86,416.56 714.11,416.32 714.35,416.08 714.59,415.85 714.84,415.62 715.08,415.39 715.33,415.16 715.58,414.93 715.83,414.70 716.08,414.47 716.34,414.25 716.59,414.03 716.85,413.80 717.10,413.58 717.36,413.37 717.62,413.15 717.88,412.93 718.15,412.72 718.41,412.50 718.68,412.29 718.94,412.08 719.21,411.88 719.48,411.67 719.75,411.46 720.02,411.26 720.29,411.06 720.57,410.86 720.84,410.66 721.12,410.46 721.40,410.26 721.68,410.07 721.96,409.87 722.24,409.68 722.52,409.49 722.80,409.31 723.09,409.12 723.37,408.93 723.66,408.75 723.95,408.57 724.24,408.39 724.53,408.21 724.82,408.03 725.11,407.86 725.40,407.68 725.70,407.51 725.99,407.34 726.29,407.17 726.59,407.01 726.88,406.84 727.18,406.68 727.48,406.51 727.78,406.35 728.09,406.20 728.39,406.04 728.69,405.88 729.00,405.73 729.30,405.58 729.61,405.43 729.92,405.28 730.23,405.14 730.54,404.99 730.85,404.85 731.16,404.71 731.47,404.57 731.78,404.43 732.10,404.29 732.41,404.16 732.73,404.03 733.04,403.90 733.36,403.77 733.68,403.64 734.00,403.52 734.32,403.39 734.64,403.27 734.96,403.15 735.28,403.03 735.60,402.92 735.92,402.81 736.25,402.69 736.57,402.58 736.90,402.47 737.22,402.37 737.55,402.26 737.87,402.16 738.20,402.06 738.53,401.96 738.86,401.86 739.19,401.77 739.52,401.67 739.85,401.58 740.18,401.49 740.51,401.40 740.84,401.32 741.17,401.23 741.51,401.15 741.84,401.07 742.17,400.99 742.51,400.92 742.84,400.84 743.18,400.77 743.51,400.70 743.85,400.63 744.18,400.56 744.52,400.50 744.86,400.44 745.20,400.38 745.53,400.32 745.87,400.26 746.21,400.21 746.55,400.15 746.89,400.10 747.23,400.05 747.57,400.00 747.91,399.96 748.25,399.92 748.59,399.88 748.93,399.84 749.27,399.80 749.61,399.76 749.96,399.73 750.30,399.70 750.64,399.67 750.98,399.64 751.32,399.62 751.67,399.59 752.01,399.57 752.35,399.55 752.69,399.54 753.04,399.52 753.38,399.51 753.72,399.50 754.07,399.49 754.41,399.48 754.75,399.47 755.10,399.47 755.44,399.47 755.78,399.47 756.12,399.47 756.47,399.48 756.81,399.48 757.15,399.49 757.50,399.50 757.84,399.52 758.18,399.53 758.53,399.55 758.87,399.57 759.21,399.59 759.55,399.61 759.90,399.63 760.24,399.66 760.58,399.69 760.92,399.72 761.26,399.75 761.61,399.79 761.95,399.83 762.29,399.87 762.63,399.91 762.97,399.95 763.31,400.00 763.65,400.04 763.99,400.09 764.33,400.14 764.67,400.20 765.01,400.25 765.34,400.31 765.68,400.37 766.02,400.43 766.36,400.49 766.69,400.56 767.03,400.63 767.37,400.70 767.70,400.77 768.04,400.84 768.37,400.92 768.71,400.99 769.04,401.07 769.37,401.15 769.71,401.24 770.04,401.32 770.37,401.41 770.70,401.50 771.03,401.59 771.36,401.69 771.69,401.78 772.02,401.88 772.35,401.98 772.68,402.08 773.00,402.18 773.33,402.29 773.66,402.40 773.98,402.51 774.31,402.62 774.63,402.73 774.95,402.85 775.28,402.96 775.60,403.08 775.92,403.21 776.24,403.33 776.56,403.45 776.88,403.58 777.20,403.71 777.51,403.84 777.83,403.98 778.14,404.11 778.46,404.25 778.77,404.39 779.09,404.53 779.40,404.67 779.71,404.82 780.02,404.96 780.33,405.11 780.64,405.26 780.95,405.42 781.25,405.57 781.56,405.73 781.87,405.88 782.17,406.05 782.47,406.21 782.77,406.37 783.08,406.54 783.38,406.71 783.67,406.88 783.97,407.05 784.27,407.22 784.57,407.40 784.86,407.57 785.15,407.75 785.45,407.93 785.74,408.12 786.03,408.30 786.32,408.49 786.61,408.68 786.89,408.87 787.18,409.06 787.46,409.26 787.75,409.45 788.03,409.65 788.31,409.85 788.59,410.05 788.87,410.25 789.15,410.46 789.42,410.67 789.70,410.87 789.97,411.09 790.25,411.30 790.52,411.51 790.79,411.73 791.06,411.95 791.32,412.17 791.59,412.39 791.85,412.61 792.12,412.83 792.38,413.06 792.64,413.29 792.90,413.52 793.16,413.75 793.41,413.98 793.67,414.22 793.92,414.46 794.17,414.70 794.42,414.94 794.67,415.18 794.92,415.42 795.17,415.67 795.41,415.91 795.66,416.16 795.90,416.41 796.14,416.67 796.38,416.92 796.61,417.17 796.85,417.43 797.08,417.69 797.32,417.95 797.55,418.21 797.78,418.48 798.00,418.74 798.23,419.01 798.45,419.28 798.68,419.55 798.90,419.82 799.12,420.09 799.34,420.37 799.55,420.64 799.77,420.92 799.98,421.20 800.19,421.48 800.40,421.76 800.61,422.05 800.82,422.33 801.02,422.62 801.22,422.91 801.42,423.20 801.62,423.49 801.82,423.78 802.02,424.08 802.21,424.37 802.40,424.67 802.59,424.97 802.78,425.27 802.97,425.57 803.15,425.87 803.34,426.18 803.52,426.48 803.70,426.79 803.87,427.10 804.05,427.41 804.22,427.72 804.40,428.03 804.57,428.35 804.73,428.66 804.90,428.98 805.06,429.30 805.23,429.62 805.39,429.94 805.54,430.26 805.70,430.59 805.86,430.91 806.01,431.24 806.16,431.56 806.31,431.89 806.45,432.22 806.60,432.55 806.74,432.89 806.88,433.22 807.02,433.55 807.16,433.89 807.29,434.23 807.42,434.57 807.56,434.91 807.68,435.25 807.81,435.59 807.93,435.93 808.06,436.28 808.18,436.62 808.29,436.97 808.41,437.32 808.52,437.66 808.64,438.01 808.75,438.36 808.85,438.72 808.96,439.07 809.06,439.42 809.16,439.78 809.26,440.14 809.36,440.49 809.45,440.85 809.55,441.21 809.64,441.57 809.73,441.93 809.81,442.30 809.90,442.66 809.98,443.02 810.06,443.39 810.13,443.75 810.21,444.12 810.28,444.49 810.35,444.86 810.42,445.23 810.49,445.60 810.55,445.97 810.61,446.34 810.67,446.72 810.73,447.09 810.78,447.47 810.84,447.84 810.89,448.22 810.93,448.60 810.98,448.98 811.02,449.36 811.06,449.74 811.10,450.12 811.14,450.50 811.17,450.88 811.21,451.27 811.24,451.65 811.26,452.03 811.29,452.42 811.31,452.81 811.33,453.19 811.35,453.58 811.36,453.97 811.38,454.36 811.39,454.75 811.40,455.14 811.40,455.53 811.41,455.92 811.41,456.31 811.41,456.70 811.40,457.10 811.40,457.49 811.39,457.88 811.38,458.28 811.37,458.67 811.35,459.07 811.34,459.47 811.32,459.86 811.29,460.26 811.27,460.66 811.24,461.06 811.21,461.46 811.18,461.86 811.15,462.26 811.11,462.66 811.07,463.06 811.03,463.46 810.98,463.86 810.94,464.26 810.89,464.66 810.84,465.07 810.78,465.47 810.73,465.87 810.67,466.28 810.61,466.68 810.55,467.08 810.48,467.49 810.41,467.89 810.34,468.30 810.27,468.70 810.19,469.11 810.11,469.52 810.03,469.92 809.95,470.33 809.86,470.74 809.78,471.14 809.69,471.55 809.59,471.96 809.50,472.36 809.40,472.77 809.30,473.18 809.20,473.59 809.09,474.00 808.99,474.40 808.88,474.81 808.76,475.22 808.65,475.63 808.53,476.04 808.41,476.45 808.29,476.85 808.16,477.26 808.04,477.67 807.91,478.08 807.77,478.49 807.64,478.90 807.50,479.31 807.36,479.71 807.22,480.12 807.08,480.53 806.93,480.94 806.78,481.35 806.63,481.76 806.47,482.16 806.32,482.57 806.16,482.98 806.00,483.39 805.83,483.79 805.67,484.20 805.50,484.61 805.32,485.02 805.15,485.42 804.97,485.83 804.79,486.24 804.61,486.64 804.43,487.05 804.24,487.45 804.05,487.86 803.86,488.26 803.67,488.67 803.47,489.07 803.28,489.48 803.07,489.88 802.87,490.29 802.67,490.69 802.46,491.09 802.25,491.49 802.03,491.90 801.82,492.30 801.60,492.70 801.38,493.10 801.16,493.50 800.93,493.90 800.70,494.30 800.47,494.70 800.24,495.10 800.01,495.50 799.77,495.90 799.53,496.29 799.29,496.69 799.04,497.09 798.80,497.48 798.55,497.88 798.30,498.27 798.04,498.67 797.79,499.06 797.53,499.45 797.27,499.84 797.00,500.24 796.74,500.63 796.47,501.02 796.20,501.41 795.92,501.80 795.65,502.19 795.37,502.57 795.09,502.96 794.81,503.35 794.53,503.73 794.24,504.12 793.95,504.50 793.66,504.89 793.36,505.27 793.07,505.65 792.77,506.03 792.47,506.41 792.17,506.79 791.86,507.17 791.55,507.55 791.24,507.93 790.93,508.30 790.62,508.68 790.30,509.05 789.98,509.43 789.66,509.80 789.34,510.17 789.01,510.54 788.68,510.91 788.35,511.28 788.02,511.65 787.69,512.02 787.35,512.39 787.01,512.75 786.67,513.12 786.33,513.48 785.98,513.84 785.63,514.20 785.28,514.56 784.93,514.92 784.58,515.28 784.22,515.64 783.86,516.00 783.50,516.35 783.14,516.71 782.77,517.06 782.40,517.41 782.04,517.76 781.66,518.11 781.29,518.46 780.91,518.81 780.54,519.16 780.16,519.50 779.78,519.84 779.39,520.19 779.01,520.53 778.62,520.87 778.23,521.21 777.84,521.55 777.44,521.88 777.04,522.22 776.65,522.55 776.25,522.89 775.84,523.22 775.44,523.55 775.03,523.88 774.63,524.21 774.22,524.54 773.80,524.86 773.39,525.19 772.97,525.51 772.55,525.83 772.13,526.15 771.71,526.47 771.29,526.79 770.86,527.10 770.44,527.42 770.01,527.73 769.57,528.04 769.14,528.35 768.71,528.66 768.27,528.97 767.83,529.28 767.39,529.58 766.95,529.88 766.50,530.19 766.06,530.49 765.61,530.79 765.16,531.08 764.71,531.38 764.25,531.67 763.80,531.97 763.34,532.26 762.88,532.55 762.42,532.84 761.96,533.12 761.50,533.41 761.03,533.69 760.56,533.98 760.10,534.26 759.62,534.53 759.15,534.81 758.68,535.09 758.20,535.36 757.73,535.63 757.25,535.91 756.77,536.18 756.28,536.44 755.80,536.71 755.31,536.97 754.83,537.24 754.34,537.50 753.85,537.76 753.36,538.01 752.86,538.27 752.37,538.52 751.87,538.78 751.37,539.03 750.87,539.28 750.37,539.52 749.87,539.77 749.37,540.01 748.86,540.26 748.36,540.50 747.85,540.74 747.34,540.97 746.83,541.21 746.31,541.44 745.80,541.67 745.29,541.90 744.77,542.13 744.25,542.36 743.73,542.58 743.21,542.80 742.69,543.02 742.17,543.24 741.64,543.46 741.11,543.67 740.59,543.89 740.06,544.10 739.53,544.31 739.00,544.52 738.47,544.72 737.93,544.93 737.40,545.13 736.86,545.33 736.32,545.53 735.79,545.72 735.25,545.92 734.71,546.11 734.16,546.30 733.62,546.49 733.08,546.67 732.53,546.86 731.98,547.04 731.44,547.22 730.89,547.40 730.34,547.58 729.79,547.75 729.24,547.93 728.68,548.10 728.13,548.27 727.57,548.43 727.02,548.60 726.46,548.76 725.90,548.92 725.35,549.08 724.79,549.24 724.22,549.39 723.66,549.55 723.10,549.70 722.54,549.84 721.97,549.99 721.41,550.14 720.84,550.28 720.27,550.42 719.71,550.56 719.14,550.69 718.57,550.83 718.00,550.96 717.43,551.09 716.86,551.22 716.28,551.35 715.71,551.47 715.14,551.59 714.56,551.71 713.99,551.83 713.41,551.95 712.83,552.06 712.26,552.17 711.68,552.28 711.10,552.39 710.52,552.49 709.94,552.59 709.36,552.70 708.78,552.79 708.19,552.89 707.61,552.99 707.03,553.08 706.45,553.17 705.86,553.26 705.28,553.34 704.69,553.43 704.11,553.51 703.52,553.59 702.93,553.66 702.35,553.74 701.76,553.81 701.17,553.88 700.58,553.95 699.99,554.02 699.40,554.08 698.81,554.15 698.22,554.21 697.63,554.26 697.04,554.32 696.45,554.37 695.86,554.42 695.27,554.47 694.68,554.52 694.08,554.56 693.49,554.61 692.90,554.65 692.31,554.69 691.71,554.72 691.12,554.76 690.53,554.79 689.93,554.82 689.34,554.84 688.74,554.87 688.15,554.89 687.56,554.91 686.96,554.93 686.37,554.95 685.77,554.96 685.18,554.97 684.58,554.98 683.99,554.99 683.39,555.00 682.80,555.00 682.20,555.00 681.61,555.00 681.01,555.00 680.42,554.99 679.82,554.98 679.23,554.97 678.63,554.96 678.04,554.94 677.44,554.93 676.85,554.91 676.26,554.89 675.66,554.86 675.07,554.84 674.47,554.81 673.88,554.78 673.29,554.75 672.69,554.71 672.10,554.68 671.51,554.64 670.91,554.60 670.32,554.55 669.73,554.51 669.14,554.46 668.55,554.41 667.96,554.36 667.36,554.31 666.77,554.25 666.18,554.19 665.59,554.13 665.00,554.07 664.41,554.00 663.83,553.94 663.24,553.87 662.65,553.79 662.06,553.72 661.48,553.64 660.89,553.57 660.30,553.49 659.72,553.40 659.13,553.32 658.55,553.23 657.96,553.14 657.38,553.05 656.80,552.96 656.21,552.86 655.63,552.76 655.05,552.67 654.47,552.56 653.89,552.46 653.31,552.35 652.73,552.24 652.16,552.13 651.58,552.02 651.00,551.91 650.43,551.79 649.85,551.67 649.28,551.55 648.70,551.43 648.13,551.30 647.56,551.17 646.98,551.04 646.41,550.91 645.84,550.78 645.28,550.64 644.71,550.50 644.14,550.36 643.57,550.22 643.01,550.08 642.44,549.93 641.88,549.78 641.32,549.63 640.75,549.48 640.19,549.32 639.63,549.17 639.07,549.01 638.51,548.85 637.96,548.68 637.40,548.52 636.85,548.35 636.29,548.18 635.74,548.01 635.19,547.84 634.63,547.66 634.08,547.48 633.54,547.31 632.99,547.12 632.44,546.94 631.89,546.76 631.35,546.57 630.81,546.38 630.26,546.19 629.72,545.99 629.18,545.80 628.64,545.60 628.11,545.40 627.57,545.20 627.03,545.00 626.50,544.79 625.97,544.59 625.44,544.38 624.91,544.17 624.38,543.95 623.85,543.74 623.32,543.52 622.80,543.30 622.27,543.08 621.75,542.86 621.23,542.63 620.71,542.41 620.19,542.18 619.68,541.95 619.16,541.72 618.65,541.48 618.13,541.25 617.62,541.01 617.11,540.77 616.60,540.53 616.10,540.29 615.59,540.04 615.09,539.80 614.58,539.55 614.08,539.30 613.58,539.05 613.09,538.79 612.59,538.54 612.09,538.28 611.60,538.02 611.11,537.76 610.62,537.50 610.13,537.23 609.64,536.97 609.16,536.70 608.68,536.43 608.19,536.16 607.71,535.88 607.23,535.61 606.76,535.33 606.28,535.05 605.81,534.77 605.34,534.49 604.86,534.21 604.40,533.92 603.93,533.64 603.46,533.35 603.00,533.06 602.54,532.77 602.08,532.47 601.62,532.18 601.16,531.88 600.71,531.58 600.26,531.28 599.81,530.98 599.36,530.68 598.91,530.38 598.46,530.07 598.02,529.76 597.58,529.45 597.14,529.14 596.70,528.83 596.26,528.52 595.83,528.20 595.40,527.88 594.97,527.57 594.54,527.25 594.11,526.93 593.69,526.60 593.26,526.28 592.84,525.95 592.43,525.63 592.01,525.30 591.59,524.97 591.18,524.64 590.77,524.30 590.36,523.97 589.95,523.63 589.55,523.30 589.15,522.96 588.75,522.62 588.35,522.28 587.95,521.94 587.56,521.59 587.16,521.25 586.77,520.90 586.39,520.55 586.00,520.20 585.62,519.85 585.23,519.50 584.85,519.15 584.48,518.80 584.10,518.44 583.73,518.08 583.36,517.73 582.99,517.37 582.62,517.01 582.26,516.64 581.89,516.28 581.53,515.92 581.18,515.55 580.82,515.19 580.47,514.82 580.11,514.45 579.76,514.08 579.42,513.71 579.07,513.34 578.73,512.97 578.39,512.59 578.05,512.22 577.72,511.84 577.38,511.46 577.05,511.08 576.72,510.71 576.40,510.33 576.07,509.94 575.75,509.56 575.43,509.18 575.11,508.79 574.80,508.41 574.48,508.02 574.17,507.63 573.87,507.25 573.56,506.86 573.26,506.47 572.96,506.07 572.66,505.68 572.36,505.29 572.07,504.90 571.78,504.50 571.49,504.10 571.20,503.71 570.92,503.31 570.63,502.91 570.35,502.51 570.08,502.11 569.80,501.71 569.53,501.31 569.26,500.91 568.99,500.51 568.73,500.10 568.47,499.70 568.20,499.29 567.95,498.89 567.69,498.48 567.44,498.07 567.19,497.66 566.94,497.26 566.70,496.85 566.45,496.44 566.21,496.03 565.97,495.61 565.74,495.20 565.51,494.79 565.28,494.38 565.05,493.96 564.82,493.55 564.60,493.13 564.38,492.72 564.16,492.30 563.94,491.88 563.73,491.47 563.52,491.05 563.31,490.63 563.11,490.21 562.91,489.79 562.70,489.37 562.51,488.95 562.31,488.53 562.12,488.11 561.93,487.69 561.74,487.27 561.56,486.84 561.37,486.42 561.19,486.00 561.02,485.57 560.84,485.15 560.67,484.73 560.50,484.30 560.33,483.88 560.17,483.45 560.01,483.03 559.85,482.60 559.69,482.17 559.53,481.75 559.38,481.32 559.23,480.89 559.09,480.47 558.94,480.04 558.80,479.61 558.66,479.18 558.53,478.76 558.39,478.33 558.26,477.90 558.13,477.47 558.01,477.04 557.88,476.61 557.76,476.18 557.64,475.76 557.53,475.33 557.42,474.90 557.30,474.47 557.20,474.04 557.09,473.61 556.99,473.18 556.89,472.75 556.79,472.32 556.70,471.89 556.60,471.46 556.51,471.03 556.43,470.60 556.34,470.17 556.26,469.74 556.18,469.31 556.10,468.88 556.03,468.46 555.96,468.03 555.89,467.60 555.82,467.17 555.76,466.74 555.70,466.31 555.64,465.88 555.58,465.45 555.53,465.03 555.48,464.60 555.43,464.17 555.38,463.74 555.34,463.32 555.30,462.89 555.26,462.46 555.23,462.03 555.19,461.61 555.16,461.18 555.14,460.76 555.11,460.33 555.09,459.91 555.07,459.48 555.05,459.06 555.04,458.63 555.02,458.21 555.01,457.78 555.01,457.36 555.00,456.94 555.00,456.52 555.00,456.09 555.00,455.67 555.01,455.25 555.02,454.83 555.03,454.41 555.04,453.99 555.06,453.57 555.07,453.15 555.09,452.74 555.12,452.32 555.14,451.90 555.17,451.48 555.20,451.07 555.24,450.65 555.27,450.24 555.31,449.82 555.35,449.41 555.39,449.00 555.44,448.58 555.49,448.17 555.54,447.76 555.59,447.35 555.65,446.94 555.71,446.53 555.77,446.12 555.83,445.71 555.89,445.31 555.96,444.90 556.03,444.49 556.11,444.09 556.18,443.68 556.26,443.28 556.34,442.88 556.42,442.47 556.51,442.07 556.59,441.67 556.68,441.27 556.78,440.87 556.87,440.48 556.97,440.08 557.07,439.68 557.17,439.29 557.27,438.89 557.38,438.50 557.49,438.10 557.60,437.71 557.71,437.32 557.83,436.93 557.95,436.54 558.07,436.15 558.19,435.76 558.32,435.38 558.45,434.99 558.58,434.61 558.71,434.22 558.84,433.84 558.98,433.46 559.12,433.08 559.26,432.70 559.41,432.32 559.55,431.94 559.70,431.57 559.85,431.19 560.00,430.82 560.16,430.44 560.32,430.07 560.48,429.70 560.64,429.33 560.80,428.96 560.97,428.59 561.14,428.23 561.31,427.86 561.48,427.50 561.66,427.13 561.83,426.77 562.01,426.41 562.20,426.05 562.38,425.69 562.57,425.34 562.75,424.98 562.94,424.63 563.14,424.27 563.33,423.92 563.53,423.57 563.73,423.22 563.93,422.87 564.13,422.53 564.34,422.18 564.54,421.83 564.75,421.49 564.96,421.15 565.18,420.81 565.39,420.47 565.61,420.13 565.83,419.80 566.05,419.46 566.28,419.13 566.50,418.79 566.73,418.46 566.96,418.13 567.19,417.81 567.42,417.48 567.66,417.15 567.90,416.83 568.14,416.51 568.38,416.19 568.62,415.87 568.87,415.55 569.11,415.23 569.36,414.92 569.61,414.60 569.87,414.29 570.12,413.98 570.38,413.67 570.64,413.36 570.90,413.06 571.16,412.75 571.42,412.45 571.69,412.15 571.96,411.85 572.23,411.55 572.50,411.25 572.77,410.96 573.05,410.67 573.32,410.37 573.60,410.08 573.88,409.79 574.16,409.51 574.45,409.22 574.73,408.94 575.02,408.66 575.31,408.37 575.60,408.10 575.89,407.82 576.18,407.54 576.48,407.27 576.78,407.00 577.07,406.73 577.37,406.46 577.68,406.19 577.98,405.92 578.28,405.66 578.59,405.40 578.90,405.14 579.21,404.88 579.52,404.62 579.83,404.37 580.15,404.11 580.46,403.86 580.78,403.61 581.10,403.36 581.42,403.12 581.74,402.87 582.07,402.63 582.39,402.39 582.72,402.15 583.05,401.91 583.38,401.68 583.71,401.44 584.04,401.21 584.37,400.98 584.71,400.75 585.04,400.53 585.38,400.30 585.72,400.08 586.06,399.86 586.40,399.64 586.74,399.42 587.09,399.20 587.43,398.99 587.78,398.78 588.13,398.57 588.48,398.36 588.83,398.16 589.18,397.95 589.53,397.75 589.89,397.55 590.24,397.35 590.60,397.15 590.96,396.96 591.32,396.77 591.68,396.58 592.04,396.39 592.40,396.20 592.76,396.01 593.13,395.83 593.49,395.65 593.86,395.47 594.23,395.29 594.60,395.12 594.97,394.94 595.34,394.77 595.71,394.60 596.08,394.44 596.46,394.27 596.83,394.11 597.21,393.95 597.59,393.79 597.96,393.63 598.34,393.47 598.72,393.32 599.10,393.17 599.48,393.02 599.87,392.87 600.25,392.73 600.63,392.58 601.02,392.44 601.41,392.30 601.79,392.16 602.18,392.03 602.57,391.89 602.96,391.76 603.35,391.63 603.74,391.51 604.13,391.38 604.52,391.26 604.92,391.14 605.31,391.02 605.71,390.90 606.10,390.78 606.50,390.67 606.89,390.56 607.29,390.45 607.69,390.34 608.09,390.24 608.49,390.14 608.89,390.04 609.29,389.94 609.69,389.84 610.09,389.75 610.49,389.65 610.89,389.56 611.30,389.47 611.70,389.39 612.11,389.30 612.51,389.22 612.92,389.14 613.32,389.06 613.73,388.99 614.13,388.91 614.54,388.84 614.95,388.77 615.36,388.70 615.77,388.64 616.17,388.57 616.58,388.51 616.99,388.45 617.40,388.39 617.81,388.34 618.22,388.29 618.63,388.23 619.05,388.19 619.46,388.14 619.87,388.09 620.28,388.05 620.69,388.01 621.11,387.97 621.52,387.93 621.93,387.90 622.34,387.87 622.76,387.84 623.17,387.81 623.58,387.78 624.00,387.76 624.41,387.74 624.83,387.72 625.24,387.70 625.65,387.68 626.07,387.67 626.48,387.66 626.90,387.65 627.31,387.64 627.73,387.63 628.14,387.63 628.56,387.63 628.97,387.63 629.39,387.63 629.80,387.63 630.22,387.64 630.63,387.65 631.04,387.66 631.46,387.67 631.87,387.69 632.29,387.71 632.70,387.72 633.12,387.75 633.53,387.77 633.94,387.79 634.36,387.82 634.77,387.85 635.18,387.88 635.60,387.91 636.01,387.95 636.42,387.99 636.83,388.03 637.25,388.07 637.66,388.11 638.07,388.16 638.48,388.20 638.89,388.25 639.30,388.30 639.71,388.36 640.12,388.41 640.53,388.47 640.94,388.53 641.35,388.59 641.76,388.65 642.17,388.72 642.58,388.79 642.98,388.86 643.39,388.93 643.80,389.00 644.20,389.08 644.61,389.15 645.02,389.23 645.42,389.31 645.82,389.40 646.23,389.48 646.63,389.57 647.03,389.66 647.44,389.75 647.84,389.84 648.24,389.93 648.64,390.03 649.04,390.13 649.44,390.23 649.84,390.33 650.23,390.44 650.63,390.54 651.03,390.65 651.43,390.76 651.82,390.87 652.22,390.99 652.61,391.10 653.00,391.22 653.40,391.34 653.79,391.46 654.18,391.58 654.57,391.71 654.96,391.83 655.35,391.96 655.74,392.09 656.12,392.23 656.51,392.36 656.90,392.50 657.28,392.63 657.66,392.77 658.05,392.91 658.43,393.06 658.81,393.20 659.19,393.35 659.57,393.50 659.95,393.65 660.33,393.80 660.71,393.95 661.08,394.11 661.46,394.27 661.83,394.43 662.20,394.59 662.58,394.75 662.95,394.91 663.32,395.08 663.69,395.25 664.05,395.42 664.42,395.59 664.79,395.76 665.15,395.94 665.52,396.11 665.88,396.29 666.24,396.47 666.60,396.65 666.96,396.83 667.32,397.02 667.68,397.20 668.03,397.39 668.39,397.58 668.74,397.77 669.10,397.97 669.45,398.16 669.80,398.36 670.15,398.55 670.50,398.75 670.84,398.95 671.19,399.16 671.53,399.36 671.88,399.57 672.22,399.77 672.56,399.98 672.90,400.19 673.24,400.40 673.57,400.62 673.91,400.83 674.24,401.05 674.58,401.26 674.91,401.48 675.24,401.70 675.57,401.93 675.90,402.15 676.22,402.38 676.55,402.60 676.87,402.83 677.19,403.06 677.52,403.29 677.83,403.52 678.15,403.76 678.47,403.99 678.78,404.23 679.10,404.47 679.41,404.71 679.72,404.95 680.03,405.19 680.34,405.43 680.65,405.68 680.95,405.92 681.25,406.17 681.56,406.42 681.86,406.67 682.16,406.92 682.45,407.17 682.75,407.43 683.04,407.68 683.34,407.94 683.63,408.20 683.92,408.46 684.21,408.72 684.49,408.98 684.78,409.24 685.06,409.50 685.34,409.77 685.62,410.04 685.90,410.30 686.18,410.57 686.45,410.84 686.73,411.11 687.00,411.39 687.27,411.66 687.54,411.93 687.81,412.21 688.07,412.49 688.34,412.76 688.60,413.04 688.86,413.32 689.12,413.60 689.38,413.89 689.63,414.17 689.88,414.45 690.14,414.74 690.39,415.02 690.64,415.31 690.88,415.60 691.13,415.89 691.37,416.18 691.61,416.47 691.85,416.76 692.09,417.06 692.33,417.35 692.56,417.65 692.79,417.94 693.02,418.24 693.25,418.54 693.48,418.84 693.71,419.14 693.93,419.44 694.15,419.74 694.37,420.04 694.59,420.34 694.81,420.65 695.02,420.95 695.23,421.26 695.44,421.57 695.65,421.87 695.86,422.18 696.07,422.49 696.27,422.80 696.47,423.11 696.67,423.42 696.87,423.73 697.06,424.05 697.26,424.36 697.45,424.67 697.64,424.99 697.83,425.30 698.02,425.62 698.20,425.94 698.38,426.25 698.56,426.57 698.74,426.89 698.92,427.21 699.09,427.53 699.27,427.85 699.44,428.17 699.61,428.49 699.77,428.82 699.94,429.14 700.10,429.46 700.26,429.79 700.42,430.11 700.58,430.44 700.74,430.76 700.89,431.09 701.04,431.41 701.19,431.74 701.34,432.07 701.48,432.40 701.63,432.73 701.77,433.05 701.91,433.38 702.05,433.71 702.18,434.04 702.32,434.37 702.45,434.70 702.58,435.03 702.71,435.37 702.83,435.70 702.95,436.03 703.08,436.36 703.20,436.70 703.31,437.03 703.43,437.36 703.54,437.70 703.65,438.03 703.76,438.36 703.87,438.70 703.98,439.03 704.08,439.37 704.18,439.70 704.28,440.04 704.38,440.37 704.48,440.71 704.57,441.05 704.66,441.38 704.75,441.72 704.84,442.05 704.92,442.39 705.01,442.73 705.09,443.06 705.17,443.40 705.24,443.74 705.32,444.07 705.39,444.41 705.46,444.75 705.53,445.08 705.60,445.42 705.66,445.76 705.73,446.09 705.79,446.43 705.85,446.77 705.90,447.11 705.96,447.44 706.01,447.78 706.06,448.12 706.11,448.45 706.16,448.79 706.20,449.13 706.25,449.46 706.29,449.80 706.32,450.13 706.36,450.47 706.40,450.81 706.43,451.14 706.46,451.48 706.49,451.81 706.51,452.15 706.54,452.48 706.56,452.82 706.58,453.15 706.60,453.49 706.62,453.82 706.63,454.15 706.64,454.49 706.65,454.82 706.66,455.15 706.67,455.49 706.67,455.82 706.67,456.15 706.67,456.48 706.67,456.81 706.67,457.14 706.66,457.47 706.66,457.80 706.65,458.13 706.63,458.46 706.62,458.79 706.61,459.12 706.59,459.45 706.57,459.78 706.55,460.10 706.52,460.43 706.50,460.76 706.47,461.08 706.44,461.41 706.41,461.73 706.38,462.06 706.34,462.38 706.30,462.70 706.26,463.03 706.22,463.35 706.18,463.67 706.14,463.99 706.09,464.31 706.04,464.63 705.99,464.95 705.94,465.27 705.88,465.58 705.83,465.90 705.77,466.22 705.71,466.53 705.64,466.85 705.58,467.16 705.51,467.48 705.45,467.79 705.38,468.10 705.30,468.41 705.23,468.72 705.16,469.03 705.08,469.34 705.00,469.65 704.92,469.96 704.83,470.27 704.75,470.57 704.66,470.88 704.58,471.18 704.48,471.49 704.39,471.79 704.30,472.09 704.20,472.39 704.11,472.69 704.01,472.99 703.90,473.29 703.80,473.59 703.70,473.88 703.59,474.18 703.48,474.47 703.37,474.77 703.26,475.06 703.15,475.35 703.03,475.64 702.91,475.93 702.80,476.22 702.67,476.51 702.55,476.80 702.43,477.08 702.30,477.37 702.17,477.65 702.05,477.94 701.91,478.22 701.78,478.50 701.65,478.78 701.51,479.06 701.37,479.33 701.23,479.61 701.09,479.89 700.95,480.16 700.81,480.43 700.66,480.70 700.51,480.98 700.36,481.24 700.21,481.51 700.06,481.78 699.91,482.05 699.75,482.31 699.59,482.58 699.43,482.84 699.27,483.10 699.11,483.36 698.95,483.62 698.78,483.88 698.62,484.13 698.45,484.39 698.28,484.64 698.11,484.89 697.93,485.14 697.76,485.39 697.58,485.64 697.41,485.89 697.23,486.14 697.05,486.38 696.87,486.62 696.68,486.87 696.50,487.11 696.31,487.35 696.12,487.58 695.94,487.82 695.75,488.06 695.55,488.29 695.36,488.52 695.17,488.75 694.97,488.98 694.77,489.21 694.57,489.44 694.37,489.66 694.17,489.89 693.97,490.11 693.76,490.33 693.56,490.55 693.35,490.77 693.14,490.98 692.93,491.20 692.72,491.41 692.51,491.63 692.30,491.84 692.08,492.04 691.87,492.25 691.65,492.46 691.43,492.66 691.21,492.87 690.99,493.07 690.77,493.27 690.55,493.46 690.32,493.66 690.10,493.86 689.87,494.05 689.64,494.24 689.41,494.43 689.18,494.62 688.95,494.81 688.72,494.99 688.49,495.18 688.25,495.36 688.02,495.54 687.78,495.72 687.54,495.90 687.30,496.07 687.06,496.25 686.82,496.42 686.58,496.59 686.34,496.76 686.09,496.92 685.85,497.09 685.60,497.25 685.35,497.42 685.11,497.58 684.86,497.74 684.61,497.89 684.36,498.05 684.10,498.20 683.85,498.35 683.60,498.50 683.34,498.65 683.09,498.80 682.83,498.94 682.57,499.09 682.32,499.23 682.06,499.37 681.80,499.50 681.54,499.64 681.27,499.77 681.01,499.91 680.75,500.04 680.49,500.17 680.22,500.29 679.96,500.42 679.69,500.54 679.42,500.66 679.15,500.78 678.89,500.90 678.62,501.02 678.35,501.13 678.08,501.24 677.81,501.35 677.53,501.46 677.26,501.57 676.99,501.68 676.72,501.78 676.44,501.88 676.17,501.98 675.89,502.08 675.62,502.17 675.34,502.27 675.06,502.36 674.78,502.45 674.51,502.54 674.23,502.62 673.95,502.71 673.67,502.79 673.39,502.87 673.11,502.95 672.83,503.03 672.54,503.10 672.26,503.17 671.98,503.24 671.70,503.31 671.41,503.38 671.13,503.45 670.85,503.51 670.56,503.57 670.28,503.63 669.99,503.69 669.70,503.74 669.42,503.80 669.13,503.85 668.85,503.90 668.56,503.95 668.27,503.99 667.98,504.03 667.70,504.08 667.41,504.12 667.12,504.15 666.83,504.19 666.54,504.22 666.26,504.26 665.97,504.29 665.68,504.32 665.39,504.34 665.10,504.37 664.81,504.39 664.52,504.41 664.23,504.43 663.94,504.44 663.65,504.46 663.36,504.47 663.07,504.48 662.78,504.49 662.49,504.49 662.20,504.50 661.91,504.50 661.62,504.50 661.33,504.50 661.04,504.50 660.75,504.49 660.46,504.48 660.17,504.47 659.88,504.46 659.59,504.45 659.30,504.43 659.01,504.42 658.72,504.40 658.43,504.38 658.14,504.35 657.85,504.33 657.56,504.30 657.27,504.27 656.98,504.24 656.69,504.21 656.40,504.17 656.12,504.13 655.83,504.09 655.54,504.05 655.25,504.01 654.96,503.96 654.68,503.92 654.39,503.87 654.10,503.82 653.82,503.76 653.53,503.71 653.25,503.65 652.96,503.59 652.68,503.53 652.39,503.47 652.11,503.40 651.83,503.34 651.54,503.27 651.26,503.20 650.98,503.12 650.70,503.05 650.42,502.97 650.13,502.89 649.85,502.81 649.57,502.73 649.29,502.64 649.02,502.56 648.74,502.47 648.46,502.38 648.18,502.29 647.91,502.19 647.63,502.09 647.35,502.00 647.08,501.90 646.80,501.79 646.53,501.69 646.26,501.58 645.99,501.48 645.71,501.37 645.44,501.25 645.17,501.14 644.90,501.02 644.63,500.91 644.37,500.79 644.10,500.66 643.83,500.54 643.56,500.42 643.30,500.29 643.04,500.16 642.77,500.03 642.51,499.89 642.25,499.76 641.98,499.62 641.72,499.48 641.46,499.34 641.21,499.20 640.95,499.06 640.69,498.91 640.43,498.76 640.18,498.61 639.93,498.46 639.67,498.31 639.42,498.15 639.17,497.99 638.92,497.84 638.67,497.67 638.42,497.51 638.17,497.35 637.92,497.18 637.68,497.01 637.43,496.84 637.19,496.67 636.95,496.50 636.71,496.32 636.47,496.14 636.23,495.96 635.99,495.78 635.75,495.60 635.51,495.42 635.28,495.23 635.05,495.04 634.81,494.85 634.58,494.66 634.35,494.47 634.12,494.27 633.89,494.07 633.67,493.88 633.44,493.67 633.22,493.47 632.99,493.27 632.77,493.06 632.55,492.86 632.33,492.65 632.11,492.44 631.90,492.22 631.68,492.01 631.47,491.79 631.25,491.58 631.04,491.36 630.83,491.14 630.62,490.91 630.41,490.69 630.21,490.46 630.00,490.24 629.80,490.01 629.60,489.78 629.40,489.54 629.20,489.31 629.00,489.07 628.80,488.84 628.61,488.60 628.41,488.36 628.22,488.12 628.03,487.87 627.84,487.63 627.65,487.38 627.47,487.13 627.28,486.88 627.10,486.63 626.92,486.38 626.74,486.12 626.56,485.87 626.38,485.61 626.21,485.35 626.03,485.09 625.86,484.83 625.69,484.57 625.52,484.30 625.35,484.04 625.19,483.77 625.02,483.50 624.86,483.23 624.70,482.96 624.54,482.68 624.38,482.41 624.22,482.13 624.07,481.85 623.92,481.57 623.76,481.29 623.62,481.01 623.47,480.73 623.32,480.44 623.18,480.16 623.03,479.87 622.89,479.58 622.75,479.29 622.62,479.00 622.48,478.70 622.35,478.41 622.22,478.11 622.09,477.82 621.96,477.52 621.83,477.22 621.71,476.92 621.58,476.62 621.46,476.31 621.34,476.01 621.22,475.70 621.11,475.40 620.99,475.09 620.88,474.78 620.77,474.47 620.66,474.16 620.56,473.84 620.45,473.53 620.35,473.21 620.25,472.90 620.15,472.58 620.05,472.26 619.96,471.94 619.87,471.62 619.78,471.30 619.69,470.97 619.60,470.65 619.51,470.32 619.43,470.00 619.35,469.67 619.27,469.34 619.19,469.01 619.12,468.68 619.05,468.35 618.97,468.02 618.90,467.68 618.84,467.35 618.77,467.01 618.71,466.67 618.65,466.34 618.59,466.00 618.53,465.66 618.48,465.32 618.42,464.97 618.37,464.63 618.32,464.29 618.28,463.94 618.23,463.60 618.19,463.25 618.15,462.91 618.11,462.56 618.08,462.21 618.04,461.86 618.01,461.51 617.98,461.16 617.95,460.81 617.93,460.45 617.90,460.10 617.88,459.74 617.86,459.39 617.84,459.03 617.83,458.68 617.82,458.32 617.81,457.96 617.80,457.60 617.79,457.24 617.79,456.88 617.78,456.52 617.78,456.16 617.79,455.79 617.79,455.43 617.80,455.07 617.81,454.70 617.82,454.34 617.83,453.97 617.85,453.61 617.87,453.24 617.89,452.87 617.91,452.50 617.93,452.13 617.96,451.77 617.99,451.40 618.02,451.03 618.05,450.65 618.09,450.28 618.13,449.91 618.17,449.54 618.21,449.17 618.25,448.79 618.30,448.42 618.35,448.04 618.40,447.67 618.45,447.29 618.51,446.92 618.57,446.54 618.63,446.17 618.69,445.79 618.76,445.41 618.82,445.04 618.89,444.66 618.96,444.28 619.04,443.90 619.11,443.52 619.19,443.14 619.27,442.76 619.36,442.38 619.44,442.00 619.53,441.62 619.62,441.24 619.71,440.86 619.81,440.48 619.90,440.10 620.00,439.72 620.11,439.34 620.21,438.96 620.32,438.57 620.42,438.19 620.53,437.81 620.65,437.43 620.76,437.04 620.88,436.66 621.00,436.28 621.12,435.90 621.25,435.51 621.38,435.13 621.50,434.75 621.64,434.36 621.77,433.98 621.91,433.60 622.04,433.21 622.19,432.83 622.33,432.45 622.47,432.06 622.62,431.68 622.77,431.30 622.92,430.92 623.08,430.53 623.24,430.15 623.40,429.77 623.56,429.38 623.72,429.00 623.89,428.62 624.06,428.24 624.23,427.85 624.40,427.47 624.58,427.09 624.75,426.71 624.93,426.33 625.12,425.94 625.30,425.56 625.49,425.18 625.68,424.80 625.87,424.42 626.06,424.04 626.26,423.66 626.46,423.28 626.66,422.90 626.86,422.52 627.07,422.14 627.27,421.76 627.48,421.39 627.70,421.01 627.91,420.63 628.13,420.25 628.35,419.88 628.57,419.50 628.79,419.12 629.02,418.75 629.24,418.37 629.47,418.00 629.71,417.62 629.94,417.25 630.18,416.88 630.42,416.50 630.66,416.13 630.90,415.76 631.15,415.39 631.40,415.02 631.65,414.65 631.90,414.28 632.16,413.91 632.41,413.54 632.67,413.17 632.93,412.80 633.20,412.44 633.47,412.07 633.73,411.71 634.00,411.34 634.28,410.98 634.55,410.61 634.83,410.25 635.11,409.89 635.39,409.52 635.67,409.16 635.96,408.80 636.25,408.44 636.54,408.08 636.83,407.73 637.12,407.37 637.42,407.01 637.72,406.66 638.02,406.30 638.32,405.95 638.63,405.59 638.94,405.24 639.25,404.89 639.56,404.54 639.87,404.19 640.19,403.84 640.50,403.49 640.82,403.14 641.15,402.79 641.47,402.45 641.80,402.10 642.13,401.76 642.46,401.42 642.79,401.07 643.12,400.73 643.46,400.39 643.80,400.05 644.14,399.71 644.48,399.38 644.83,399.04 645.17,398.71 645.52,398.37 645.87,398.04 646.23,397.71 646.58,397.37 646.94,397.04 647.30,396.71 647.66,396.39 648.02,396.06 648.39,395.73 648.75,395.41 649.12,395.09 649.49,394.76 649.86,394.44 650.24,394.12 650.62,393.80 650.99,393.48 651.37,393.17 651.76,392.85 652.14,392.54 652.53,392.22 652.91,391.91 653.30,391.60 653.70,391.29 654.09,390.98 654.48,390.68 654.88,390.37 655.28,390.07 655.68,389.76 656.08,389.46 656.49,389.16 656.89,388.86 657.30,388.56 657.71,388.27 658.12,387.97 658.54,387.68 658.95,387.39 659.37,387.10 659.79,386.81 660.21,386.52 660.63,386.23 661.06,385.94 661.48,385.66 661.91,385.38 662.34,385.10 662.77,384.82 663.20,384.54 663.64,384.26 664.07,383.98 664.51,383.71 664.95,383.44 665.39,383.17 665.83,382.90 666.27,382.63 666.72,382.36 667.17,382.10 667.62,381.83 668.07,381.57 668.52,381.31 668.97,381.05 669.43,380.79 669.88,380.54 670.34,380.28 670.80,380.03 671.26,379.78 671.73,379.53 672.19,379.28 672.66,379.04 673.12,378.79 673.59,378.55 674.06,378.31 674.53,378.07 675.01,377.83 675.48,377.59 675.96,377.36 676.44,377.12 676.91,376.89 677.39,376.66 677.88,376.43 678.36,376.21 678.84,375.98 679.33,375.76 679.82,375.54 680.30,375.32 680.79,375.10 681.28,374.88 681.78,374.67 682.27,374.46 682.76,374.25 683.26,374.04 683.76,373.83 684.26,373.63 684.76,373.42 685.26,373.22 685.76,373.02 686.26,372.82 686.77,372.63 687.27,372.43 687.78,372.24 688.29,372.05 688.80,371.86 689.31,371.67 689.82,371.48 690.33,371.30 690.84,371.12 691.36,370.94 691.88,370.76 692.39,370.59 692.91,370.41 693.43,370.24 693.95,370.07 694.47,369.90 694.99,369.73 695.52,369.57 696.04,369.41 696.57,369.25 697.09,369.09 697.62,368.93 698.15,368.78 698.67,368.62 699.20,368.47 699.74,368.32 700.27,368.18 700.80,368.03 701.33,367.89 701.87,367.75 702.40,367.61 702.94,367.47 703.47,367.33 704.01,367.20 704.55,367.07 705.09,366.94 705.63,366.81 706.17,366.69 706.71,366.57 707.25,366.44 707.80,366.33 708.34,366.21 708.88,366.09 709.43,365.98 709.97,365.87 710.52,365.76 711.07,365.65 711.61,365.55 712.16,365.45 712.71,365.35 713.26,365.25 713.81,365.15 714.36,365.06 714.91,364.96 715.46,364.87 716.02,364.78 716.57,364.70 717.12,364.61 717.68,364.53 718.23,364.45 718.79,364.38 719.34,364.30 719.90,364.23 720.45,364.16 721.01,364.09 721.57,364.02 722.12,363.95 722.68,363.89 723.24,363.83 723.80,363.77 724.36,363.71 724.91,363.66 725.47,363.61 726.03,363.56 726.59,363.51 727.15,363.46 727.71,363.42 728.28,363.38 728.84,363.34 729.40,363.30 729.96,363.27 730.52,363.23 731.08,363.20 731.65,363.18 732.21,363.15 732.77,363.12 733.33,363.10 733.89,363.08 734.46,363.06 735.02,363.05 735.58,363.04 736.15,363.02 736.71,363.01 737.27,363.01 737.84,363.00 738.40,363.00 738.96,363.00 739.53,363.00 740.09,363.01 740.65,363.01 741.22,363.02 741.78,363.03 742.34,363.04 742.90,363.06 743.47,363.07 744.03,363.09 744.59,363.12 745.15,363.14 745.72,363.16 746.28,363.19 746.84,363.22 747.40,363.25 747.96,363.29 748.53,363.33 749.09,363.36 749.65,363.41 750.21,363.45 750.77,363.49 751.33,363.54 751.89,363.59 752.45,363.64 753.01,363.70 753.57,363.75 754.13,363.81 754.68,363.87 755.24,363.93 755.80,364.00 756.36,364.07 756.91,364.14 757.47,364.21 758.02,364.28 758.58,364.36 759.13,364.43 759.69,364.51 760.24,364.60 760.80,364.68 761.35,364.77 761.90,364.86 762.45,364.95 763.00,365.04 763.55,365.14 764.10,365.23 764.65,365.33 765.20,365.43 765.75,365.54 766.30,365.64 766.85,365.75 767.39,365.86 767.94,365.97 768.48,366.09 769.03,366.21 769.57,366.32 770.11,366.45 770.65,366.57 771.20,366.69 771.74,366.82 772.28,366.95 772.82,367.08 773.35,367.22 773.89,367.35 774.43,367.49 774.96,367.63 775.50,367.77 776.03,367.92 776.57,368.06 777.10,368.21 777.63,368.36 778.16,368.51 778.69,368.67 779.22,368.82 779.75,368.98 780.27,369.14 780.80,369.31 781.32,369.47 781.85,369.64 782.37,369.81 782.89,369.98 783.41,370.15 783.93,370.33 784.45,370.50 784.97,370.68 785.48,370.86 786.00,371.05 786.51,371.23 787.03,371.42 787.54,371.61 788.05,371.80 788.56,371.99 789.07,372.19 789.57,372.39 790.08,372.59 790.58,372.79 791.09,372.99 791.59,373.20 792.09,373.40 792.59,373.61 793.09,373.82 793.59,374.04 794.08,374.25 794.58,374.47 795.07,374.69 795.56,374.91 796.05,375.13 796.54,375.36 797.03,375.58 797.52,375.81 798.00,376.04 798.49,376.28 798.97,376.51 799.45,376.75 799.93,376.98 800.41,377.22 800.88,377.47 801.36,377.71 801.83,377.96 802.31,378.20 802.78,378.45 803.25,378.70 803.71,378.96 804.18,379.21 804.64,379.47 805.11,379.73 805.57,379.99 806.03,380.25 806.49,380.51 806.94,380.78 807.40,381.05 807.85,381.31 808.30,381.59 808.75,381.86 809.20,382.13 809.65,382.41 810.10,382.69 810.54,382.97 810.98,383.25 811.42,383.53 811.86,383.82 812.30,384.10 812.73,384.39 813.17,384.68 813.60,384.97 814.03,385.27 814.45,385.56 814.88,385.86 815.31,386.16 815.73,386.46 816.15,386.76 816.57,387.06 816.99,387.37 817.40,387.67 817.81,387.98 818.23,388.29 818.64,388.60 819.04,388.92 819.45,389.23 819.85,389.55 820.26,389.86 820.66,390.18 821.05,390.50 821.45,390.83 821.84,391.15 822.24,391.48 822.63,391.80 823.02,392.13 823.40,392.46 823.79,392.79 824.17,393.13 824.55,393.46 824.93,393.80 825.30,394.13 825.68,394.47 826.05,394.81 826.42,395.15 826.79,395.50 827.16,395.84 827.52,396.19 827.88,396.53 828.24,396.88 828.60,397.23 828.96,397.58 829.31,397.94 829.66,398.29 830.01,398.65 830.36,399.00 830.70,399.36 831.04,399.72 831.39,400.08 831.72,400.44 832.06,400.81 832.39,401.17 832.73,401.54 833.06,401.90 833.38,402.27 833.71,402.64 834.03,403.01 834.35,403.38 834.67,403.76 834.99,404.13 835.30,404.51 835.61,404.88 835.92,405.26 836.23,405.64 836.53,406.02 836.84,406.40 837.14,406.79 837.43,407.17 837.73,407.55 838.02,407.94 838.31,408.33 838.60,408.72 838.89,409.10 839.17,409.49 839.46,409.89 839.73,410.28 840.01,410.67 840.29,411.07 840.56,411.46 840.83,411.86 841.09,412.26 841.36,412.65 841.62,413.05 841.88,413.45 842.14,413.85 842.40,414.26 842.65,414.66 842.90,415.06 843.15,415.47 843.39,415.87 843.63,416.28 843.88,416.69 844.11,417.10 844.35,417.51 844.58,417.92 844.81,418.33 845.04,418.74 845.27,419.15 845.49,419.57 845.71,419.98 845.93,420.39 846.15,420.81 846.36,421.23 846.57,421.64 846.78,422.06 846.98,422.48 847.19,422.90 847.39,423.32 847.58,423.74 847.78,424.16 847.97,424.59 848.16,425.01 848.35,425.43 848.54,425.86 848.72,426.28 848.90,426.71 849.08,427.13 849.25,427.56 849.43,427.99 849.60,428.41 849.76,428.84 849.93,429.27 850.09,429.70 850.25,430.13 850.41,430.56 850.56,430.99 850.71,431.42 850.86,431.85 851.01,432.29 851.15,432.72 851.29,433.15 851.43,433.59 851.57,434.02 851.70,434.46 851.83,434.89 851.96,435.33 852.09,435.76 852.21,436.20 852.33,436.63 852.45,437.07 852.56,437.51 852.68,437.95 852.78,438.38 852.89,438.82 853.00,439.26 853.10,439.70 853.20,440.14 853.29,440.58 853.39,441.02 853.48,441.46 853.57,441.90 853.65,442.34 853.74,442.78 853.82,443.22 853.90,443.66 853.97,444.10 854.04,444.54 854.11,444.98 854.18,445.42 854.25,445.86 854.31,446.31 854.37,446.75 854.42,447.19 854.48,447.63 854.53,448.07 854.58,448.51 854.62,448.96 854.67,449.40 854.71,449.84 854.75,450.28 854.78,450.72 854.82,451.17 854.85,451.61 854.87,452.05 854.90,452.49 854.92,452.93 854.94,453.37 854.96,453.82 854.97,454.26 854.98,454.70 854.99,455.14 855.00,455.58 855.00,456.02 855.00,456.46 855.00,456.90 854.99,457.34 854.99,457.78 854.98,458.22 854.96,458.66 854.95,459.10 854.93,459.54 854.91,459.98 854.89,460.42 854.86,460.86 854.83,461.30 854.80,461.73 854.77,462.17 854.73,462.61 854.69,463.05 854.65,463.48 854.61,463.92 854.56,464.36 854.51,464.79 854.46,465.23 854.40,465.66 854.35,466.10 854.29,466.53 854.22,466.96 854.16,467.40 854.09,467.83 854.02,468.26 853.95,468.69 853.87,469.12 853.79,469.55 853.71,469.98 853.63,470.41 853.54,470.84 853.46,471.27 853.36,471.70 853.27,472.13 853.17,472.55 853.07,472.98 852.97,473.41 852.87,473.83 852.76,474.26 852.65,474.68 852.54,475.10 852.43,475.53 852.31,475.95 852.19,476.37 852.07,476.79 851.95,477.21 851.82,477.63 851.69,478.05 851.56,478.47 851.42,478.88 851.28,479.30 851.15,479.71 851.00,480.13 850.86,480.54 850.71,480.96 850.56,481.37 850.41,481.78 850.26,482.19 850.10,482.60 849.94,483.01 849.78,483.42 849.61,483.82 849.45,484.23 849.28,484.64 849.10,485.04 848.93,485.44 848.75,485.85 848.58,486.25" fill="none" stroke="#D95319" stroke-width="2.8" stroke-linejoin="round" stroke-linecap="butt"/>
<text x="607.20" y="574" text-anchor="middle" class="tk">-0.05</text>
<text x="697.06" y="574" text-anchor="middle" class="tk">0</text>
<text x="786.92" y="574" text-anchor="middle" class="tk">0.05</text>
<text x="549.5" y="412" text-anchor="end" class="tk">0.05</text>
<text x="549.5" y="461" text-anchor="end" class="tk">0</text>
<text x="549.5" y="511" text-anchor="end" class="tk">-0.05</text>
<text x="705.00" y="357" text-anchor="middle" class="ti">Floor 2 Phase Portrait</text>
<text x="705.00" y="592" text-anchor="middle" class="lb">x₂</text>
<text x="0" y="0" transform="translate(510,459.00) rotate(-90)" text-anchor="middle" class="lb">v₂</text>
</svg>
</div></body></html>
